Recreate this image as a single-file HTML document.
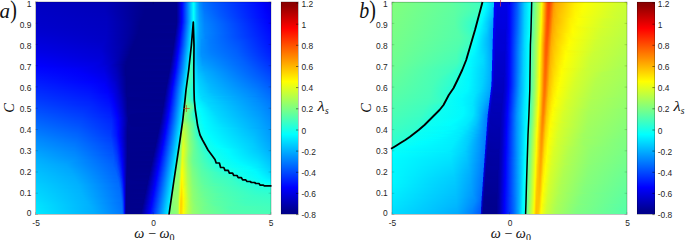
<!DOCTYPE html><html><head><meta charset="utf-8"><style>
*{margin:0;padding:0;box-sizing:border-box}
html,body{width:685px;height:240px;background:#fff;overflow:hidden;position:relative}
.hm{position:absolute;overflow:hidden}
.hr{position:absolute;left:0;width:100%}
.cb{position:absolute}
.ov{position:absolute;left:0;top:0}
.tk,.xl,.yl,.ll,.pl{position:absolute;white-space:nowrap;line-height:1;color:#262626}
.tk{font:8.4px "Liberation Sans",sans-serif;transform:translateY(-50%)}
.tk.r{transform:translate(-100%,-50%)}
.tk.c{transform:translate(-50%,-50%)}
.xl{font:14.2px "Liberation Serif",serif;transform:translate(-50%,-50%);color:#111}
.xl sub{font-size:10px;vertical-align:-2.2px;font-style:normal}
.yl{font:14.5px "Liberation Serif",serif;transform:translate(-50%,-50%) rotate(-90deg);color:#111}
.ll{font:14px "Liberation Serif",serif;transform:translateY(-50%);color:#111}
.ll sub{font-size:9.5px;vertical-align:-2.5px;margin-left:0.6px}
.ll .lam{display:inline-block;transform:scale(1.2,1.08)}
.pl{font:21px "Liberation Serif",serif;transform:translateY(-50%);color:#111}
.pp{display:inline-block;transform:scale(0.95,1.2) translate(0,-0.6px)}
.pb{display:inline-block;transform-origin:50% 80%;transform:scale(0.95,1.13) translate(0,0.7px)}
</style></head><body><div class="hm" style="left:36px;top:2px;width:235px;height:212px"><div class="hr" style="top:0px;height:1px;background:linear-gradient(90deg,#0000c2 0.5px,#0000b4 71.5px,#00008b 109.5px,#00008b 140.5px,#0000b1 142.5px,#0000f4 145.5px,#000cff 146.5px,#00edff 156.5px,#07fef8 157.5px,#00efff 158.5px,#00c0ff 160.5px,#0092ff 163.5px,#0074ff 167.5px,#005bff 176.5px,#0006ff 223.5px,#0000ee 231.5px,#0000e7 234.5px)"></div><div class="hr" style="top:1px;height:1px;background:linear-gradient(90deg,#0000c2 0.5px,#0000b5 71.5px,#00008b 109.5px,#00008b 140.5px,#0000b1 142.5px,#0000f4 145.5px,#000cff 146.5px,#00edff 156.5px,#07fef8 157.5px,#00f0ff 158.5px,#00c0ff 160.5px,#0092ff 163.5px,#0074ff 167.5px,#005aff 177.5px,#0007ff 223.5px,#0000f5 229.5px,#0000e8 234.5px)"></div><div class="hr" style="top:2px;height:1px;background:linear-gradient(90deg,#0000c3 0.5px,#0000b6 70.5px,#00008b 109.5px,#00008b 140.5px,#0000b1 142.5px,#0000f4 145.5px,#000cff 146.5px,#00edff 156.5px,#07fef8 157.5px,#00f0ff 158.5px,#00c0ff 160.5px,#0092ff 163.5px,#0074ff 167.5px,#005bff 177.5px,#001eff 213.5px,#0000fc 227.5px,#0000e9 234.5px)"></div><div class="hr" style="top:3px;height:1px;background:linear-gradient(90deg,#0000c3 0.5px,#0000b7 70.5px,#00008b 108.5px,#00008b 140.5px,#0000b1 142.5px,#0000f4 145.5px,#000cff 146.5px,#00edff 156.5px,#07fef8 157.5px,#00f0ff 158.5px,#00c0ff 160.5px,#0092ff 163.5px,#0074ff 167.5px,#005cff 177.5px,#0009ff 223.5px,#0000f7 229.5px,#0000ea 234.5px)"></div><div class="hr" style="top:4px;height:1px;background:linear-gradient(90deg,#0000c3 0.5px,#0000b8 69.5px,#000090 102.5px,#00008b 123.5px,#00008b 140.5px,#0000b1 142.5px,#0000f4 145.5px,#000cff 146.5px,#00edff 156.5px,#07fef8 157.5px,#00f0ff 158.5px,#00c0ff 160.5px,#0093ff 163.5px,#0075ff 167.5px,#005dff 177.5px,#000aff 223.5px,#0000f8 229.5px,#0000eb 234.5px)"></div><div class="hr" style="top:5px;height:1px;background:linear-gradient(90deg,#0000c4 0.5px,#0000b9 69.5px,#000090 102.5px,#00008b 124.5px,#00008b 140.5px,#0000b1 142.5px,#0000f4 145.5px,#000cff 146.5px,#00edff 156.5px,#07fef8 157.5px,#00f0ff 158.5px,#00c1ff 160.5px,#0094ff 163.5px,#0076ff 167.5px,#005eff 177.5px,#000bff 223.5px,#0000f9 229.5px,#0000ec 234.5px)"></div><div class="hr" style="top:6px;height:1px;background:linear-gradient(90deg,#0000c4 0.5px,#0000ba 68.5px,#000093 100.5px,#00008b 110.5px,#00008b 140.5px,#0000b1 142.5px,#0000f4 145.5px,#000cff 146.5px,#00edff 156.5px,#07fef8 157.5px,#00f0ff 158.5px,#00c1ff 160.5px,#0095ff 163.5px,#0077ff 167.5px,#005eff 177.5px,#000cff 223.5px,#0000fb 229.5px,#0000ee 234.5px)"></div><div class="hr" style="top:7px;height:1px;background:linear-gradient(90deg,#0000c5 0.5px,#0000bb 68.5px,#000095 99.5px,#00008b 109.5px,#00008b 140.5px,#0000b1 142.5px,#0000f4 145.5px,#000cff 146.5px,#00edff 156.5px,#07fef8 157.5px,#00f0ff 158.5px,#00c2ff 160.5px,#0096ff 163.5px,#0079ff 167.5px,#0061ff 176.5px,#000dff 223.5px,#0000f9 230.5px,#0000ef 234.5px)"></div><div class="hr" style="top:8px;height:1px;background:linear-gradient(90deg,#0000c5 0.5px,#0000bc 68.5px,#000095 99.5px,#00008b 108.5px,#00008b 140.5px,#0000b1 142.5px,#0000f4 145.5px,#000cff 146.5px,#00edff 156.5px,#07fef8 157.5px,#00f0ff 158.5px,#00c2ff 160.5px,#0098ff 163.5px,#0075ff 168.5px,#0054ff 184.5px,#000bff 224.5px,#0000fa 230.5px,#0000f0 234.5px)"></div><div class="hr" style="top:9px;height:1px;background:linear-gradient(90deg,#0000c5 0.5px,#0000bc 68.5px,#000096 98.5px,#00008b 108.5px,#00008b 140.5px,#0000b1 142.5px,#0000f4 145.5px,#000cff 146.5px,#00edff 156.5px,#07fef8 157.5px,#00f1ff 158.5px,#00c3ff 160.5px,#0099ff 163.5px,#0077ff 168.5px,#0057ff 183.5px,#000cff 224.5px,#0000f9 231.5px,#0000f1 234.5px)"></div><div class="hr" style="top:10px;height:1px;background:linear-gradient(90deg,#0000c6 0.5px,#0000bc 69.5px,#000095 99.5px,#00008b 108.5px,#00008b 140.5px,#0000b1 142.5px,#0000f4 145.5px,#000cff 146.5px,#00edff 156.5px,#07fef8 157.5px,#00f1ff 158.5px,#00c3ff 160.5px,#009aff 163.5px,#0078ff 168.5px,#0058ff 183.5px,#000aff 225.5px,#0000fa 231.5px,#0000f3 234.5px)"></div><div class="hr" style="top:11px;height:1px;background:linear-gradient(90deg,#0000c6 0.5px,#0000bd 69.5px,#000094 99.5px,#00008b 108.5px,#00008b 140.5px,#0000b1 142.5px,#0000f4 145.5px,#000cff 146.5px,#00edff 156.5px,#07fef8 157.5px,#00f1ff 158.5px,#00c4ff 160.5px,#009bff 163.5px,#0079ff 168.5px,#005bff 182.5px,#000bff 225.5px,#0000f9 232.5px,#0000f4 234.5px)"></div><div class="hr" style="top:12px;height:1px;background:linear-gradient(90deg,#0000c6 0.5px,#0000bd 69.5px,#000096 98.5px,#00008b 107.5px,#00008b 140.5px,#0000b1 142.5px,#0000f4 145.5px,#000cff 146.5px,#00edff 156.5px,#07fef8 157.5px,#00f1ff 158.5px,#00c4ff 160.5px,#009cff 163.5px,#007bff 168.5px,#005cff 182.5px,#000aff 226.5px,#0000f7 233.5px,#0000f5 234.5px)"></div><div class="hr" style="top:13px;height:1px;background:linear-gradient(90deg,#0000c7 0.5px,#0000bd 70.5px,#000094 99.5px,#00008b 108.5px,#00008b 140.5px,#0000b1 142.5px,#0000f4 145.5px,#000cff 146.5px,#00edff 156.5px,#07fef8 157.5px,#00f1ff 158.5px,#00c5ff 160.5px,#009cff 163.5px,#007cff 168.5px,#005bff 183.5px,#0008ff 227.5px,#0000f6 234.5px)"></div><div class="hr" style="top:14px;height:1px;background:linear-gradient(90deg,#0000c7 0.5px,#0000be 70.5px,#000094 99.5px,#00008b 107.5px,#00008b 140.5px,#0000b1 142.5px,#0000f4 145.5px,#000cff 146.5px,#00edff 156.5px,#07fef8 157.5px,#00f1ff 158.5px,#00c5ff 160.5px,#009dff 163.5px,#007dff 168.5px,#005cff 183.5px,#0007ff 228.5px,#0000f7 234.5px)"></div><div class="hr" style="top:15px;height:1px;background:linear-gradient(90deg,#0000c8 0.5px,#0000be 70.5px,#000096 98.5px,#00008b 106.5px,#00008b 140.5px,#0000b1 142.5px,#0000f4 145.5px,#000cff 146.5px,#00edff 156.5px,#07fef8 157.5px,#00f1ff 158.5px,#00c5ff 160.5px,#009eff 163.5px,#007eff 168.5px,#005cff 184.5px,#0005ff 229.5px,#0000f9 234.5px)"></div><div class="hr" style="top:16px;height:1px;background:linear-gradient(90deg,#0000c8 0.5px,#0000bf 70.5px,#000097 97.5px,#00008b 106.5px,#00008b 140.5px,#0000b1 142.5px,#0000f4 145.5px,#000cff 146.5px,#00edff 156.5px,#07fef8 157.5px,#00f1ff 158.5px,#00c6ff 160.5px,#009fff 163.5px,#007fff 168.5px,#005bff 185.5px,#0000fc 233.5px,#0000fa 234.5px)"></div><div class="hr" style="top:17px;height:1px;background:linear-gradient(90deg,#0000c8 0.5px,#0000bf 70.5px,#000099 96.5px,#00008b 105.5px,#00008b 140.5px,#0000b1 142.5px,#0000f4 145.5px,#000cff 146.5px,#00edff 156.5px,#07fef8 157.5px,#00f1ff 158.5px,#00c6ff 160.5px,#009fff 163.5px,#0080ff 168.5px,#0059ff 187.5px,#0000fb 234.5px)"></div><div class="hr" style="top:18px;height:1px;background:linear-gradient(90deg,#0000c9 0.5px,#0000bf 70.5px,#00009b 95.5px,#00008b 105.5px,#00008b 140.5px,#0000b1 142.5px,#0000f4 145.5px,#000cff 146.5px,#00edff 156.5px,#07fef8 157.5px,#00f1ff 158.5px,#00c6ff 160.5px,#00a0ff 163.5px,#0081ff 168.5px,#0052ff 191.5px,#0000fc 234.5px)"></div><div class="hr" style="top:19px;height:1px;background:linear-gradient(90deg,#0000c9 0.5px,#0000c0 70.5px,#00009d 94.5px,#00008b 104.5px,#00008b 140.5px,#0000b1 142.5px,#0000f4 145.5px,#000cff 146.5px,#00edff 156.5px,#07fef8 157.5px,#00f1ff 158.5px,#00c6ff 160.5px,#00a0ff 163.5px,#0082ff 168.5px,#0046ff 198.5px,#0000fd 234.5px)"></div><div class="hr" style="top:20px;height:1px;background:linear-gradient(90deg,#0000ca 0.5px,#0000c0 70.5px,#00009f 93.5px,#00008b 104.5px,#00008c 140.5px,#0000b2 142.5px,#0000f6 145.5px,#000dff 146.5px,#00eeff 156.5px,#0bfef4 157.5px,#00f6ff 158.5px,#00c9ff 160.5px,#00a2ff 163.5px,#0083ff 168.5px,#0047ff 198.5px,#0000fe 234.5px)"></div><div class="hr" style="top:21px;height:1px;background:linear-gradient(90deg,#0000ca 0.5px,#0000c0 70.5px,#00009f 93.5px,#00008b 104.5px,#00008d 140.5px,#0000f8 145.5px,#0026ff 147.5px,#00f0ff 156.5px,#0dfff2 157.5px,#00f5ff 158.5px,#00c9ff 160.5px,#00a2ff 163.5px,#0084ff 168.5px,#0033ff 209.5px,#0001ff 234.5px)"></div><div class="hr" style="top:22px;height:1px;background:linear-gradient(90deg,#0000cb 0.5px,#0000c0 70.5px,#00009f 93.5px,#00008b 104.5px,#00008e 140.5px,#0001fa 145.5px,#006cff 150.5px,#00f2ff 156.5px,#13ffec 157.5px,#00f5ff 158.5px,#00c9ff 160.5px,#00a3ff 163.5px,#0085ff 168.5px,#0002ff 234.5px)"></div><div class="hr" style="top:23px;height:1px;background:linear-gradient(90deg,#0000cb 0.5px,#0000c1 70.5px,#00009f 93.5px,#00008b 103.5px,#00008b 139.5px,#000090 140.5px,#0002fc 145.5px,#00f4ff 156.5px,#13ffec 157.5px,#00f4ff 158.5px,#00c9ff 160.5px,#00a3ff 163.5px,#0085ff 168.5px,#0003ff 234.5px)"></div><div class="hr" style="top:24px;height:1px;background:linear-gradient(90deg,#0000cc 0.5px,#0000c1 70.5px,#00009f 93.5px,#00008b 103.5px,#00008b 139.5px,#000092 140.5px,#0004fd 145.5px,#00f6ff 156.5px,#13ffec 157.5px,#00f3ff 158.5px,#00c8ff 160.5px,#00a3ff 163.5px,#0086ff 168.5px,#0004ff 234.5px)"></div><div class="hr" style="top:25px;height:1px;background:linear-gradient(90deg,#0000cc 0.5px,#0000c1 70.5px,#00009e 93.5px,#00008b 103.5px,#00008b 139.5px,#000095 140.5px,#0000ed 144.5px,#0005fe 145.5px,#03f7fc 156.5px,#13ffec 157.5px,#00f2ff 158.5px,#00c8ff 160.5px,#00a3ff 163.5px,#0086ff 168.5px,#0005ff 234.5px)"></div><div class="hr" style="top:26px;height:1px;background:linear-gradient(90deg,#0000cd 0.5px,#0000c2 70.5px,#00009e 93.5px,#00008b 103.5px,#00008b 139.5px,#000098 140.5px,#0000f0 144.5px,#0007ff 145.5px,#00e3ff 155.5px,#0af9f5 156.5px,#13ffec 157.5px,#00f2ff 158.5px,#00c8ff 160.5px,#00a3ff 163.5px,#0087ff 168.5px,#0006ff 234.5px)"></div><div class="hr" style="top:27px;height:1px;background:linear-gradient(90deg,#0000ce 0.5px,#0000c2 70.5px,#00009e 93.5px,#00008b 103.5px,#00008c 139.5px,#0000b1 141.5px,#0000f3 144.5px,#000aff 145.5px,#00e5ff 155.5px,#0afaf5 156.5px,#13ffec 157.5px,#00f1ff 158.5px,#00c7ff 160.5px,#00a3ff 163.5px,#0087ff 168.5px,#0007ff 234.5px)"></div><div class="hr" style="top:28px;height:1px;background:linear-gradient(90deg,#0000ce 0.5px,#0000c2 70.5px,#00009e 93.5px,#00008b 102.5px,#00008d 139.5px,#0000f5 144.5px,#000cff 145.5px,#00e7ff 155.5px,#0afbf5 156.5px,#13ffec 157.5px,#00f0ff 158.5px,#00c7ff 160.5px,#00a3ff 163.5px,#0087ff 168.5px,#0008ff 234.5px)"></div><div class="hr" style="top:29px;height:1px;background:linear-gradient(90deg,#0000cf 0.5px,#0000c3 69.5px,#00009f 92.5px,#00008b 102.5px,#00008e 139.5px,#0000f8 144.5px,#0025ff 146.5px,#00e9ff 155.5px,#0efcf1 156.5px,#14ffeb 157.5px,#00efff 158.5px,#00c6ff 160.5px,#00a3ff 163.5px,#0087ff 168.5px,#0009ff 234.5px)"></div><div class="hr" style="top:30px;height:1px;background:linear-gradient(90deg,#0000d0 0.5px,#0000c3 70.5px,#00009f 92.5px,#00008b 102.5px,#000090 139.5px,#0001fa 144.5px,#003dff 147.5px,#00ebff 155.5px,#15fdea 156.5px,#14ffeb 157.5px,#00eeff 158.5px,#00c6ff 160.5px,#00a2ff 163.5px,#0088ff 168.5px,#000aff 234.5px)"></div><div class="hr" style="top:31px;height:1px;background:linear-gradient(90deg,#0000d1 0.5px,#0000c3 70.5px,#00009f 92.5px,#00008b 102.5px,#00008b 138.5px,#000091 139.5px,#0002fb 144.5px,#00edff 155.5px,#16fee9 156.5px,#14ffeb 157.5px,#00edff 158.5px,#00c5ff 160.5px,#00a2ff 163.5px,#0088ff 168.5px,#000bff 234.5px)"></div><div class="hr" style="top:32px;height:1px;background:linear-gradient(90deg,#0000d2 0.5px,#0000c3 70.5px,#00009e 92.5px,#00008b 101.5px,#00008b 138.5px,#000094 139.5px,#0003fd 144.5px,#00eeff 155.5px,#16fee9 156.5px,#14ffeb 157.5px,#00ecff 158.5px,#00c4ff 160.5px,#00a2ff 163.5px,#0085ff 169.5px,#000cff 234.5px)"></div><div class="hr" style="top:33px;height:1px;background:linear-gradient(90deg,#0000d3 0.5px,#0000c4 69.5px,#0000a0 91.5px,#00008b 101.5px,#00008b 138.5px,#000097 139.5px,#0005fe 144.5px,#00f0ff 155.5px,#1bffe4 156.5px,#15feea 157.5px,#00ebff 158.5px,#00c4ff 160.5px,#00a1ff 163.5px,#0085ff 169.5px,#000dff 234.5px)"></div><div class="hr" style="top:34px;height:1px;background:linear-gradient(90deg,#0000d4 0.5px,#0000c5 69.5px,#0000a2 90.5px,#00008b 100.5px,#00008c 138.5px,#0000af 140.5px,#0000f0 143.5px,#0006ff 144.5px,#00f2ff 155.5px,#24ffdb 156.5px,#15feea 157.5px,#00eaff 158.5px,#00c3ff 160.5px,#00a1ff 163.5px,#0084ff 169.5px,#0014ff 231.5px,#000eff 234.5px)"></div><div class="hr" style="top:35px;height:1px;background:linear-gradient(90deg,#0000d6 0.5px,#0000c5 69.5px,#0000a2 90.5px,#00008b 100.5px,#00008c 138.5px,#0000dd 142.5px,#0000f2 143.5px,#0009ff 144.5px,#00f4ff 155.5px,#24ffdb 156.5px,#1cffe3 157.5px,#00e9ff 158.5px,#00c2ff 160.5px,#00a1ff 163.5px,#0084ff 169.5px,#0026ff 222.5px,#000eff 234.5px)"></div><div class="hr" style="top:36px;height:1px;background:linear-gradient(90deg,#0000d7 0.5px,#0000c5 69.5px,#0000a1 90.5px,#00008b 100.5px,#00008d 138.5px,#0000f5 143.5px,#000bff 144.5px,#00f6ff 155.5px,#25ffda 156.5px,#20ffdf 157.5px,#00e8ff 158.5px,#00c2ff 160.5px,#00a0ff 163.5px,#0084ff 169.5px,#0032ff 216.5px,#000fff 234.5px)"></div><div class="hr" style="top:37px;height:1px;background:linear-gradient(90deg,#0000d8 0.5px,#0000c6 69.5px,#0000a1 90.5px,#00008b 99.5px,#00008f 138.5px,#0000f7 143.5px,#0023ff 145.5px,#00e2ff 154.5px,#05f7fa 155.5px,#26ffd9 156.5px,#21ffde 157.5px,#00e7ff 158.5px,#00b3ff 161.5px,#0093ff 165.5px,#007cff 173.5px,#0043ff 208.5px,#0010ff 234.5px)"></div><div class="hr" style="top:38px;height:1px;background:linear-gradient(90deg,#0000d9 0.5px,#0000c6 69.5px,#0000a0 90.5px,#00008b 99.5px,#00008b 137.5px,#000091 138.5px,#0001f9 143.5px,#003bff 146.5px,#00e4ff 154.5px,#0ef9f1 155.5px,#27ffd8 156.5px,#22ffdd 157.5px,#00e6ff 158.5px,#00b3ff 161.5px,#0092ff 165.5px,#007cff 173.5px,#0046ff 207.5px,#0011ff 234.5px)"></div><div class="hr" style="top:39px;height:1px;background:linear-gradient(90deg,#0000da 0.5px,#0000c7 69.5px,#0000a2 89.5px,#00008b 98.5px,#00008b 137.5px,#000093 138.5px,#0002fb 143.5px,#00e6ff 154.5px,#0efaf1 155.5px,#27ffd8 156.5px,#22ffdd 157.5px,#00e5ff 158.5px,#00b2ff 161.5px,#0092ff 165.5px,#007cff 173.5px,#004bff 205.5px,#0012ff 234.5px)"></div><div class="hr" style="top:40px;height:1px;background:linear-gradient(90deg,#0000db 0.5px,#0000c8 68.5px,#0000a4 88.5px,#00008b 98.5px,#00008b 137.5px,#000096 138.5px,#0002fd 143.5px,#00e8ff 154.5px,#0ffbf0 155.5px,#28ffd7 156.5px,#23ffdc 157.5px,#00e4ff 158.5px,#00b1ff 161.5px,#0092ff 165.5px,#007cff 173.5px,#004eff 204.5px,#0013ff 234.5px)"></div><div class="hr" style="top:41px;height:1px;background:linear-gradient(90deg,#0000dc 0.5px,#0000ca 67.5px,#0000a6 87.5px,#00008b 98.5px,#00008b 137.5px,#0000ae 139.5px,#0004fe 143.5px,#00eaff 154.5px,#14fceb 155.5px,#29ffd6 156.5px,#24ffdb 157.5px,#00e3ff 158.5px,#00b1ff 161.5px,#0091ff 165.5px,#007cff 173.5px,#0051ff 203.5px,#0014ff 234.5px)"></div><div class="hr" style="top:42px;height:1px;background:linear-gradient(90deg,#0000de 0.5px,#0000ca 67.5px,#0000a8 86.5px,#00008b 97.5px,#00008c 137.5px,#0000c5 140.5px,#0006fe 143.5px,#00ebff 154.5px,#1ffde0 155.5px,#2affd5 156.5px,#24ffdb 157.5px,#00e1ff 158.5px,#00b0ff 161.5px,#0091ff 165.5px,#007dff 173.5px,#0052ff 203.5px,#0015ff 234.5px)"></div><div class="hr" style="top:43px;height:1px;background:linear-gradient(90deg,#0000df 0.5px,#0000cc 66.5px,#0000aa 85.5px,#00008b 97.5px,#00008d 137.5px,#0000f2 142.5px,#0008ff 143.5px,#00edff 154.5px,#1ffee0 155.5px,#2affd5 156.5px,#25ffda 157.5px,#00e0ff 158.5px,#00afff 161.5px,#0091ff 165.5px,#007dff 173.5px,#0055ff 202.5px,#0016ff 234.5px)"></div><div class="hr" style="top:44px;height:1px;background:linear-gradient(90deg,#0000e0 0.5px,#0000cd 65.5px,#0000af 83.5px,#00008b 96.5px,#00008f 137.5px,#0000f5 142.5px,#000bff 143.5px,#00f0ff 154.5px,#20ffdf 155.5px,#2bffd4 156.5px,#26ffd9 157.5px,#00dfff 158.5px,#00afff 161.5px,#0090ff 165.5px,#007cff 174.5px,#0056ff 202.5px,#0017ff 234.5px)"></div><div class="hr" style="top:45px;height:1px;background:linear-gradient(90deg,#0000e1 0.5px,#0000ce 65.5px,#0000af 83.5px,#00008b 96.5px,#00008b 136.5px,#000091 137.5px,#0000f8 142.5px,#0023ff 144.5px,#00f2ff 154.5px,#31ffce 155.5px,#27ffd8 157.5px,#00ddff 158.5px,#00aeff 161.5px,#0090ff 165.5px,#007cff 174.5px,#0059ff 201.5px,#0018ff 234.5px)"></div><div class="hr" style="top:46px;height:1px;background:linear-gradient(90deg,#0000e2 0.5px,#0000cf 65.5px,#0000ac 84.5px,#00008b 95.5px,#00008b 136.5px,#000094 137.5px,#0001fa 142.5px,#0064ff 147.5px,#00f4ff 154.5px,#32ffcd 155.5px,#27ffd8 157.5px,#00dcff 158.5px,#00adff 161.5px,#0090ff 165.5px,#007dff 174.5px,#005aff 201.5px,#001aff 234.5px)"></div><div class="hr" style="top:47px;height:1px;background:linear-gradient(90deg,#0000e3 0.5px,#0000d1 64.5px,#0000ae 83.5px,#00008b 95.5px,#00008b 136.5px,#000097 137.5px,#0002fc 142.5px,#00f6ff 154.5px,#33ffcc 155.5px,#28ffd7 157.5px,#00dbff 158.5px,#00adff 161.5px,#0090ff 165.5px,#007dff 174.5px,#005dff 200.5px,#001bff 234.5px)"></div><div class="hr" style="top:48px;height:1px;background:linear-gradient(90deg,#0000e4 0.5px,#0000d2 64.5px,#0000ae 83.5px,#00008b 95.5px,#00008c 136.5px,#0000c4 139.5px,#0004fd 142.5px,#00e4ff 153.5px,#0cf9f3 154.5px,#34ffcb 155.5px,#29ffd6 157.5px,#00daff 158.5px,#00acff 161.5px,#0090ff 165.5px,#007eff 174.5px,#005eff 200.5px,#001cff 234.5px)"></div><div class="hr" style="top:49px;height:1px;background:linear-gradient(90deg,#0000e6 0.5px,#0000d3 64.5px,#0000b0 82.5px,#00008b 94.5px,#00008d 136.5px,#0000f0 141.5px,#0006fe 142.5px,#00e6ff 153.5px,#13faec 154.5px,#34ffcb 155.5px,#29ffd6 157.5px,#00d9ff 158.5px,#00acff 161.5px,#0090ff 165.5px,#007fff 174.5px,#005fff 200.5px,#001dff 234.5px)"></div><div class="hr" style="top:50px;height:1px;background:linear-gradient(90deg,#0000e7 0.5px,#0000d3 65.5px,#0000ad 83.5px,#00008b 94.5px,#00008f 136.5px,#0000f3 141.5px,#0008ff 142.5px,#00e9ff 153.5px,#13fcec 154.5px,#35ffca 155.5px,#2affd5 157.5px,#00d8ff 158.5px,#00acff 161.5px,#0090ff 165.5px,#0080ff 174.5px,#0060ff 200.5px,#001eff 234.5px)"></div><div class="hr" style="top:51px;height:1px;background:linear-gradient(90deg,#0000e9 0.5px,#0000d4 65.5px,#0000b0 82.5px,#00008b 94.5px,#00008b 135.5px,#000091 136.5px,#0000f6 141.5px,#000bff 142.5px,#00ebff 153.5px,#20fddf 154.5px,#36ffc9 155.5px,#2bffd4 157.5px,#00d7ff 158.5px,#00acff 161.5px,#0091ff 165.5px,#0080ff 175.5px,#0060ff 201.5px,#0020ff 234.5px)"></div><div class="hr" style="top:52px;height:1px;background:linear-gradient(90deg,#0000eb 0.5px,#0000d5 65.5px,#0000b2 81.5px,#00008b 93.5px,#00008b 135.5px,#000093 136.5px,#0000f8 141.5px,#0022ff 143.5px,#00edff 153.5px,#28fed7 154.5px,#37ffc8 155.5px,#2bffd4 157.5px,#00d7ff 158.5px,#00acff 161.5px,#0092ff 165.5px,#0081ff 175.5px,#0061ff 201.5px,#0021ff 234.5px)"></div><div class="hr" style="top:53px;height:1px;background:linear-gradient(90deg,#0000ec 0.5px,#0000d5 66.5px,#0000af 82.5px,#00008b 93.5px,#00008b 135.5px,#000097 136.5px,#0001fb 141.5px,#00b3ff 150.5px,#00efff 153.5px,#28fed7 154.5px,#37ffc8 155.5px,#2cffd3 157.5px,#00d7ff 158.5px,#00adff 161.5px,#0093ff 165.5px,#0083ff 175.5px,#0062ff 201.5px,#0022ff 234.5px)"></div><div class="hr" style="top:54px;height:1px;background:linear-gradient(90deg,#0000ee 0.5px,#0000d6 66.5px,#0000af 82.5px,#00008b 92.5px,#00008c 135.5px,#0000ae 137.5px,#0002fc 141.5px,#00f2ff 153.5px,#37ffc8 154.5px,#33ffcc 156.5px,#2dffd2 157.5px,#00d7ff 158.5px,#00aeff 161.5px,#0094ff 165.5px,#0083ff 176.5px,#0060ff 203.5px,#0024ff 234.5px)"></div><div class="hr" style="top:55px;height:1px;background:linear-gradient(90deg,#0000f0 0.5px,#0000d7 66.5px,#0000b2 81.5px,#00008b 92.5px,#00008d 135.5px,#0004fe 141.5px,#00f4ff 153.5px,#3fffc0 154.5px,#2dffd2 157.5px,#00d7ff 158.5px,#00afff 161.5px,#0092ff 166.5px,#0062ff 203.5px,#0026ff 234.5px)"></div><div class="hr" style="top:56px;height:1px;background:linear-gradient(90deg,#0000f2 0.5px,#0000d8 66.5px,#0000b2 81.5px,#00008c 91.5px,#00008e 135.5px,#0000f0 140.5px,#0006ff 141.5px,#00f6ff 153.5px,#40ffbf 154.5px,#2effd1 157.5px,#00d7ff 158.5px,#00b0ff 161.5px,#0094ff 166.5px,#0061ff 204.5px,#0027ff 234.5px)"></div><div class="hr" style="top:57px;height:1px;background:linear-gradient(90deg,#0000f3 0.5px,#0000da 65.5px,#0000b9 79.5px,#00008b 91.5px,#00008b 134.5px,#000090 135.5px,#0000f3 140.5px,#0008ff 141.5px,#00e4ff 152.5px,#08f8f7 153.5px,#41ffbe 154.5px,#2fffd0 157.5px,#00d8ff 158.5px,#00b1ff 161.5px,#0096ff 166.5px,#0063ff 204.5px,#0029ff 234.5px)"></div><div class="hr" style="top:58px;height:1px;background:linear-gradient(90deg,#0000f5 0.5px,#0000db 65.5px,#0000b9 79.5px,#00008b 91.5px,#00008b 134.5px,#000093 135.5px,#0000f6 140.5px,#000bff 141.5px,#00e7ff 152.5px,#17fae8 153.5px,#41ffbe 154.5px,#30ffcf 157.5px,#00d8ff 158.5px,#00b3ff 161.5px,#0098ff 166.5px,#0062ff 205.5px,#002aff 234.5px)"></div><div class="hr" style="top:59px;height:1px;background:linear-gradient(90deg,#0000f7 0.5px,#0000dd 64.5px,#0000c0 77.5px,#00008b 90.5px,#00008b 134.5px,#000096 135.5px,#0000f9 140.5px,#0022ff 142.5px,#00e9ff 152.5px,#17fbe8 153.5px,#42ffbd 154.5px,#30ffcf 157.5px,#00d9ff 158.5px,#00b5ff 161.5px,#009aff 166.5px,#0062ff 206.5px,#002cff 234.5px)"></div><div class="hr" style="top:60px;height:1px;background:linear-gradient(90deg,#0000f8 0.5px,#0000e0 63.5px,#0000c3 76.5px,#00008b 90.5px,#00008c 134.5px,#0000ad 136.5px,#0001fb 140.5px,#00ebff 152.5px,#20fddf 153.5px,#43ffbc 154.5px,#31ffce 157.5px,#00daff 158.5px,#00b6ff 161.5px,#009cff 166.5px,#0062ff 207.5px,#002eff 234.5px)"></div><div class="hr" style="top:61px;height:1px;background:linear-gradient(90deg,#0000fa 0.5px,#0000e2 62.5px,#0000c7 75.5px,#00008b 90.5px,#00008d 134.5px,#0002fd 140.5px,#00edff 152.5px,#31fdce 153.5px,#44ffbb 154.5px,#32ffcd 157.5px,#00dbff 158.5px,#00b8ff 161.5px,#009eff 166.5px,#0061ff 208.5px,#0030ff 234.5px)"></div><div class="hr" style="top:62px;height:1px;background:linear-gradient(90deg,#0000fc 0.5px,#0000e3 61.5px,#0000cd 73.5px,#000093 87.5px,#00008b 91.5px,#00008e 134.5px,#0004fe 140.5px,#00efff 152.5px,#31fece 153.5px,#45ffba 154.5px,#32ffcd 157.5px,#00dcff 158.5px,#00b9ff 161.5px,#00a0ff 166.5px,#005fff 210.5px,#0032ff 234.5px)"></div><div class="hr" style="top:63px;height:1px;background:linear-gradient(90deg,#0000fd 0.5px,#0000e6 58.5px,#0000d6 70.5px,#0000a7 83.5px,#00008b 89.5px,#00008b 133.5px,#000090 134.5px,#0000f1 139.5px,#0006ff 140.5px,#00f2ff 152.5px,#3bffc4 153.5px,#46ffb9 154.5px,#2efcd1 157.5px,#00ddff 158.5px,#00bbff 161.5px,#00a2ff 166.5px,#005fff 211.5px,#0033ff 234.5px)"></div><div class="hr" style="top:64px;height:1px;background:linear-gradient(90deg,#0000ff 0.5px,#0000e9 56.5px,#0000d8 70.5px,#0000a8 83.5px,#00008b 89.5px,#00008b 133.5px,#000092 134.5px,#0000f4 139.5px,#0009ff 140.5px,#00f4ff 152.5px,#4dffb2 153.5px,#3affc5 156.5px,#23f7dc 157.5px,#00deff 158.5px,#00b5ff 162.5px,#00a1ff 168.5px,#0061ff 211.5px,#0035ff 234.5px)"></div><div class="hr" style="top:65px;height:1px;background:linear-gradient(90deg,#0002ff 0.5px,#0000ef 49.5px,#0000de 68.5px,#0000b6 80.5px,#00008b 89.5px,#00008b 133.5px,#000095 134.5px,#0000f7 139.5px,#000bff 140.5px,#00f6ff 152.5px,#4effb1 153.5px,#3bffc4 156.5px,#23f8dc 157.5px,#00dfff 158.5px,#00b7ff 162.5px,#00a3ff 168.5px,#005fff 213.5px,#0037ff 234.5px)"></div><div class="hr" style="top:66px;height:1px;background:linear-gradient(90deg,#0004ff 0.5px,#0000f5 41.5px,#0000e1 67.5px,#0000bc 79.5px,#00008b 89.5px,#00008c 133.5px,#0000ac 135.5px,#0000f9 139.5px,#0035ff 142.5px,#00e4ff 151.5px,#09f8f6 152.5px,#4effb1 153.5px,#3bffc4 156.5px,#24f8db 157.5px,#00e0ff 158.5px,#00b8ff 162.5px,#00a7ff 167.5px,#005dff 215.5px,#0039ff 234.5px)"></div><div class="hr" style="top:67px;height:1px;background:linear-gradient(90deg,#0005ff 0.5px,#0000f8 39.5px,#0000e2 67.5px,#0000bd 79.5px,#00008b 89.5px,#00008d 133.5px,#0001fb 139.5px,#00e7ff 151.5px,#1cfae3 152.5px,#4fffb0 153.5px,#3cffc3 156.5px,#24f8db 157.5px,#00e1ff 158.5px,#00baff 162.5px,#00a9ff 167.5px,#005dff 216.5px,#003bff 234.5px)"></div><div class="hr" style="top:68px;height:1px;background:linear-gradient(90deg,#0007ff 0.5px,#0000f9 40.5px,#0000e4 67.5px,#0000be 79.5px,#00008c 89.5px,#00008e 133.5px,#0003fd 139.5px,#00e9ff 151.5px,#1cfbe3 152.5px,#50ffaf 153.5px,#3cffc3 156.5px,#24f9db 157.5px,#00e3ff 158.5px,#00bcff 162.5px,#00abff 167.5px,#005bff 218.5px,#003dff 234.5px)"></div><div class="hr" style="top:69px;height:1px;background:linear-gradient(90deg,#0009ff 0.5px,#0000f9 42.5px,#0000e5 67.5px,#0000bf 79.5px,#00008c 89.5px,#00008b 132.5px,#000090 133.5px,#0000f0 138.5px,#0005fe 139.5px,#00ecff 151.5px,#2ffdd0 152.5px,#50ffaf 153.5px,#3cffc3 156.5px,#24f9db 157.5px,#00e4ff 158.5px,#00beff 162.5px,#00acff 168.5px,#0059ff 220.5px,#003fff 234.5px)"></div><div class="hr" style="top:70px;height:1px;background:linear-gradient(90deg,#000aff 0.5px,#0000fa 44.5px,#0000e5 68.5px,#0000b7 81.5px,#00008c 89.5px,#00008b 132.5px,#000093 133.5px,#0000f3 138.5px,#0007ff 139.5px,#00eeff 151.5px,#39fec6 152.5px,#50ffaf 153.5px,#3cffc3 156.5px,#24fadb 157.5px,#00e5ff 158.5px,#00c0ff 162.5px,#00aeff 168.5px,#0059ff 221.5px,#0041ff 234.5px)"></div><div class="hr" style="top:71px;height:1px;background:linear-gradient(90deg,#000cff 0.5px,#0000fa 46.5px,#0000e7 68.5px,#0000b8 81.5px,#00008c 89.5px,#00008b 132.5px,#000097 133.5px,#0000f6 138.5px,#000bff 139.5px,#00f1ff 151.5px,#39ffc6 152.5px,#50ffaf 153.5px,#3cffc3 156.5px,#2ffdd0 157.5px,#00e7ff 158.5px,#00c3ff 162.5px,#00aeff 169.5px,#0059ff 222.5px,#0043ff 234.5px)"></div><div class="hr" style="top:72px;height:1px;background:linear-gradient(90deg,#000eff 0.5px,#0000fb 48.5px,#0000e9 68.5px,#0000be 80.5px,#00008c 89.5px,#00008c 132.5px,#0000d4 136.5px,#0000f9 138.5px,#0034ff 141.5px,#00f4ff 151.5px,#56ffa9 152.5px,#34ffcb 157.5px,#00e8ff 158.5px,#00c5ff 162.5px,#00afff 169.5px,#0059ff 223.5px,#0045ff 234.5px)"></div><div class="hr" style="top:73px;height:1px;background:linear-gradient(90deg,#000fff 0.5px,#0000fa 51.5px,#0000e8 69.5px,#0000ba 81.5px,#00008c 89.5px,#00008d 132.5px,#0001fc 138.5px,#00f6ff 151.5px,#56ffa9 152.5px,#33ffcc 157.5px,#00e9ff 158.5px,#00c7ff 162.5px,#00b1ff 169.5px,#005bff 223.5px,#0047ff 234.5px)"></div><div class="hr" style="top:74px;height:1px;background:linear-gradient(90deg,#0011ff 0.5px,#0000fa 53.5px,#0000ea 69.5px,#0000c0 80.5px,#00008b 90.5px,#00008f 132.5px,#0003fd 138.5px,#00e6ff 150.5px,#14f9eb 151.5px,#55ffaa 152.5px,#32ffcd 157.5px,#00ebff 158.5px,#00c9ff 162.5px,#00b1ff 170.5px,#005bff 224.5px,#0049ff 234.5px)"></div><div class="hr" style="top:75px;height:1px;background:linear-gradient(90deg,#0013ff 0.5px,#0000fb 55.5px,#0000eb 69.5px,#0000c1 80.5px,#00008b 90.5px,#00008b 131.5px,#000092 132.5px,#0000f1 137.5px,#0005fe 138.5px,#00e8ff 150.5px,#1dfbe2 151.5px,#54ffab 152.5px,#30ffcf 157.5px,#00ecff 158.5px,#00caff 162.5px,#00b2ff 170.5px,#005dff 224.5px,#004bff 234.5px)"></div><div class="hr" style="top:76px;height:1px;background:linear-gradient(90deg,#0014ff 0.5px,#0000fb 57.5px,#0000eb 70.5px,#0000bd 81.5px,#00008b 90.5px,#00008b 131.5px,#000095 132.5px,#0000f4 137.5px,#0008ff 138.5px,#00ebff 150.5px,#1dfce2 151.5px,#52ffad 152.5px,#2fffd0 157.5px,#00edff 158.5px,#00ccff 162.5px,#00b4ff 170.5px,#005fff 224.5px,#004cff 234.5px)"></div><div class="hr" style="top:77px;height:1px;background:linear-gradient(90deg,#0016ff 0.5px,#0000fb 59.5px,#0000ec 70.5px,#0000bf 81.5px,#00008b 90.5px,#00008c 131.5px,#0000bf 134.5px,#0000f7 137.5px,#001eff 139.5px,#00eeff 150.5px,#3afdc5 151.5px,#51ffae 152.5px,#2dffd2 157.5px,#00eeff 158.5px,#00ceff 162.5px,#00b5ff 170.5px,#0061ff 224.5px,#004eff 234.5px)"></div><div class="hr" style="top:78px;height:1px;background:linear-gradient(90deg,#0018ff 0.5px,#0000fb 61.5px,#0000eb 71.5px,#0000ba 82.5px,#00008b 90.5px,#00008d 131.5px,#0001fa 137.5px,#0047ff 141.5px,#00f0ff 150.5px,#39fec6 151.5px,#50ffaf 152.5px,#2bffd4 157.5px,#00efff 158.5px,#00cfff 162.5px,#00b5ff 171.5px,#0065ff 223.5px,#0050ff 234.5px)"></div><div class="hr" style="top:79px;height:1px;background:linear-gradient(90deg,#001aff 0.5px,#0002ff 55.5px,#0000f2 69.5px,#0000cc 79.5px,#00008b 90.5px,#00008f 131.5px,#0002fc 137.5px,#00f3ff 150.5px,#4bffb4 151.5px,#4effb1 152.5px,#29ffd6 157.5px,#00f0ff 158.5px,#00d1ff 162.5px,#00b6ff 171.5px,#0067ff 223.5px,#0052ff 234.5px)"></div><div class="hr" style="top:80px;height:1px;background:linear-gradient(90deg,#001bff 0.5px,#0003ff 55.5px,#0000f4 69.5px,#0000ce 79.5px,#00008b 90.5px,#00008b 130.5px,#000091 131.5px,#0003fe 137.5px,#00f5ff 150.5px,#54ffab 151.5px,#27ffd8 157.5px,#00f2ff 158.5px,#00d2ff 162.5px,#00b8ff 171.5px,#0069ff 223.5px,#0054ff 234.5px)"></div><div class="hr" style="top:81px;height:1px;background:linear-gradient(90deg,#001dff 0.5px,#0005ff 55.5px,#0000f8 68.5px,#0000d4 78.5px,#00008b 90.5px,#00008b 130.5px,#000094 131.5px,#0000f2 136.5px,#0006ff 137.5px,#00e5ff 149.5px,#0af8f5 150.5px,#52ffad 151.5px,#25ffda 157.5px,#00f3ff 158.5px,#00cfff 163.5px,#00b4ff 174.5px,#006dff 222.5px,#0056ff 234.5px)"></div><div class="hr" style="top:82px;height:1px;background:linear-gradient(90deg,#001fff 0.5px,#0007ff 54.5px,#0000fa 68.5px,#0000d6 78.5px,#00008b 90.5px,#00008c 130.5px,#0000aa 132.5px,#0000f5 136.5px,#0009ff 137.5px,#00e8ff 149.5px,#1dfae2 150.5px,#51ffae 151.5px,#23ffdc 157.5px,#00f4ff 158.5px,#00d0ff 163.5px,#00b6ff 174.5px,#006fff 222.5px,#0058ff 234.5px)"></div><div class="hr" style="top:83px;height:1px;background:linear-gradient(90deg,#0020ff 0.5px,#0009ff 54.5px,#0000fb 68.5px,#0000d8 78.5px,#00008c 90.5px,#00008d 130.5px,#0000f8 136.5px,#001eff 138.5px,#00eaff 149.5px,#1cfce3 150.5px,#50ffaf 151.5px,#21ffde 157.5px,#00f5ff 158.5px,#00d2ff 163.5px,#00b7ff 174.5px,#0072ff 221.5px,#005aff 234.5px)"></div><div class="hr" style="top:84px;height:1px;background:linear-gradient(90deg,#0022ff 0.5px,#000aff 54.5px,#0000fb 69.5px,#0000d4 79.5px,#00008c 90.5px,#00008e 130.5px,#0001fb 136.5px,#00a3ff 145.5px,#00edff 149.5px,#2ffdd0 150.5px,#4effb1 151.5px,#20ffdf 157.5px,#00f6ff 158.5px,#00d3ff 163.5px,#00b8ff 174.5px,#0074ff 221.5px,#005cff 234.5px)"></div><div class="hr" style="top:85px;height:1px;background:linear-gradient(90deg,#0024ff 0.5px,#000cff 54.5px,#0000fa 70.5px,#0000d0 80.5px,#00008c 90.5px,#00008b 129.5px,#000090 130.5px,#0002fd 136.5px,#00f0ff 149.5px,#38fec7 150.5px,#4dffb2 151.5px,#1effe1 157.5px,#00f7ff 158.5px,#00d5ff 163.5px,#00baff 174.5px,#0076ff 221.5px,#005eff 234.5px)"></div><div class="hr" style="top:86px;height:1px;background:linear-gradient(90deg,#0025ff 0.5px,#000dff 54.5px,#0000fc 70.5px,#0000d7 79.5px,#00008c 90.5px,#00008b 129.5px,#000093 130.5px,#0004fe 136.5px,#00f2ff 149.5px,#41ffbe 150.5px,#4dffb2 151.5px,#1cffe3 157.5px,#00f8ff 158.5px,#00d6ff 163.5px,#00bbff 174.5px,#007aff 220.5px,#0060ff 234.5px)"></div><div class="hr" style="top:87px;height:1px;background:linear-gradient(90deg,#0027ff 0.5px,#000fff 54.5px,#0000fb 71.5px,#0000d3 80.5px,#00008c 90.5px,#00008b 129.5px,#0000a9 131.5px,#0000f3 135.5px,#0006ff 136.5px,#00f5ff 149.5px,#54ffab 150.5px,#1bffe4 157.5px,#00f9ff 158.5px,#00d7ff 163.5px,#00bcff 174.5px,#007cff 220.5px,#0062ff 234.5px)"></div><div class="hr" style="top:88px;height:1px;background:linear-gradient(90deg,#0029ff 0.5px,#0011ff 53.5px,#0000fd 71.5px,#0000d5 80.5px,#00008d 90.5px,#00008c 129.5px,#0000f5 135.5px,#0009ff 136.5px,#00f7ff 149.5px,#53ffac 150.5px,#19ffe6 157.5px,#00faff 158.5px,#00d9ff 163.5px,#00beff 174.5px,#007eff 220.5px,#0064ff 234.5px)"></div><div class="hr" style="top:89px;height:1px;background:linear-gradient(90deg,#002bff 0.5px,#0013ff 53.5px,#0000fc 72.5px,#0000d0 81.5px,#00008d 90.5px,#00008d 129.5px,#0000f8 135.5px,#001eff 137.5px,#00e6ff 148.5px,#0af9f5 149.5px,#53ffac 150.5px,#18ffe7 157.5px,#00fbff 158.5px,#00daff 163.5px,#00bfff 174.5px,#0081ff 219.5px,#0066ff 234.5px)"></div><div class="hr" style="top:90px;height:1px;background:linear-gradient(90deg,#002cff 0.5px,#0014ff 53.5px,#0000fd 72.5px,#0000d2 81.5px,#00008d 90.5px,#00008f 129.5px,#0001fa 135.5px,#0044ff 139.5px,#00e8ff 148.5px,#1efae1 149.5px,#54ffab 150.5px,#17ffe8 157.5px,#00fcff 158.5px,#00dbff 163.5px,#00c0ff 174.5px,#0083ff 219.5px,#0067ff 234.5px)"></div><div class="hr" style="top:91px;height:1px;background:linear-gradient(90deg,#002eff 0.5px,#0016ff 53.5px,#0003ff 71.5px,#0000eb 77.5px,#0000a7 87.5px,#00008e 90.5px,#00008b 128.5px,#000091 129.5px,#0001fc 135.5px,#00eaff 148.5px,#1efbe1 149.5px,#54ffab 150.5px,#17ffe8 157.5px,#01fdfe 158.5px,#00d9ff 164.5px,#00bcff 178.5px,#0085ff 219.5px,#0069ff 234.5px)"></div><div class="hr" style="top:92px;height:1px;background:linear-gradient(90deg,#0030ff 0.5px,#0017ff 53.5px,#0005ff 71.5px,#0000f6 75.5px,#0000c0 84.5px,#00008e 90.5px,#00008b 128.5px,#000093 129.5px,#0002fd 135.5px,#00ecff 148.5px,#1efce1 149.5px,#55ffaa 150.5px,#17ffe8 157.5px,#01fefe 158.5px,#00daff 164.5px,#00beff 178.5px,#0088ff 218.5px,#006bff 234.5px)"></div><div class="hr" style="top:93px;height:1px;background:linear-gradient(90deg,#0031ff 0.5px,#0019ff 53.5px,#0007ff 71.5px,#0000f8 75.5px,#0000c1 84.5px,#00008f 90.5px,#00008b 128.5px,#0000a8 130.5px,#0004fe 135.5px,#00eeff 148.5px,#3efdc1 149.5px,#56ffa9 150.5px,#17ffe8 157.5px,#03fefc 158.5px,#00dcff 164.5px,#00bfff 178.5px,#008aff 218.5px,#006dff 234.5px)"></div><div class="hr" style="top:94px;height:1px;background:linear-gradient(90deg,#0033ff 0.5px,#001bff 52.5px,#0008ff 71.5px,#0000f9 75.5px,#0000c3 84.5px,#00008f 90.5px,#00008c 128.5px,#0000bc 131.5px,#0000f2 134.5px,#0006ff 135.5px,#00f0ff 148.5px,#3ffec0 149.5px,#58ffa7 150.5px,#18ffe7 157.5px,#07fff8 158.5px,#00f2ff 160.5px,#00d4ff 167.5px,#00aeff 194.5px,#0074ff 231.5px,#006fff 234.5px)"></div><div class="hr" style="top:95px;height:1px;background:linear-gradient(90deg,#0035ff 0.5px,#001dff 52.5px,#0007ff 72.5px,#0000f7 76.5px,#0000bc 85.5px,#00008b 91.5px,#00008d 128.5px,#0000f5 134.5px,#0008ff 135.5px,#00f2ff 148.5px,#41ffbe 149.5px,#5affa5 150.5px,#19ffe6 157.5px,#08fff7 158.5px,#00fbff 159.5px,#00dbff 165.5px,#00bdff 182.5px,#008dff 218.5px,#0070ff 234.5px)"></div><div class="hr" style="top:96px;height:1px;background:linear-gradient(90deg,#0036ff 0.5px,#001eff 52.5px,#0009ff 72.5px,#0000f9 76.5px,#0000bd 85.5px,#00008b 91.5px,#00008e 128.5px,#0000f7 134.5px,#001cff 136.5px,#00f3ff 148.5px,#59ffa6 149.5px,#5dffa2 150.5px,#1bffe4 157.5px,#00fcff 159.5px,#00ddff 165.5px,#00bdff 183.5px,#008fff 218.5px,#0072ff 234.5px)"></div><div class="hr" style="top:97px;height:1px;background:linear-gradient(90deg,#0038ff 0.5px,#0020ff 52.5px,#000bff 72.5px,#0000fa 76.5px,#0000bf 85.5px,#00008b 91.5px,#00008b 127.5px,#000090 128.5px,#0000fa 134.5px,#0031ff 137.5px,#00f5ff 148.5px,#68ff97 149.5px,#28ffd7 156.5px,#01fefe 159.5px,#00dcff 166.5px,#00baff 187.5px,#008dff 220.5px,#0074ff 234.5px)"></div><div class="hr" style="top:98px;height:1px;background:linear-gradient(90deg,#003aff 0.5px,#0020ff 53.5px,#000dff 72.5px,#0000fc 76.5px,#0000c8 84.5px,#00008b 91.5px,#00008b 127.5px,#000092 128.5px,#0001fb 134.5px,#00f7ff 148.5px,#6bff94 149.5px,#39ffc6 155.5px,#22ffdd 157.5px,#02fffd 159.5px,#00deff 166.5px,#00bdff 186.5px,#008fff 220.5px,#0075ff 234.5px)"></div><div class="hr" style="top:99px;height:1px;background:linear-gradient(90deg,#003cff 0.5px,#0022ff 53.5px,#000eff 72.5px,#0000f9 77.5px,#0000c2 85.5px,#00008c 91.5px,#00008b 127.5px,#000095 128.5px,#0002fd 134.5px,#00e7ff 147.5px,#0df9f2 148.5px,#6fff90 149.5px,#3fffc0 155.5px,#29ffd6 157.5px,#12ffed 158.5px,#04fffb 159.5px,#00dbff 168.5px,#00b7ff 193.5px,#0082ff 228.5px,#0077ff 234.5px)"></div><div class="hr" style="top:100px;height:1px;background:linear-gradient(90deg,#003eff 0.5px,#0023ff 54.5px,#0010ff 72.5px,#0000fb 77.5px,#0000c3 85.5px,#00008c 91.5px,#00008c 127.5px,#0000bb 130.5px,#0004fe 134.5px,#00e9ff 147.5px,#27fad8 148.5px,#74ff8b 149.5px,#47ffb8 155.5px,#31ffce 157.5px,#06fff9 159.5px,#00f3ff 162.5px,#00d4ff 172.5px,#008eff 222.5px,#0078ff 234.5px)"></div><div class="hr" style="top:101px;height:1px;background:linear-gradient(90deg,#0040ff 0.5px,#0023ff 55.5px,#000fff 73.5px,#0000fd 77.5px,#0000c4 85.5px,#00008c 91.5px,#00008c 127.5px,#0000f3 133.5px,#0006ff 134.5px,#00ebff 147.5px,#29fcd6 148.5px,#78ff87 149.5px,#50ffaf 155.5px,#3affc5 157.5px,#09fff6 159.5px,#00f5ff 162.5px,#00d6ff 172.5px,#008eff 223.5px,#007aff 234.5px)"></div><div class="hr" style="top:102px;height:1px;background:linear-gradient(90deg,#0042ff 0.5px,#0024ff 56.5px,#0011ff 73.5px,#0000f9 78.5px,#0000bd 86.5px,#00008c 91.5px,#00008e 127.5px,#0000f5 133.5px,#0008ff 134.5px,#00edff 147.5px,#38fdc7 148.5px,#7cff83 149.5px,#58ffa7 155.5px,#42ffbd 157.5px,#0bfff4 159.5px,#00f8ff 162.5px,#00d8ff 172.5px,#008dff 224.5px,#007bff 234.5px)"></div><div class="hr" style="top:103px;height:1px;background:linear-gradient(90deg,#0044ff 0.5px,#0026ff 55.5px,#0012ff 73.5px,#0000fb 78.5px,#0000be 86.5px,#00008c 91.5px,#00008f 127.5px,#0000f8 133.5px,#001cff 135.5px,#00efff 147.5px,#55feaa 148.5px,#7fff80 149.5px,#5fffa0 155.5px,#49ffb6 157.5px,#37ffc8 158.5px,#0efff1 159.5px,#00fbff 162.5px,#00daff 172.5px,#008dff 225.5px,#007cff 234.5px)"></div><div class="hr" style="top:104px;height:1px;background:linear-gradient(90deg,#0046ff 0.5px,#0029ff 54.5px,#0014ff 73.5px,#0000fd 78.5px,#0000bf 86.5px,#00008d 91.5px,#00008b 126.5px,#000091 127.5px,#0000fa 133.5px,#0053ff 138.5px,#00f1ff 147.5px,#57fea8 148.5px,#81ff7e 149.5px,#65ff9a 155.5px,#3effc1 158.5px,#10ffef 159.5px,#00fdff 162.5px,#00dcff 172.5px,#008dff 226.5px,#007eff 234.5px)"></div><div class="hr" style="top:105px;height:1px;background:linear-gradient(90deg,#0048ff 0.5px,#002cff 52.5px,#0016ff 73.5px,#0001fe 78.5px,#0000ca 85.5px,#00008d 91.5px,#00008b 126.5px,#000094 127.5px,#0001fc 133.5px,#00f3ff 147.5px,#67ff98 148.5px,#83ff7c 149.5px,#5fffa0 156.5px,#3effc1 158.5px,#13ffec 159.5px,#00faff 163.5px,#00d7ff 175.5px,#0092ff 224.5px,#007fff 234.5px)"></div><div class="hr" style="top:106px;height:1px;background:linear-gradient(90deg,#004aff 0.5px,#002eff 51.5px,#0018ff 73.5px,#0000fb 79.5px,#0000b8 87.5px,#00008d 91.5px,#00008c 126.5px,#0000ba 129.5px,#0002fd 133.5px,#00f5ff 147.5px,#86ff79 148.5px,#65ff9a 155.5px,#4dffb2 157.5px,#39ffc6 158.5px,#17ffe8 159.5px,#00fdff 163.5px,#00d9ff 175.5px,#0091ff 225.5px,#0080ff 234.5px)"></div><div class="hr" style="top:107px;height:1px;background:linear-gradient(90deg,#004cff 0.5px,#0030ff 50.5px,#0019ff 73.5px,#0000fd 79.5px,#0000c4 86.5px,#00008e 91.5px,#00008c 126.5px,#0004fe 133.5px,#00f7ff 147.5px,#87ff78 148.5px,#6fff90 153.5px,#53ffac 156.5px,#1affe5 159.5px,#00feff 163.5px,#00daff 175.5px,#0092ff 225.5px,#0081ff 234.5px)"></div><div class="hr" style="top:108px;height:1px;background:linear-gradient(90deg,#004eff 0.5px,#0033ff 49.5px,#0018ff 74.5px,#0001fe 79.5px,#0000c5 86.5px,#00008e 91.5px,#00008d 126.5px,#0000f4 132.5px,#0006ff 133.5px,#00e8ff 146.5px,#0ff9f0 147.5px,#87ff78 148.5px,#73ff8c 152.5px,#58ffa7 155.5px,#18ffe7 159.5px,#00fcff 164.5px,#00d8ff 177.5px,#0095ff 224.5px,#0083ff 234.5px)"></div><div class="hr" style="top:109px;height:1px;background:linear-gradient(90deg,#0050ff 0.5px,#0035ff 48.5px,#001aff 74.5px,#0000fa 80.5px,#0000bc 87.5px,#00008f 91.5px,#00008f 126.5px,#0000f6 132.5px,#0009ff 133.5px,#00eaff 146.5px,#2dfad2 147.5px,#88ff77 148.5px,#71ff8e 152.5px,#44ffbb 156.5px,#17ffe8 159.5px,#00fdff 164.5px,#00daff 177.5px,#0097ff 224.5px,#0084ff 234.5px)"></div><div class="hr" style="top:110px;height:1px;background:linear-gradient(90deg,#0051ff 0.5px,#0038ff 46.5px,#001cff 74.5px,#0000fc 80.5px,#0000be 87.5px,#00008f 91.5px,#00008b 125.5px,#000092 126.5px,#0000f9 132.5px,#001dff 134.5px,#00ecff 146.5px,#2dfcd2 147.5px,#89ff76 148.5px,#6fff90 152.5px,#40ffbf 156.5px,#16ffe9 159.5px,#00fbff 165.5px,#00d8ff 179.5px,#0098ff 224.5px,#0085ff 234.5px)"></div><div class="hr" style="top:111px;height:1px;background:linear-gradient(90deg,#0054ff 0.5px,#003aff 46.5px,#001dff 74.5px,#0000fe 80.5px,#0000bf 87.5px,#000090 91.5px,#00008b 101.5px,#00008b 125.5px,#000094 126.5px,#0001fb 132.5px,#00eeff 146.5px,#3cfdc3 147.5px,#89ff76 148.5px,#6dff92 152.5px,#2fffd0 157.5px,#15ffea 159.5px,#00fcff 165.5px,#00d9ff 179.5px,#0099ff 224.5px,#0086ff 234.5px)"></div><div class="hr" style="top:112px;height:1px;background:linear-gradient(90deg,#0056ff 0.5px,#003cff 46.5px,#001fff 74.5px,#0001ff 80.5px,#0000cb 86.5px,#000091 91.5px,#00008b 95.5px,#00008c 125.5px,#0000ba 128.5px,#0002fd 132.5px,#00efff 146.5px,#5afea5 147.5px,#8aff75 148.5px,#6cff93 152.5px,#22ffdd 158.5px,#14ffeb 159.5px,#10ffef 161.5px,#00fdff 165.5px,#00daff 179.5px,#009aff 224.5px,#0087ff 234.5px)"></div><div class="hr" style="top:113px;height:1px;background:linear-gradient(90deg,#0058ff 0.5px,#003dff 46.5px,#0021ff 74.5px,#0000fb 81.5px,#0000b7 88.5px,#000091 91.5px,#00008b 94.5px,#00008d 125.5px,#0003fe 132.5px,#00f1ff 146.5px,#5bfea4 147.5px,#8aff75 148.5px,#62ff9d 153.5px,#17ffe8 159.5px,#00fbff 166.5px,#00d8ff 181.5px,#009dff 223.5px,#0089ff 234.5px)"></div><div class="hr" style="top:114px;height:1px;background:linear-gradient(90deg,#005aff 0.5px,#003fff 46.5px,#001fff 75.5px,#0000fc 81.5px,#0000b8 88.5px,#000092 91.5px,#00008b 93.5px,#00008e 125.5px,#0000f3 131.5px,#0005ff 132.5px,#00f3ff 146.5px,#6bff94 147.5px,#8bff74 148.5px,#58ffa7 154.5px,#1affe5 159.5px,#00fcff 166.5px,#00d8ff 182.5px,#009eff 223.5px,#008aff 234.5px)"></div><div class="hr" style="top:115px;height:1px;background:linear-gradient(90deg,#005cff 0.5px,#0041ff 46.5px,#0021ff 75.5px,#0001fe 81.5px,#0000c5 87.5px,#00008b 92.5px,#00008b 124.5px,#000090 125.5px,#0000f5 131.5px,#0007ff 132.5px,#00f5ff 146.5px,#8aff75 147.5px,#8cff73 148.5px,#5affa5 154.5px,#16ffe9 160.5px,#00fdff 166.5px,#00d9ff 182.5px,#00a0ff 223.5px,#008bff 234.5px)"></div><div class="hr" style="top:116px;height:1px;background:linear-gradient(90deg,#005eff 0.5px,#0043ff 46.5px,#0023ff 75.5px,#0002ff 81.5px,#0000c6 87.5px,#00008b 92.5px,#00008b 124.5px,#000092 125.5px,#0000f8 131.5px,#001bff 133.5px,#00f7ff 146.5px,#8cff73 147.5px,#8eff71 148.5px,#52ffad 155.5px,#17ffe8 160.5px,#00feff 166.5px,#00dbff 182.5px,#00a1ff 223.5px,#008cff 234.5px)"></div><div class="hr" style="top:117px;height:1px;background:linear-gradient(90deg,#0060ff 0.5px,#0045ff 45.5px,#0025ff 75.5px,#0000fa 82.5px,#0000af 89.5px,#00008b 92.5px,#00008b 124.5px,#0000a6 126.5px,#0000fa 131.5px,#0050ff 136.5px,#00e8ff 145.5px,#0ff9f0 146.5px,#8eff71 147.5px,#90ff6f 148.5px,#56ffa9 155.5px,#1affe5 160.5px,#00feff 166.5px,#00dcff 182.5px,#00a4ff 222.5px,#008dff 234.5px)"></div><div class="hr" style="top:118px;height:1px;background:linear-gradient(90deg,#0062ff 0.5px,#0047ff 45.5px,#0026ff 75.5px,#0000fc 82.5px,#0000b0 89.5px,#00008b 92.5px,#00008c 124.5px,#0001fc 131.5px,#00eaff 145.5px,#2ffbd0 146.5px,#91ff6e 147.5px,#93ff6c 148.5px,#51ffae 156.5px,#14ffeb 161.5px,#00fcff 167.5px,#00daff 184.5px,#00a5ff 222.5px,#008eff 234.5px)"></div><div class="hr" style="top:119px;height:1px;background:linear-gradient(90deg,#0064ff 0.5px,#0049ff 45.5px,#0027ff 75.5px,#0000fc 82.5px,#0000af 89.5px,#00008b 92.5px,#00008d 124.5px,#0003fe 131.5px,#00edff 145.5px,#30fccf 146.5px,#95ff6a 147.5px,#98ff67 148.5px,#4cffb3 157.5px,#15ffea 161.5px,#00fdff 167.5px,#00dbff 184.5px,#00a6ff 222.5px,#008fff 234.5px)"></div><div class="hr" style="top:120px;height:1px;background:linear-gradient(90deg,#0066ff 0.5px,#004bff 44.5px,#0028ff 75.5px,#0000fc 82.5px,#0000bc 88.5px,#000093 91.5px,#00008b 93.5px,#00008f 124.5px,#0000f3 130.5px,#0005ff 131.5px,#00efff 145.5px,#61fd9e 146.5px,#9aff65 147.5px,#9dff62 148.5px,#52ffad 157.5px,#28ffd7 160.5px,#16ffe9 161.5px,#00feff 167.5px,#00ddff 184.5px,#00a7ff 222.5px,#0090ff 234.5px)"></div><div class="hr" style="top:121px;height:1px;background:linear-gradient(90deg,#0068ff 0.5px,#004dff 44.5px,#002aff 75.5px,#0000fd 82.5px,#0000bc 88.5px,#000092 91.5px,#00008b 93.5px,#00008b 123.5px,#000092 124.5px,#0000f6 130.5px,#0008ff 131.5px,#00f1ff 145.5px,#63fe9c 146.5px,#9fff60 147.5px,#a2ff5d 148.5px,#57ffa8 157.5px,#2dffd2 160.5px,#19ffe6 161.5px,#00feff 167.5px,#00deff 184.5px,#00aaff 221.5px,#0091ff 234.5px)"></div><div class="hr" style="top:122px;height:1px;background:linear-gradient(90deg,#006aff 0.5px,#0050ff 43.5px,#002bff 75.5px,#0000fd 82.5px,#0000bb 88.5px,#000092 91.5px,#00008b 93.5px,#00008b 123.5px,#0000a6 125.5px,#0000f9 130.5px,#002cff 133.5px,#00f4ff 145.5px,#76ff89 146.5px,#a4ff5b 147.5px,#a6ff59 148.5px,#50ffaf 158.5px,#2fffd0 160.5px,#1affe5 161.5px,#00fcff 168.5px,#00dcff 187.5px,#00a9ff 222.5px,#0092ff 234.5px)"></div><div class="hr" style="top:123px;height:1px;background:linear-gradient(90deg,#006cff 0.5px,#0051ff 43.5px,#002cff 75.5px,#0001fd 82.5px,#0000bb 88.5px,#000091 91.5px,#00008b 95.5px,#00008c 123.5px,#0001fb 130.5px,#00f6ff 145.5px,#9aff65 146.5px,#a9ff56 147.5px,#aaff55 148.5px,#51ffae 158.5px,#1bffe4 161.5px,#00fdff 168.5px,#00ddff 187.5px,#00aaff 222.5px,#0093ff 234.5px)"></div><div class="hr" style="top:124px;height:1px;background:linear-gradient(90deg,#006eff 0.5px,#0054ff 42.5px,#002dff 75.5px,#0008ff 81.5px,#0000f5 83.5px,#00009f 90.5px,#000090 91.5px,#00008b 98.5px,#00008d 123.5px,#0002fd 130.5px,#00f9ff 145.5px,#9dff62 146.5px,#aeff51 147.5px,#aeff51 148.5px,#5cffa3 157.5px,#2effd1 160.5px,#1cffe3 161.5px,#00feff 168.5px,#00deff 187.5px,#00adff 221.5px,#0095ff 234.5px)"></div><div class="hr" style="top:125px;height:1px;background:linear-gradient(90deg,#0070ff 0.5px,#0056ff 42.5px,#002eff 75.5px,#0009ff 81.5px,#0000f5 83.5px,#00009e 90.5px,#00008f 91.5px,#00008b 122.5px,#000090 123.5px,#0004fe 130.5px,#00eaff 144.5px,#32facd 145.5px,#a1ff5e 146.5px,#b2ff4d 147.5px,#b2ff4d 148.5px,#5cffa3 157.5px,#1fffe0 161.5px,#12ffed 163.5px,#00fcff 169.5px,#00d7ff 194.5px,#00a1ff 228.5px,#0096ff 234.5px)"></div><div class="hr" style="top:126px;height:1px;background:linear-gradient(90deg,#0072ff 0.5px,#0058ff 42.5px,#002fff 75.5px,#0009ff 81.5px,#0000f5 83.5px,#00009d 90.5px,#00008f 91.5px,#00008b 122.5px,#000092 123.5px,#0000f5 129.5px,#0006ff 130.5px,#00edff 144.5px,#32fccd 145.5px,#a4ff5b 146.5px,#b7ff48 147.5px,#acff53 149.5px,#4fffb0 158.5px,#17ffe8 162.5px,#00fcff 169.5px,#00d5ff 197.5px,#0097ff 234.5px)"></div><div class="hr" style="top:127px;height:1px;background:linear-gradient(90deg,#0074ff 0.5px,#005aff 42.5px,#0030ff 75.5px,#000aff 81.5px,#0000f5 83.5px,#00009c 90.5px,#00008e 91.5px,#00008b 122.5px,#0000a6 124.5px,#0000f8 129.5px,#001aff 131.5px,#00efff 144.5px,#54fdab 145.5px,#a8ff57 146.5px,#baff45 147.5px,#aeff51 149.5px,#4fffb0 158.5px,#1affe5 162.5px,#00fdff 169.5px,#00b1ff 221.5px,#0098ff 234.5px)"></div><div class="hr" style="top:128px;height:1px;background:linear-gradient(90deg,#0076ff 0.5px,#005bff 42.5px,#0035ff 74.5px,#0013ff 80.5px,#0002fe 82.5px,#0000b9 88.5px,#00008e 91.5px,#00008c 122.5px,#0000fb 129.5px,#008fff 138.5px,#00f1ff 144.5px,#66fe99 145.5px,#abff54 146.5px,#beff41 147.5px,#b0ff4f 149.5px,#36ffc9 160.5px,#14ffeb 163.5px,#00fcff 170.5px,#00b4ff 220.5px,#0099ff 234.5px)"></div><div class="hr" style="top:129px;height:1px;background:linear-gradient(90deg,#0078ff 0.5px,#005dff 42.5px,#0036ff 74.5px,#0013ff 80.5px,#0002fe 82.5px,#0000c6 87.5px,#00008d 91.5px,#00008e 122.5px,#0001fd 129.5px,#00f4ff 144.5px,#77ff88 145.5px,#afff50 146.5px,#c1ff3e 147.5px,#b2ff4d 149.5px,#15ffea 163.5px,#00fdff 170.5px,#00b5ff 220.5px,#009aff 234.5px)"></div><div class="hr" style="top:130px;height:1px;background:linear-gradient(90deg,#007aff 0.5px,#0060ff 41.5px,#0037ff 74.5px,#0014ff 80.5px,#0002fe 82.5px,#0000c5 87.5px,#00008d 91.5px,#00008b 121.5px,#000090 122.5px,#0003fe 129.5px,#00f6ff 144.5px,#99ff66 145.5px,#c5ff3a 147.5px,#a8ff57 150.5px,#17ffe8 163.5px,#00fdff 171.5px,#00b8ff 219.5px,#009bff 234.5px)"></div><div class="hr" style="top:131px;height:1px;background:linear-gradient(90deg,#007cff 0.5px,#0062ff 41.5px,#0038ff 74.5px,#0014ff 80.5px,#0002fe 82.5px,#0000c5 87.5px,#00008d 91.5px,#00008b 121.5px,#000093 122.5px,#0000f4 128.5px,#0005ff 129.5px,#00f8ff 144.5px,#9bff64 145.5px,#b6ff49 146.5px,#c8ff37 147.5px,#13ffec 164.5px,#00fcff 172.5px,#00bbff 218.5px,#009bff 234.5px)"></div><div class="hr" style="top:132px;height:1px;background:linear-gradient(90deg,#007eff 0.5px,#0064ff 41.5px,#003aff 74.5px,#0015ff 80.5px,#0002fe 82.5px,#0000c5 87.5px,#00008c 91.5px,#00008c 121.5px,#0000b6 124.5px,#0000f7 128.5px,#0008ff 129.5px,#00eaff 143.5px,#30facf 144.5px,#9cff63 145.5px,#b9ff46 146.5px,#caff35 147.5px,#14ffeb 164.5px,#00fcff 173.5px,#00bcff 218.5px,#009cff 234.5px)"></div><div class="hr" style="top:133px;height:1px;background:linear-gradient(90deg,#0080ff 0.5px,#0065ff 41.5px,#003bff 74.5px,#0016ff 80.5px,#0003ff 82.5px,#0000c5 87.5px,#00008c 91.5px,#00008c 121.5px,#0000fa 128.5px,#003bff 132.5px,#00edff 143.5px,#30fccf 144.5px,#9dff62 145.5px,#bcff43 146.5px,#ccff33 147.5px,#53ffac 158.5px,#17ffe8 164.5px,#00fdff 173.5px,#00bdff 218.5px,#009dff 234.5px)"></div><div class="hr" style="top:134px;height:1px;background:linear-gradient(90deg,#0083ff 0.5px,#0067ff 41.5px,#003dff 74.5px,#0018ff 80.5px,#0004ff 82.5px,#0000e1 85.5px,#00008c 91.5px,#00008e 121.5px,#0001fc 128.5px,#00efff 143.5px,#4ffdb0 144.5px,#9eff61 145.5px,#beff41 146.5px,#ceff31 147.5px,#68ff97 156.5px,#14ffeb 165.5px,#00fdff 174.5px,#00c1ff 217.5px,#009eff 234.5px)"></div><div class="hr" style="top:135px;height:1px;background:linear-gradient(90deg,#0085ff 0.5px,#0069ff 41.5px,#003fff 74.5px,#0022ff 79.5px,#0000fa 83.5px,#0000a8 89.5px,#00008c 91.5px,#00008b 120.5px,#000090 121.5px,#0002fd 128.5px,#00f1ff 143.5px,#5ffea0 144.5px,#9fff60 145.5px,#c0ff3f 146.5px,#cfff30 147.5px,#69ff96 156.5px,#17ffe8 165.5px,#00fcff 175.5px,#00c2ff 217.5px,#009fff 234.5px)"></div><div class="hr" style="top:136px;height:1px;background:linear-gradient(90deg,#0087ff 0.5px,#006cff 40.5px,#0041ff 74.5px,#0024ff 79.5px,#0000fb 83.5px,#0000a9 89.5px,#00008c 91.5px,#00008b 120.5px,#000093 121.5px,#0004fe 128.5px,#00f4ff 143.5px,#6eff91 144.5px,#9fff60 145.5px,#c2ff3d 146.5px,#d0ff2f 147.5px,#73ff8c 155.5px,#14ffeb 166.5px,#00fcff 176.5px,#00c5ff 216.5px,#00a0ff 234.5px)"></div><div class="hr" style="top:137px;height:1px;background:linear-gradient(90deg,#0089ff 0.5px,#006eff 40.5px,#003fff 75.5px,#001dff 80.5px,#0001fd 83.5px,#0000a9 89.5px,#00008c 91.5px,#00008c 120.5px,#0000b6 123.5px,#0000f6 127.5px,#0007ff 128.5px,#00f6ff 143.5px,#8cff73 144.5px,#a0ff5f 145.5px,#c4ff3b 146.5px,#d2ff2d 147.5px,#74ff8b 155.5px,#17ffe8 166.5px,#00fdff 176.5px,#00c6ff 216.5px,#00a1ff 234.5px)"></div><div class="hr" style="top:138px;height:1px;background:linear-gradient(90deg,#008bff 0.5px,#006fff 40.5px,#0040ff 75.5px,#001fff 80.5px,#0001fe 83.5px,#0000ba 88.5px,#00008c 91.5px,#00008d 120.5px,#0000f9 127.5px,#001aff 129.5px,#00f8ff 143.5px,#8cff73 144.5px,#a2ff5d 145.5px,#c6ff39 146.5px,#d3ff2c 147.5px,#7eff81 154.5px,#15ffea 167.5px,#00fdff 177.5px,#00c8ff 216.5px,#00a2ff 234.5px)"></div><div class="hr" style="top:139px;height:1px;background:linear-gradient(90deg,#008dff 0.5px,#0071ff 40.5px,#0042ff 75.5px,#0021ff 80.5px,#0002fe 83.5px,#0000ba 88.5px,#00008c 91.5px,#00008e 120.5px,#0001fb 127.5px,#00ebff 142.5px,#2dfad2 143.5px,#8cff73 144.5px,#a3ff5c 145.5px,#c8ff37 146.5px,#d5ff2a 147.5px,#7fff80 154.5px,#13ffec 168.5px,#00fdff 178.5px,#00c9ff 216.5px,#00a3ff 234.5px)"></div><div class="hr" style="top:140px;height:1px;background:linear-gradient(90deg,#008fff 0.5px,#0074ff 39.5px,#0044ff 75.5px,#0023ff 80.5px,#0003ff 83.5px,#0000cb 87.5px,#00008c 91.5px,#00008b 119.5px,#000091 120.5px,#0002fd 127.5px,#00edff 142.5px,#2dfcd2 143.5px,#8cff73 144.5px,#a5ff5a 145.5px,#cbff34 146.5px,#d6ff29 147.5px,#7fff80 154.5px,#15ffea 168.5px,#00fdff 179.5px,#00caff 216.5px,#00a5ff 234.5px)"></div><div class="hr" style="top:141px;height:1px;background:linear-gradient(90deg,#0091ff 0.5px,#0076ff 39.5px,#0046ff 75.5px,#0025ff 80.5px,#0005ff 83.5px,#0000ea 85.5px,#00008c 91.5px,#00008b 119.5px,#0000a3 121.5px,#0004fe 127.5px,#00f0ff 142.5px,#4afdb5 143.5px,#8cff73 144.5px,#a6ff59 145.5px,#cdff32 146.5px,#d8ff27 147.5px,#8aff75 153.5px,#51ffae 160.5px,#14ffeb 169.5px,#00fdff 180.5px,#00ccff 216.5px,#00a6ff 234.5px)"></div><div class="hr" style="top:142px;height:1px;background:linear-gradient(90deg,#0092ff 0.5px,#0079ff 38.5px,#0047ff 75.5px,#0027ff 80.5px,#0007ff 83.5px,#0000eb 85.5px,#00008c 91.5px,#00008c 119.5px,#0000f5 126.5px,#0006ff 127.5px,#00f2ff 142.5px,#59fea6 143.5px,#8cff73 144.5px,#a8ff57 145.5px,#d0ff2f 146.5px,#daff25 147.5px,#8bff74 153.5px,#52ffad 160.5px,#12ffed 170.5px,#00feff 180.5px,#00cdff 216.5px,#00a7ff 234.5px)"></div><div class="hr" style="top:143px;height:1px;background:linear-gradient(90deg,#0094ff 0.5px,#007aff 38.5px,#0049ff 75.5px,#0029ff 80.5px,#0000fa 84.5px,#0000ac 89.5px,#00008c 91.5px,#00008d 119.5px,#0000f8 126.5px,#0019ff 128.5px,#00f4ff 142.5px,#67ff98 143.5px,#aaff55 145.5px,#d3ff2c 146.5px,#dbff24 147.5px,#8bff74 153.5px,#54ffab 160.5px,#11ffee 171.5px,#00feff 182.5px,#00ccff 217.5px,#00a8ff 234.5px)"></div><div class="hr" style="top:144px;height:1px;background:linear-gradient(90deg,#0096ff 0.5px,#007cff 38.5px,#004bff 75.5px,#002bff 80.5px,#0001fc 84.5px,#0000ac 89.5px,#00008c 91.5px,#00008f 119.5px,#0001fb 126.5px,#00f7ff 142.5px,#84ff7b 143.5px,#8dff72 144.5px,#acff53 145.5px,#d5ff2a 146.5px,#ddff22 147.5px,#8cff73 153.5px,#5bffa4 159.5px,#13ffec 171.5px,#00ffff 182.5px,#00ceff 217.5px,#00a9ff 234.5px)"></div><div class="hr" style="top:145px;height:1px;background:linear-gradient(90deg,#0098ff 0.5px,#007eff 38.5px,#0049ff 76.5px,#0023ff 81.5px,#0001fd 84.5px,#0000ad 89.5px,#00008c 91.5px,#00008b 118.5px,#000091 119.5px,#0002fd 126.5px,#00eaff 141.5px,#0ff9f0 142.5px,#84ff7b 143.5px,#8dff72 144.5px,#aeff51 145.5px,#d8ff27 146.5px,#deff21 147.5px,#8cff73 153.5px,#5cffa3 159.5px,#11ffee 172.5px,#01fffe 183.5px,#00cdff 218.5px,#00aaff 234.5px)"></div><div class="hr" style="top:146px;height:1px;background:linear-gradient(90deg,#009aff 0.5px,#0080ff 38.5px,#004aff 76.5px,#0025ff 81.5px,#0002fe 84.5px,#0000c0 88.5px,#00008c 91.5px,#00008b 118.5px,#0000a4 120.5px,#0003fe 126.5px,#00ecff 141.5px,#2cfbd3 142.5px,#83ff7c 143.5px,#8eff71 144.5px,#b0ff4f 145.5px,#dbff24 146.5px,#e0ff1f 147.5px,#8cff73 153.5px,#5cffa3 159.5px,#10ffef 173.5px,#00feff 187.5px,#00c8ff 221.5px,#00acff 234.5px)"></div><div class="hr" style="top:147px;height:1px;background:linear-gradient(90deg,#009cff 0.5px,#0081ff 38.5px,#004cff 76.5px,#0027ff 81.5px,#0003fe 84.5px,#0000c0 88.5px,#00008c 91.5px,#00008c 118.5px,#0000f5 125.5px,#0006ff 126.5px,#00eeff 141.5px,#2bfdd4 142.5px,#83ff7c 143.5px,#8eff71 144.5px,#ddff22 146.5px,#e1ff1e 147.5px,#8cff73 153.5px,#5dffa2 159.5px,#0efff1 174.5px,#00fcff 190.5px,#00c7ff 222.5px,#00adff 234.5px)"></div><div class="hr" style="top:148px;height:1px;background:linear-gradient(90deg,#009eff 0.5px,#0083ff 38.5px,#004eff 76.5px,#0033ff 80.5px,#0004ff 84.5px,#0000d3 87.5px,#00008c 91.5px,#00008e 118.5px,#0000f8 125.5px,#0018ff 127.5px,#00f1ff 141.5px,#57fea8 142.5px,#83ff7c 143.5px,#8fff70 144.5px,#dfff20 146.5px,#e2ff1d 147.5px,#98ff67 152.5px,#69ff96 157.5px,#0ffff0 174.5px,#00fbff 191.5px,#00c9ff 222.5px,#00afff 234.5px)"></div><div class="hr" style="top:149px;height:1px;background:linear-gradient(90deg,#00a0ff 0.5px,#0085ff 38.5px,#004fff 76.5px,#0035ff 80.5px,#0006ff 84.5px,#0000e6 86.5px,#00008c 91.5px,#00008b 117.5px,#000090 118.5px,#0000fb 125.5px,#00f3ff 141.5px,#56fea9 142.5px,#82ff7d 143.5px,#90ff6f 144.5px,#e1ff1e 146.5px,#e1ff1e 147.5px,#97ff68 152.5px,#69ff96 157.5px,#11ffee 174.5px,#00fcff 191.5px,#00caff 222.5px,#00b0ff 234.5px)"></div><div class="hr" style="top:150px;height:1px;background:linear-gradient(90deg,#00a2ff 0.5px,#0087ff 38.5px,#0051ff 76.5px,#0037ff 80.5px,#0008ff 84.5px,#0000f7 85.5px,#00008c 91.5px,#00008b 117.5px,#000093 118.5px,#0001fd 125.5px,#00f5ff 141.5px,#73ff8c 142.5px,#91ff6e 144.5px,#e2ff1d 146.5px,#e0ff1f 147.5px,#96ff69 152.5px,#68ff97 157.5px,#11ffee 175.5px,#00fbff 192.5px,#00ccff 222.5px,#00b2ff 234.5px)"></div><div class="hr" style="top:151px;height:1px;background:linear-gradient(90deg,#00a4ff 0.5px,#0088ff 38.5px,#0053ff 76.5px,#0039ff 80.5px,#0009ff 84.5px,#0000f9 85.5px,#00008b 91.5px,#00008c 117.5px,#0000c4 121.5px,#0003fe 125.5px,#00f8ff 141.5px,#81ff7e 142.5px,#82ff7d 143.5px,#92ff6d 144.5px,#e3ff1c 146.5px,#e0ff1f 147.5px,#95ff6a 152.5px,#68ff97 157.5px,#12ffed 176.5px,#00faff 193.5px,#00ceff 222.5px,#00b4ff 234.5px)"></div><div class="hr" style="top:152px;height:1px;background:linear-gradient(90deg,#00a6ff 0.5px,#008aff 38.5px,#0050ff 77.5px,#0032ff 81.5px,#0000fa 85.5px,#00008b 91.5px,#00008d 117.5px,#0000f5 124.5px,#0005ff 125.5px,#00ebff 140.5px,#1dfae2 141.5px,#80ff7f 142.5px,#82ff7d 143.5px,#93ff6c 144.5px,#e4ff1b 146.5px,#dfff20 147.5px,#94ff6b 152.5px,#68ff97 157.5px,#12ffed 177.5px,#00fbff 193.5px,#00d0ff 222.5px,#00b5ff 234.5px)"></div><div class="hr" style="top:153px;height:1px;background:linear-gradient(90deg,#00a7ff 0.5px,#008aff 39.5px,#0052ff 77.5px,#0034ff 81.5px,#0001fb 85.5px,#0000b0 89.5px,#00008b 91.5px,#00008e 117.5px,#0000f8 124.5px,#0017ff 126.5px,#00edff 140.5px,#2bfcd4 141.5px,#80ff7f 142.5px,#82ff7d 143.5px,#95ff6a 144.5px,#e5ff1a 146.5px,#dfff20 147.5px,#93ff6c 152.5px,#67ff98 157.5px,#12ffed 178.5px,#00fbff 194.5px,#00d2ff 222.5px,#00b7ff 234.5px)"></div><div class="hr" style="top:154px;height:1px;background:linear-gradient(90deg,#00a9ff 0.5px,#008cff 39.5px,#0054ff 77.5px,#0036ff 81.5px,#0001fc 85.5px,#0000b1 89.5px,#00008b 91.5px,#00008b 116.5px,#000090 117.5px,#0000fb 124.5px,#0085ff 133.5px,#00efff 140.5px,#39fdc6 141.5px,#80ff7f 142.5px,#82ff7d 143.5px,#96ff69 144.5px,#c3ff3c 145.5px,#e6ff19 146.5px,#deff21 147.5px,#92ff6d 152.5px,#67ff98 157.5px,#13ffec 178.5px,#00fbff 195.5px,#00d4ff 222.5px,#00b9ff 234.5px)"></div><div class="hr" style="top:155px;height:1px;background:linear-gradient(90deg,#00abff 0.5px,#008eff 39.5px,#0056ff 77.5px,#0038ff 81.5px,#0002fd 85.5px,#0000b1 89.5px,#00008b 91.5px,#00008b 116.5px,#0000a3 118.5px,#0001fd 124.5px,#00f2ff 140.5px,#56fea9 141.5px,#7fff80 142.5px,#83ff7c 143.5px,#98ff67 144.5px,#c6ff39 145.5px,#e6ff19 146.5px,#cdff32 148.5px,#91ff6e 152.5px,#6dff92 156.5px,#3fffc0 167.5px,#11ffee 180.5px,#00fbff 196.5px,#00d6ff 222.5px,#00bbff 234.5px)"></div><div class="hr" style="top:156px;height:1px;background:linear-gradient(90deg,#00adff 0.5px,#0090ff 38.5px,#0057ff 77.5px,#003aff 81.5px,#0004fe 85.5px,#0000c8 88.5px,#00009b 90.5px,#00008b 91.5px,#00008c 116.5px,#0003fe 124.5px,#00f4ff 140.5px,#56ffa9 141.5px,#7fff80 142.5px,#83ff7c 143.5px,#9aff65 144.5px,#c9ff36 145.5px,#e7ff18 146.5px,#cdff32 148.5px,#91ff6e 152.5px,#6dff92 156.5px,#40ffbf 167.5px,#11ffee 181.5px,#00faff 197.5px,#00daff 221.5px,#00bdff 234.5px)"></div><div class="hr" style="top:157px;height:1px;background:linear-gradient(90deg,#00afff 0.5px,#0092ff 38.5px,#0059ff 77.5px,#003cff 81.5px,#0005fe 85.5px,#0000de 87.5px,#00009b 90.5px,#00008b 91.5px,#00008d 116.5px,#0000f5 123.5px,#0005ff 124.5px,#00f6ff 140.5px,#81ff7e 141.5px,#84ff7b 143.5px,#9cff63 144.5px,#ccff33 145.5px,#e8ff17 146.5px,#bcff43 149.5px,#85ff7a 153.5px,#62ff9d 158.5px,#13ffec 181.5px,#00fbff 198.5px,#00dcff 221.5px,#00bfff 234.5px)"></div><div class="hr" style="top:158px;height:1px;background:linear-gradient(90deg,#00b1ff 0.5px,#0095ff 37.5px,#005bff 77.5px,#003eff 81.5px,#0006ff 85.5px,#0000df 87.5px,#00009b 90.5px,#00008b 91.5px,#00008f 116.5px,#0000f8 123.5px,#0017ff 125.5px,#00f9ff 140.5px,#81ff7e 141.5px,#85ff7a 143.5px,#9fff60 144.5px,#cfff30 145.5px,#e9ff16 146.5px,#91ff6e 152.5px,#6dff92 156.5px,#43ffbc 167.5px,#12ffed 183.5px,#00fbff 199.5px,#00deff 221.5px,#00c1ff 234.5px)"></div><div class="hr" style="top:159px;height:1px;background:linear-gradient(90deg,#00b2ff 0.5px,#0099ff 35.5px,#005cff 77.5px,#0041ff 81.5px,#0008ff 85.5px,#0000f4 86.5px,#00009b 90.5px,#00008b 91.5px,#00008b 115.5px,#000091 116.5px,#0000fa 123.5px,#0056ff 129.5px,#00ecff 139.5px,#2bfbd4 140.5px,#81ff7e 141.5px,#86ff79 143.5px,#a1ff5e 144.5px,#d2ff2d 145.5px,#eaff15 146.5px,#91ff6e 152.5px,#6eff91 156.5px,#47ffb8 166.5px,#12ffed 184.5px,#00fbff 200.5px,#00e1ff 221.5px,#00c3ff 234.5px)"></div><div class="hr" style="top:160px;height:1px;background:linear-gradient(90deg,#00b3ff 0.5px,#009dff 32.5px,#005dff 77.5px,#004cff 80.5px,#001bff 84.5px,#000aff 85.5px,#0000f6 86.5px,#00009b 90.5px,#00008b 91.5px,#00008b 115.5px,#0000b3 118.5px,#0001fc 123.5px,#00eeff 139.5px,#2bfcd4 140.5px,#81ff7e 141.5px,#87ff78 143.5px,#a4ff5b 144.5px,#d6ff29 145.5px,#ecff13 146.5px,#92ff6d 152.5px,#6fff90 156.5px,#48ffb7 166.5px,#11ffee 186.5px,#00fbff 202.5px,#00e3ff 221.5px,#00c5ff 234.5px)"></div><div class="hr" style="top:161px;height:1px;background:linear-gradient(90deg,#00b4ff 0.5px,#00a1ff 30.5px,#0061ff 76.5px,#004eff 80.5px,#001dff 84.5px,#0000f8 86.5px,#00009b 90.5px,#00008b 91.5px,#00008c 115.5px,#0003fe 123.5px,#00f0ff 139.5px,#49fdb6 140.5px,#81ff7e 141.5px,#81ff7e 142.5px,#88ff77 143.5px,#a7ff58 144.5px,#d9ff26 145.5px,#edff12 146.5px,#93ff6c 152.5px,#6aff95 157.5px,#3cffc3 171.5px,#1cffe3 183.5px,#0ffff0 188.5px,#00faff 204.5px,#00e5ff 221.5px,#00c6ff 234.5px)"></div><div class="hr" style="top:162px;height:1px;background:linear-gradient(90deg,#00b6ff 0.5px,#00a3ff 30.5px,#0062ff 76.5px,#0051ff 80.5px,#001fff 84.5px,#0000f9 86.5px,#00009b 90.5px,#00008b 91.5px,#00008e 115.5px,#0005ff 123.5px,#00f3ff 139.5px,#57fea8 140.5px,#82ff7d 141.5px,#81ff7e 142.5px,#8aff75 143.5px,#aaff55 144.5px,#ddff22 145.5px,#eeff11 146.5px,#95ff6a 152.5px,#6cff93 157.5px,#40ffbf 170.5px,#1cffe3 184.5px,#0ffff0 189.5px,#00fbff 205.5px,#00e8ff 221.5px,#00c8ff 234.5px)"></div><div class="hr" style="top:163px;height:1px;background:linear-gradient(90deg,#00b7ff 0.5px,#00a4ff 30.5px,#0063ff 76.5px,#0053ff 80.5px,#0030ff 83.5px,#0001fa 86.5px,#00009b 90.5px,#00008b 91.5px,#00008b 114.5px,#000090 115.5px,#0000f7 122.5px,#0016ff 124.5px,#00f5ff 139.5px,#66ff99 140.5px,#82ff7d 141.5px,#82ff7d 142.5px,#8cff73 143.5px,#aeff51 144.5px,#e0ff1f 145.5px,#efff10 146.5px,#96ff69 152.5px,#6dff92 157.5px,#44ffbb 169.5px,#1cffe3 185.5px,#0ffff0 190.5px,#00fcff 207.5px,#00e7ff 222.5px,#00caff 234.5px)"></div><div class="hr" style="top:164px;height:1px;background:linear-gradient(90deg,#00b8ff 0.5px,#00a6ff 30.5px,#0064ff 76.5px,#0055ff 80.5px,#0033ff 83.5px,#0002fb 86.5px,#0000b6 89.5px,#00009a 90.5px,#00008b 91.5px,#00008b 114.5px,#0000a1 116.5px,#0000fa 122.5px,#0045ff 127.5px,#00f7ff 139.5px,#84ff7b 140.5px,#83ff7c 142.5px,#8dff72 143.5px,#b1ff4e 144.5px,#e4ff1b 145.5px,#f0ff0f 146.5px,#97ff68 152.5px,#6fff90 157.5px,#48ffb7 168.5px,#1bffe4 186.5px,#09fff6 196.5px,#00faff 212.5px,#00e4ff 224.5px,#00ccff 234.5px)"></div><div class="hr" style="top:165px;height:1px;background:linear-gradient(90deg,#00b9ff 0.5px,#00a6ff 31.5px,#0064ff 77.5px,#0057ff 80.5px,#0036ff 83.5px,#0002fc 86.5px,#0000b6 89.5px,#00009a 90.5px,#00008b 91.5px,#00008c 114.5px,#0000d1 119.5px,#0001fc 122.5px,#00ebff 138.5px,#0ff9f0 139.5px,#84ff7b 140.5px,#84ff7b 142.5px,#8fff70 143.5px,#b5ff4a 144.5px,#e7ff18 145.5px,#f2ff0d 146.5px,#a5ff5a 151.5px,#76ff89 156.5px,#52ffad 165.5px,#1bffe4 187.5px,#0bfff4 196.5px,#00faff 214.5px,#00deff 227.5px,#00ceff 234.5px)"></div><div class="hr" style="top:166px;height:1px;background:linear-gradient(90deg,#00bbff 0.5px,#00a7ff 32.5px,#0063ff 78.5px,#0051ff 81.5px,#0028ff 84.5px,#0003fd 86.5px,#0000d1 88.5px,#000099 90.5px,#00008b 91.5px,#00008d 114.5px,#0002fe 122.5px,#00edff 138.5px,#2dfbd2 139.5px,#85ff7a 140.5px,#85ff7a 142.5px,#91ff6e 143.5px,#b9ff46 144.5px,#ebff14 145.5px,#f3ff0c 146.5px,#a6ff59 151.5px,#78ff87 156.5px,#53ffac 165.5px,#18ffe7 189.5px,#00feff 211.5px,#00eeff 222.5px,#00d0ff 234.5px)"></div><div class="hr" style="top:167px;height:1px;background:linear-gradient(90deg,#00bcff 0.5px,#00a7ff 33.5px,#0064ff 78.5px,#0053ff 81.5px,#002bff 84.5px,#0005fe 86.5px,#0000d2 88.5px,#000098 90.5px,#00008b 91.5px,#00008e 114.5px,#0004ff 122.5px,#00efff 138.5px,#2dfdd2 139.5px,#85ff7a 140.5px,#86ff79 142.5px,#94ff6b 143.5px,#bdff42 144.5px,#eeff11 145.5px,#f4ff0b 146.5px,#a7ff58 151.5px,#79ff86 156.5px,#55ffaa 165.5px,#1bffe4 190.5px,#08fff7 203.5px,#00faff 218.5px,#00d2ff 234.5px)"></div><div class="hr" style="top:168px;height:1px;background:linear-gradient(90deg,#00bdff 0.5px,#00a8ff 34.5px,#0063ff 79.5px,#004bff 82.5px,#001bff 85.5px,#0006fe 86.5px,#0000ed 87.5px,#000097 90.5px,#00008b 91.5px,#00008b 113.5px,#000090 114.5px,#0000f7 121.5px,#0015ff 123.5px,#00f1ff 138.5px,#5afea5 139.5px,#86ff79 140.5px,#87ff78 142.5px,#96ff69 143.5px,#f1ff0e 145.5px,#f5ff0a 146.5px,#a8ff57 151.5px,#7bff84 156.5px,#56ffa9 165.5px,#18ffe7 192.5px,#00feff 216.5px,#00d5ff 234.5px)"></div><div class="hr" style="top:169px;height:1px;background:linear-gradient(90deg,#00beff 0.5px,#00a8ff 35.5px,#0064ff 79.5px,#004eff 82.5px,#001dff 85.5px,#0008ff 86.5px,#0000ee 87.5px,#000096 90.5px,#00008b 91.5px,#00008b 113.5px,#0000a2 115.5px,#0000fa 121.5px,#0035ff 125.5px,#00f4ff 138.5px,#5afea5 139.5px,#86ff79 140.5px,#87ff78 142.5px,#97ff68 143.5px,#f3ff0c 145.5px,#f6ff09 146.5px,#aaff55 151.5px,#7cff83 156.5px,#57ffa8 165.5px,#1cffe3 193.5px,#0efff1 200.5px,#00fbff 219.5px,#00d7ff 234.5px)"></div><div class="hr" style="top:170px;height:1px;background:linear-gradient(90deg,#00c0ff 0.5px,#00a9ff 35.5px,#0066ff 79.5px,#0051ff 82.5px,#0020ff 85.5px,#000aff 86.5px,#0000f0 87.5px,#000096 90.5px,#00008b 91.5px,#00008c 113.5px,#0001fc 121.5px,#00f6ff 138.5px,#79ff86 139.5px,#87ff78 140.5px,#88ff77 142.5px,#99ff66 143.5px,#f6ff09 145.5px,#f7ff08 146.5px,#abff54 151.5px,#7dff82 156.5px,#58ffa7 165.5px,#2fffd0 187.5px,#18ffe7 195.5px,#00fbff 220.5px,#00d9ff 234.5px)"></div><div class="hr" style="top:171px;height:1px;background:linear-gradient(90deg,#00c1ff 0.5px,#00aaff 36.5px,#0064ff 80.5px,#0046ff 83.5px,#000cff 86.5px,#0000f1 87.5px,#000095 90.5px,#00008b 91.5px,#00008d 113.5px,#0002fe 121.5px,#00f8ff 138.5px,#88ff77 139.5px,#89ff76 142.5px,#9bff64 143.5px,#f8ff07 145.5px,#f8ff07 146.5px,#acff53 151.5px,#7eff81 156.5px,#59ffa6 165.5px,#39ffc6 182.5px,#24ffdb 194.5px,#13ffec 199.5px,#00faff 221.5px,#00dbff 234.5px)"></div><div class="hr" style="top:172px;height:1px;background:linear-gradient(90deg,#00c2ff 0.5px,#00aaff 37.5px,#0065ff 80.5px,#0049ff 83.5px,#000eff 86.5px,#0000f3 87.5px,#000094 90.5px,#00008b 91.5px,#00008f 113.5px,#0004ff 121.5px,#00ecff 137.5px,#1efae1 138.5px,#89ff76 139.5px,#8aff75 142.5px,#9dff62 143.5px,#fafe05 145.5px,#f9ff06 146.5px,#acff53 151.5px,#7fff80 156.5px,#5affa5 165.5px,#3cffc3 181.5px,#29ffd6 194.5px,#13ffec 201.5px,#00fcff 221.5px,#00deff 234.5px)"></div><div class="hr" style="top:173px;height:1px;background:linear-gradient(90deg,#00c3ff 0.5px,#00abff 37.5px,#0067ff 80.5px,#004cff 83.5px,#0010ff 86.5px,#0000f5 87.5px,#000094 90.5px,#00008b 91.5px,#00008b 112.5px,#000091 113.5px,#0000f7 120.5px,#0006ff 121.5px,#00eeff 137.5px,#2efcd1 138.5px,#89ff76 139.5px,#8bff74 142.5px,#9fff60 143.5px,#fbfe04 145.5px,#faff05 146.5px,#adff52 151.5px,#80ff7f 156.5px,#5bffa4 165.5px,#3fffc0 180.5px,#2effd1 194.5px,#12ffed 204.5px,#00fcff 222.5px,#00e1ff 234.5px)"></div><div class="hr" style="top:174px;height:1px;background:linear-gradient(90deg,#00c4ff 0.5px,#00adff 37.5px,#0068ff 80.5px,#005bff 82.5px,#002bff 85.5px,#0013ff 86.5px,#0000f6 87.5px,#000093 90.5px,#00008b 92.5px,#00008b 112.5px,#0000b1 115.5px,#0000fa 120.5px,#0026ff 123.5px,#00f0ff 137.5px,#3dfdc2 138.5px,#89ff76 139.5px,#8cff73 142.5px,#a1ff5e 143.5px,#fcfd03 145.5px,#fbff04 146.5px,#aeff51 151.5px,#81ff7e 156.5px,#5cffa3 165.5px,#42ffbd 179.5px,#32ffcd 194.5px,#12ffed 206.5px,#00fcff 223.5px,#00e4ff 234.5px)"></div><div class="hr" style="top:175px;height:1px;background:linear-gradient(90deg,#00c5ff 0.5px,#00adff 38.5px,#0066ff 81.5px,#0052ff 83.5px,#0015ff 86.5px,#0001f7 87.5px,#000092 90.5px,#00008b 92.5px,#00008c 112.5px,#0001fc 120.5px,#00f2ff 137.5px,#5cfea3 138.5px,#8aff75 139.5px,#8dff72 142.5px,#a3ff5c 143.5px,#d5ff2a 144.5px,#fdfb02 145.5px,#fcfe03 146.5px,#afff50 151.5px,#82ff7d 156.5px,#5effa1 165.5px,#44ffbb 178.5px,#35ffca 194.5px,#12ffed 208.5px,#00fcff 224.5px,#00e7ff 234.5px)"></div><div class="hr" style="top:176px;height:1px;background:linear-gradient(90deg,#00c6ff 0.5px,#00aeff 38.5px,#0067ff 81.5px,#0055ff 83.5px,#0030ff 85.5px,#0002f9 87.5px,#000091 90.5px,#00008b 93.5px,#00008e 112.5px,#0002fd 120.5px,#00f5ff 137.5px,#5cffa3 138.5px,#8aff75 139.5px,#8eff71 142.5px,#a5ff5a 143.5px,#d9ff26 144.5px,#fefa01 145.5px,#fcfe03 146.5px,#b0ff4f 151.5px,#83ff7c 156.5px,#5fffa0 165.5px,#46ffb9 178.5px,#38ffc7 194.5px,#11ffee 211.5px,#00faff 226.5px,#00ebff 234.5px)"></div><div class="hr" style="top:177px;height:1px;background:linear-gradient(90deg,#00c7ff 0.5px,#00aeff 39.5px,#0069ff 81.5px,#0058ff 83.5px,#0034ff 85.5px,#0003fa 87.5px,#0000b5 89.5px,#000090 90.5px,#00008b 95.5px,#000090 112.5px,#0004fe 120.5px,#00f7ff 137.5px,#8bff74 138.5px,#8fff70 142.5px,#a7ff58 143.5px,#dcff23 144.5px,#fff900 145.5px,#fdfe02 146.5px,#b0ff4f 151.5px,#84ff7b 156.5px,#60ff9f 165.5px,#47ffb8 178.5px,#3affc5 194.5px,#12ffed 213.5px,#00fbff 227.5px,#00f0ff 234.5px)"></div><div class="hr" style="top:178px;height:1px;background:linear-gradient(90deg,#00c8ff 0.5px,#00afff 39.5px,#006aff 81.5px,#005bff 83.5px,#0037ff 85.5px,#0003fb 87.5px,#0000b5 89.5px,#000090 90.5px,#00008b 100.5px,#00008b 111.5px,#0000a1 113.5px,#0000f6 119.5px,#0006ff 120.5px,#00f9ff 137.5px,#8bff74 138.5px,#8bff74 141.5px,#90ff6f 142.5px,#aaff55 143.5px,#dfff20 144.5px,#fff800 145.5px,#fdfd02 146.5px,#b1ff4e 151.5px,#85ff7a 156.5px,#61ff9e 165.5px,#49ffb6 178.5px,#3affc5 195.5px,#12ffed 216.5px,#00faff 229.5px,#00f5ff 234.5px)"></div><div class="hr" style="top:179px;height:1px;background:linear-gradient(90deg,#00c9ff 0.5px,#00afff 40.5px,#0067ff 82.5px,#004eff 84.5px,#0020ff 86.5px,#0005fc 87.5px,#0000dd 88.5px,#00008f 90.5px,#00008c 111.5px,#0000eb 118.5px,#0000f9 119.5px,#0025ff 122.5px,#00edff 136.5px,#2ffbd0 137.5px,#8bff74 138.5px,#8cff73 141.5px,#92ff6d 142.5px,#acff53 143.5px,#e2ff1d 144.5px,#fff600 145.5px,#fefc01 146.5px,#b2ff4d 151.5px,#86ff79 156.5px,#62ff9d 165.5px,#4affb5 178.5px,#3cffc3 195.5px,#12ffed 219.5px,#00fbff 232.5px,#00fbff 234.5px)"></div><div class="hr" style="top:180px;height:1px;background:linear-gradient(90deg,#00caff 0.5px,#00b0ff 40.5px,#0069ff 82.5px,#0052ff 84.5px,#0023ff 86.5px,#0007fd 87.5px,#0000de 88.5px,#00008f 90.5px,#00008d 111.5px,#0001fb 119.5px,#00efff 136.5px,#2ffcd0 137.5px,#8cff73 138.5px,#8cff73 141.5px,#93ff6c 142.5px,#aeff51 143.5px,#e5ff1a 144.5px,#fff400 145.5px,#fefc01 146.5px,#b3ff4c 151.5px,#86ff79 156.5px,#63ff9c 165.5px,#4bffb4 178.5px,#3bffc4 196.5px,#1fffe0 215.5px,#02fffd 233.5px,#02fffd 234.5px)"></div><div class="hr" style="top:181px;height:1px;background:linear-gradient(90deg,#00ccff 0.5px,#00b0ff 41.5px,#006bff 82.5px,#0055ff 84.5px,#0027ff 86.5px,#0008fd 87.5px,#0000e0 88.5px,#00008e 90.5px,#00008e 111.5px,#0002fd 119.5px,#00f1ff 136.5px,#4efdb1 137.5px,#8cff73 138.5px,#8dff72 141.5px,#94ff6b 142.5px,#b1ff4e 143.5px,#e8ff17 144.5px,#fff200 145.5px,#fefb01 146.5px,#a8ff57 152.5px,#81ff7e 157.5px,#5cffa3 168.5px,#4affb5 182.5px,#39ffc6 198.5px,#20ffdf 217.5px,#13ffec 225.5px,#08fff7 234.5px)"></div><div class="hr" style="top:182px;height:1px;background:linear-gradient(90deg,#00cdff 0.5px,#00b0ff 42.5px,#006cff 82.5px,#0058ff 84.5px,#002aff 86.5px,#000afe 87.5px,#0000e1 88.5px,#00008e 90.5px,#00008b 110.5px,#000090 111.5px,#0003fe 119.5px,#00f3ff 136.5px,#5dfea2 137.5px,#8cff73 138.5px,#8eff71 141.5px,#95ff6a 142.5px,#b3ff4c 143.5px,#ebff14 144.5px,#fff100 145.5px,#fffa00 146.5px,#a9ff56 152.5px,#82ff7d 157.5px,#5dffa2 168.5px,#4bffb4 183.5px,#37ffc8 200.5px,#22ffdd 219.5px,#16ffe9 226.5px,#0efff1 234.5px)"></div><div class="hr" style="top:183px;height:1px;background:linear-gradient(90deg,#00ceff 0.5px,#00b1ff 42.5px,#006dff 82.5px,#005bff 84.5px,#002dff 86.5px,#000cff 87.5px,#0000e2 88.5px,#0000b3 89.5px,#00008d 90.5px,#00008b 110.5px,#0000a1 112.5px,#0000f6 118.5px,#0005ff 119.5px,#00f5ff 136.5px,#6dff92 137.5px,#8dff72 138.5px,#8eff71 141.5px,#96ff69 142.5px,#b6ff49 143.5px,#eefe11 144.5px,#ffef00 145.5px,#fffa00 146.5px,#c3ff3c 150.5px,#97ff68 154.5px,#72ff8d 161.5px,#52ffad 175.5px,#3cffc3 198.5px,#25ffda 218.5px,#14ffeb 234.5px)"></div><div class="hr" style="top:184px;height:1px;background:linear-gradient(90deg,#00cfff 0.5px,#00b2ff 42.5px,#006eff 82.5px,#005dff 84.5px,#002fff 86.5px,#000dff 87.5px,#0000e3 88.5px,#0000b3 89.5px,#00008d 90.5px,#00008c 110.5px,#0000f9 118.5px,#0016ff 120.5px,#00f7ff 136.5px,#8cff73 137.5px,#8fff70 141.5px,#98ff67 142.5px,#b8ff47 143.5px,#f0fd0f 144.5px,#ffed00 145.5px,#fff900 146.5px,#e3ff1c 148.5px,#abff54 152.5px,#84ff7b 157.5px,#60ff9f 168.5px,#4cffb3 184.5px,#27ffd8 219.5px,#1fffe0 234.5px)"></div><div class="hr" style="top:185px;height:1px;background:linear-gradient(90deg,#00d0ff 0.5px,#00b1ff 43.5px,#006bff 83.5px,#004cff 85.5px,#000fff 87.5px,#0000e4 88.5px,#0000b3 89.5px,#00008d 90.5px,#00008d 110.5px,#0000fb 118.5px,#00f9ff 136.5px,#8dff72 137.5px,#90ff6f 141.5px,#99ff66 142.5px,#bbff44 143.5px,#f2fc0d 144.5px,#ffec00 145.5px,#fff800 146.5px,#e4ff1b 148.5px,#acff53 152.5px,#85ff7a 157.5px,#61ff9e 168.5px,#4dffb2 185.5px,#28ffd7 220.5px,#22ffdd 234.5px)"></div><div class="hr" style="top:186px;height:1px;background:linear-gradient(90deg,#00d1ff 0.5px,#00b2ff 43.5px,#006cff 83.5px,#0062ff 84.5px,#004fff 85.5px,#0034ff 86.5px,#0011ff 87.5px,#0000e5 88.5px,#0000b3 89.5px,#00008c 90.5px,#00008f 110.5px,#0001fd 118.5px,#00edff 135.5px,#2ffbd0 136.5px,#8dff72 137.5px,#91ff6e 141.5px,#9bff64 142.5px,#beff41 143.5px,#f5fb0a 144.5px,#ffea00 145.5px,#fff700 146.5px,#f6ff09 147.5px,#b8ff47 151.5px,#8bff74 156.5px,#69ff96 165.5px,#51ffae 180.5px,#28ffd7 223.5px,#24ffdb 234.5px)"></div><div class="hr" style="top:187px;height:1px;background:linear-gradient(90deg,#00d2ff 0.5px,#00b3ff 43.5px,#006dff 83.5px,#0064ff 84.5px,#0052ff 85.5px,#0036ff 86.5px,#0013ff 87.5px,#0000e6 88.5px,#0000b2 89.5px,#00008c 90.5px,#00008b 109.5px,#000091 110.5px,#0003fe 118.5px,#00efff 135.5px,#2ffcd0 136.5px,#8dff72 137.5px,#91ff6e 141.5px,#9cff63 142.5px,#c1ff3e 143.5px,#f7fa08 144.5px,#ffe800 145.5px,#f7ff08 147.5px,#b9ff46 151.5px,#8cff73 156.5px,#6aff95 165.5px,#51ffae 181.5px,#2bffd4 222.5px,#27ffd8 234.5px)"></div><div class="hr" style="top:188px;height:1px;background:linear-gradient(90deg,#00d3ff 0.5px,#00b3ff 44.5px,#006fff 83.5px,#0066ff 84.5px,#0054ff 85.5px,#0039ff 86.5px,#0015ff 87.5px,#0000e7 88.5px,#0000b2 89.5px,#00008b 90.5px,#00008b 109.5px,#0000af 112.5px,#0004ff 118.5px,#00f1ff 135.5px,#4efeb1 136.5px,#8dff72 137.5px,#92ff6d 141.5px,#9eff61 142.5px,#c4ff3b 143.5px,#f9f806 144.5px,#ffe700 145.5px,#f9ff06 147.5px,#baff45 151.5px,#8dff72 156.5px,#6bff94 165.5px,#51ffae 181.5px,#2dffd2 222.5px,#29ffd6 234.5px)"></div><div class="hr" style="top:189px;height:1px;background:linear-gradient(90deg,#00d4ff 0.5px,#00b3ff 44.5px,#0070ff 83.5px,#0068ff 84.5px,#0057ff 85.5px,#003cff 86.5px,#0017ff 87.5px,#0000e8 88.5px,#0000b2 89.5px,#00008b 90.5px,#00008c 109.5px,#0000f8 117.5px,#0015ff 119.5px,#00f3ff 135.5px,#5dfea2 136.5px,#8dff72 137.5px,#93ff6c 141.5px,#a0ff5f 142.5px,#c7ff38 143.5px,#faf605 144.5px,#ffe500 145.5px,#faff05 147.5px,#bbff44 151.5px,#8eff71 156.5px,#6cff93 165.5px,#51ffae 182.5px,#30ffcf 221.5px,#2cffd3 234.5px)"></div><div class="hr" style="top:190px;height:1px;background:linear-gradient(90deg,#00d5ff 0.5px,#00b3ff 45.5px,#0070ff 83.5px,#006aff 84.5px,#0059ff 85.5px,#003eff 86.5px,#0019ff 87.5px,#0000ea 88.5px,#0000b1 89.5px,#00008b 90.5px,#00008d 109.5px,#0000fa 117.5px,#005dff 124.5px,#00f5ff 135.5px,#6cff93 136.5px,#8dff72 137.5px,#94ff6b 141.5px,#a1ff5e 142.5px,#caff35 143.5px,#fbf404 144.5px,#ffe300 145.5px,#fafe05 147.5px,#bcff43 151.5px,#95ff6a 155.5px,#75ff8a 162.5px,#56ffa9 178.5px,#32ffcd 220.5px,#2effd1 234.5px)"></div><div class="hr" style="top:191px;height:1px;background:linear-gradient(90deg,#00d6ff 0.5px,#00b4ff 45.5px,#0071ff 83.5px,#006cff 84.5px,#005cff 85.5px,#0041ff 86.5px,#001cff 87.5px,#0000eb 88.5px,#0000b1 89.5px,#00008b 90.5px,#00008f 109.5px,#0001fc 117.5px,#00f7ff 135.5px,#8bff74 136.5px,#95ff6a 141.5px,#a3ff5c 142.5px,#cdff32 143.5px,#fdf202 144.5px,#ffe100 145.5px,#fbfe04 147.5px,#b1ff4e 152.5px,#89ff76 157.5px,#67ff98 168.5px,#4effb1 188.5px,#34ffcb 219.5px,#30ffcf 234.5px)"></div><div class="hr" style="top:192px;height:1px;background:linear-gradient(90deg,#00d7ff 0.5px,#00b4ff 45.5px,#0072ff 83.5px,#006dff 84.5px,#005eff 85.5px,#0044ff 86.5px,#001eff 87.5px,#0000ec 88.5px,#0000b1 89.5px,#00008b 90.5px,#00008b 108.5px,#00009f 110.5px,#0002fe 117.5px,#00f9ff 135.5px,#8bff74 136.5px,#96ff69 141.5px,#a5ff5a 142.5px,#d1ff2e 143.5px,#fef001 144.5px,#ffe000 145.5px,#fcfd03 147.5px,#b2ff4d 152.5px,#8aff75 157.5px,#68ff97 168.5px,#4effb1 188.5px,#36ffc9 219.5px,#32ffcd 234.5px)"></div><div class="hr" style="top:193px;height:1px;background:linear-gradient(90deg,#00d8ff 0.5px,#00b4ff 46.5px,#006fff 84.5px,#0061ff 85.5px,#0047ff 86.5px,#0020ff 87.5px,#0000ed 88.5px,#0000b0 89.5px,#00008b 90.5px,#00008c 108.5px,#0000be 112.5px,#0004ff 117.5px,#00eeff 134.5px,#2efbd1 135.5px,#8aff75 136.5px,#97ff68 141.5px,#a7ff58 142.5px,#d4ff2b 143.5px,#ffee00 144.5px,#ffde00 145.5px,#fdfd02 147.5px,#b3ff4c 152.5px,#8aff75 157.5px,#66ff99 169.5px,#48ffb7 195.5px,#36ffc9 224.5px,#34ffcb 234.5px)"></div><div class="hr" style="top:194px;height:1px;background:linear-gradient(90deg,#00d9ff 0.5px,#00b4ff 46.5px,#0070ff 84.5px,#0063ff 85.5px,#004aff 86.5px,#0023ff 87.5px,#0001ee 88.5px,#0000af 89.5px,#00008b 90.5px,#00008c 108.5px,#0000f7 116.5px,#0014ff 118.5px,#00f0ff 134.5px,#2dfcd2 135.5px,#8aff75 136.5px,#98ff67 141.5px,#a9ff56 142.5px,#d7ff28 143.5px,#ffea00 144.5px,#ffdd00 145.5px,#fefc01 147.5px,#b3ff4c 152.5px,#90ff6f 156.5px,#70ff8f 165.5px,#53ffac 183.5px,#3affc5 217.5px,#35ffca 234.5px)"></div><div class="hr" style="top:195px;height:1px;background:linear-gradient(90deg,#00daff 0.5px,#00b4ff 47.5px,#0071ff 84.5px,#0066ff 85.5px,#004dff 86.5px,#0025ff 87.5px,#0002ef 88.5px,#0000af 89.5px,#00008b 90.5px,#00008d 108.5px,#0000fa 116.5px,#0032ff 120.5px,#00f2ff 134.5px,#4bfeb4 135.5px,#89ff76 136.5px,#99ff66 141.5px,#abff54 142.5px,#dbff24 143.5px,#ffe700 144.5px,#ffdb00 145.5px,#fefb01 147.5px,#b4ff4b 152.5px,#90ff6f 156.5px,#71ff8e 165.5px,#55ffaa 182.5px,#3cffc3 215.5px,#37ffc8 234.5px)"></div><div class="hr" style="top:196px;height:1px;background:linear-gradient(90deg,#00dbff 0.5px,#00b3ff 48.5px,#0072ff 84.5px,#0068ff 85.5px,#0050ff 86.5px,#0028ff 87.5px,#0002ef 88.5px,#0000ae 89.5px,#00008b 90.5px,#00008f 108.5px,#0001fc 116.5px,#00f4ff 134.5px,#59fea6 135.5px,#88ff77 136.5px,#9aff65 141.5px,#adff52 142.5px,#deff21 143.5px,#ffe400 144.5px,#ffda00 145.5px,#fefa01 147.5px,#a9ff56 153.5px,#8bff74 157.5px,#65ff9a 171.5px,#3fffc0 207.5px,#38ffc7 234.5px)"></div><div class="hr" style="top:197px;height:1px;background:linear-gradient(90deg,#00dcff 0.5px,#00b4ff 48.5px,#0073ff 84.5px,#006bff 85.5px,#0053ff 86.5px,#002bff 87.5px,#0003f0 88.5px,#0000ad 89.5px,#00008b 90.5px,#00008b 107.5px,#0000a0 109.5px,#0002fd 116.5px,#00f6ff 134.5px,#67ff98 135.5px,#88ff77 136.5px,#9aff65 141.5px,#aeff51 142.5px,#e1ff1e 143.5px,#ffe100 144.5px,#ffd900 145.5px,#fffa00 147.5px,#c3ff3c 151.5px,#97ff68 155.5px,#7aff85 162.5px,#58ffa7 180.5px,#3effc1 213.5px,#3affc5 234.5px)"></div><div class="hr" style="top:198px;height:1px;background:linear-gradient(90deg,#00ddff 0.5px,#00b3ff 49.5px,#0074ff 84.5px,#006dff 85.5px,#0056ff 86.5px,#002eff 87.5px,#0004f1 88.5px,#0000ad 89.5px,#00008b 90.5px,#00008c 107.5px,#0003fe 116.5px,#00f8ff 134.5px,#83ff7c 135.5px,#9bff64 141.5px,#b0ff4f 142.5px,#e4ff1b 143.5px,#ffdf00 144.5px,#ffd800 145.5px,#fff900 147.5px,#d2ff2d 150.5px,#a0ff5f 154.5px,#84ff7b 159.5px,#5cffa3 177.5px,#40ffbf 211.5px,#3bffc4 234.5px)"></div><div class="hr" style="top:199px;height:1px;background:linear-gradient(90deg,#00deff 0.5px,#00b3ff 50.5px,#0074ff 84.5px,#006fff 85.5px,#0059ff 86.5px,#0031ff 87.5px,#0004f2 88.5px,#0000ac 89.5px,#00008b 90.5px,#00008c 107.5px,#0000f7 115.5px,#0005ff 116.5px,#00faff 134.5px,#82ff7d 135.5px,#9cff63 141.5px,#b1ff4e 142.5px,#e6ff19 143.5px,#ffdd00 144.5px,#ffd700 145.5px,#fff900 147.5px,#e2ff1d 149.5px,#abff54 153.5px,#8dff72 157.5px,#67ff98 171.5px,#44ffbb 203.5px,#3cffc3 234.5px)"></div><div class="hr" style="top:200px;height:1px;background:linear-gradient(90deg,#00e0ff 0.5px,#00b2ff 51.5px,#0070ff 85.5px,#005bff 86.5px,#0033ff 87.5px,#0005f3 88.5px,#0000ab 89.5px,#00008b 90.5px,#00008e 107.5px,#0000f9 115.5px,#0023ff 118.5px,#00eeff 133.5px,#2afbd5 134.5px,#81ff7e 135.5px,#9cff63 141.5px,#b3ff4c 142.5px,#e8ff17 143.5px,#ffdc00 144.5px,#ffd600 145.5px,#fff900 147.5px,#e2ff1d 149.5px,#abff54 153.5px,#89ff76 158.5px,#60ff9f 175.5px,#42ffbd 209.5px,#3dffc2 234.5px)"></div><div class="hr" style="top:201px;height:1px;background:linear-gradient(90deg,#00e1ff 0.5px,#00b2ff 51.5px,#0071ff 85.5px,#005dff 86.5px,#0035ff 87.5px,#0005f3 88.5px,#0000aa 89.5px,#00008b 90.5px,#00008b 106.5px,#000090 107.5px,#0000fb 115.5px,#00f0ff 133.5px,#2afdd5 134.5px,#7fff80 135.5px,#9dff62 141.5px,#b4ff4b 142.5px,#eafe15 143.5px,#ffda00 144.5px,#ffd600 145.5px,#fff900 147.5px,#d2ff2d 150.5px,#a3ff5c 154.5px,#86ff79 159.5px,#5effa1 177.5px,#43ffbc 209.5px,#3fffc0 234.5px)"></div><div class="hr" style="top:202px;height:1px;background:linear-gradient(90deg,#00e2ff 0.5px,#00b2ff 52.5px,#0072ff 85.5px,#005eff 86.5px,#0036ff 87.5px,#0006f4 88.5px,#0000aa 89.5px,#00008b 90.5px,#00008b 106.5px,#0000a0 108.5px,#0001fd 115.5px,#00f2ff 133.5px,#53feac 134.5px,#7eff81 135.5px,#9dff62 141.5px,#b4ff4b 142.5px,#eafe15 143.5px,#ffd900 144.5px,#ffd600 145.5px,#fff900 147.5px,#d2ff2d 150.5px,#a3ff5c 154.5px,#83ff7c 160.5px,#5cffa3 179.5px,#44ffbb 210.5px,#40ffbf 234.5px)"></div><div class="hr" style="top:203px;height:1px;background:linear-gradient(90deg,#00e3ff 0.5px,#00b1ff 53.5px,#0073ff 85.5px,#0060ff 86.5px,#0038ff 87.5px,#0006f4 88.5px,#0000a9 89.5px,#00008b 90.5px,#00008c 106.5px,#0003fe 115.5px,#00f4ff 133.5px,#52fead 134.5px,#7eff81 135.5px,#9dff62 141.5px,#b5ff4a 142.5px,#ebfd14 143.5px,#ffd900 144.5px,#ffd700 145.5px,#fffa00 147.5px,#d1ff2e 150.5px,#a4ff5b 154.5px,#84ff7b 160.5px,#5dffa2 179.5px,#45ffba 209.5px,#41ffbe 234.5px)"></div><div class="hr" style="top:204px;height:1px;background:linear-gradient(90deg,#00e4ff 0.5px,#00b0ff 54.5px,#0074ff 85.5px,#0062ff 86.5px,#003aff 87.5px,#0007f4 88.5px,#0000a9 89.5px,#00008b 90.5px,#00008d 106.5px,#0000f6 114.5px,#0005ff 115.5px,#00f6ff 133.5px,#6dff92 134.5px,#7eff81 135.5px,#9cff63 141.5px,#b5ff4a 142.5px,#ecfd13 143.5px,#ffd800 144.5px,#ffd700 145.5px,#fefa01 147.5px,#b7ff48 152.5px,#90ff6f 157.5px,#70ff8f 168.5px,#4fffb0 193.5px,#42ffbd 234.5px)"></div><div class="hr" style="top:205px;height:1px;background:linear-gradient(90deg,#00e4ff 0.5px,#00afff 55.5px,#0074ff 85.5px,#0063ff 86.5px,#003bff 87.5px,#0007f5 88.5px,#0000a9 89.5px,#00008b 90.5px,#00008e 106.5px,#0000f9 114.5px,#0014ff 116.5px,#00f8ff 133.5px,#7bff84 134.5px,#9bff64 141.5px,#b4ff4b 142.5px,#ecfd13 143.5px,#ffd800 144.5px,#ffd800 145.5px,#fefb01 147.5px,#b7ff48 152.5px,#91ff6e 157.5px,#71ff8e 168.5px,#4effb1 194.5px,#43ffbc 234.5px)"></div><div class="hr" style="top:206px;height:1px;background:linear-gradient(90deg,#00e5ff 0.5px,#00afff 55.5px,#0075ff 85.5px,#0065ff 86.5px,#003dff 87.5px,#0007f5 88.5px,#0000a8 89.5px,#00008b 90.5px,#00008b 105.5px,#000090 106.5px,#0000fb 114.5px,#00edff 132.5px,#0efaf1 133.5px,#7cff83 134.5px,#9aff65 141.5px,#b4ff4b 142.5px,#ecfd13 143.5px,#ffd800 144.5px,#ffd900 145.5px,#fefb01 147.5px,#b7ff48 152.5px,#91ff6e 157.5px,#71ff8e 168.5px,#4effb1 195.5px,#43ffbc 234.5px)"></div><div class="hr" style="top:207px;height:1px;background:linear-gradient(90deg,#00e6ff 0.5px,#00aeff 56.5px,#0076ff 85.5px,#0066ff 86.5px,#003fff 87.5px,#0008f6 88.5px,#0000a8 89.5px,#00008b 90.5px,#00008b 105.5px,#0000ae 108.5px,#0001fd 114.5px,#00efff 132.5px,#29fcd6 133.5px,#7dff82 134.5px,#99ff66 141.5px,#b4ff4b 142.5px,#edfc12 143.5px,#ffd800 144.5px,#ffda00 145.5px,#fdfc02 147.5px,#b6ff49 152.5px,#91ff6e 157.5px,#72ff8d 168.5px,#4fffb0 195.5px,#44ffbb 234.5px)"></div><div class="hr" style="top:208px;height:1px;background:linear-gradient(90deg,#00e7ff 0.5px,#00afff 56.5px,#0076ff 85.5px,#0068ff 86.5px,#0040ff 87.5px,#0008f6 88.5px,#0000a8 89.5px,#00008b 90.5px,#00008c 105.5px,#0002fe 114.5px,#00f1ff 132.5px,#29fdd6 133.5px,#7dff82 134.5px,#90ff6f 140.5px,#98ff67 141.5px,#b3ff4c 142.5px,#edfc12 143.5px,#ffd900 144.5px,#ffdb00 145.5px,#fdfd02 147.5px,#c1ff3e 151.5px,#96ff69 156.5px,#78ff87 165.5px,#53ffac 191.5px,#45ffba 234.5px)"></div><div class="hr" style="top:209px;height:1px;background:linear-gradient(90deg,#00e8ff 0.5px,#00adff 57.5px,#0077ff 85.5px,#0069ff 86.5px,#0042ff 87.5px,#0009f6 88.5px,#0000a7 89.5px,#00008b 90.5px,#00008d 105.5px,#0004ff 114.5px,#00f3ff 132.5px,#52fead 133.5px,#7dff82 134.5px,#8fff70 140.5px,#97ff68 141.5px,#b3ff4c 142.5px,#edfc12 143.5px,#ffd900 144.5px,#ffdc00 145.5px,#fcfd03 147.5px,#c0ff3f 151.5px,#96ff69 156.5px,#79ff86 165.5px,#52ffad 192.5px,#46ffb9 234.5px)"></div><div class="hr" style="top:210px;height:1px;background:linear-gradient(90deg,#00e9ff 0.5px,#00aeff 57.5px,#0077ff 85.5px,#006bff 86.5px,#0044ff 87.5px,#000af6 88.5px,#0000a7 89.5px,#00008b 90.5px,#00008f 105.5px,#0000f8 113.5px,#0014ff 115.5px,#00f5ff 132.5px,#53feac 133.5px,#7eff81 134.5px,#8eff71 140.5px,#96ff69 141.5px,#b3ff4c 142.5px,#eefc11 143.5px,#ffd900 144.5px,#ffdd00 145.5px,#fcfe03 147.5px,#c0ff3f 151.5px,#96ff69 156.5px,#79ff86 165.5px,#53ffac 192.5px,#47ffb8 234.5px)"></div><div class="hr" style="top:211px;height:1px;background:linear-gradient(90deg,#00eaff 0.5px,#00acff 58.5px,#0077ff 85.5px,#006cff 86.5px,#0046ff 87.5px,#000bf6 88.5px,#0000a7 89.5px,#00008b 90.5px,#00008b 104.5px,#00009e 106.5px,#0000fa 113.5px,#0065ff 121.5px,#00f6ff 132.5px,#6eff91 133.5px,#7eff81 134.5px,#8dff72 140.5px,#95ff6a 141.5px,#b3ff4c 142.5px,#eefc11 143.5px,#ffd900 144.5px,#ffde00 145.5px,#fbfe04 147.5px,#bfff40 151.5px,#96ff69 156.5px,#77ff88 166.5px,#52ffad 194.5px,#48ffb7 234.5px)"></div></div><div class="hm" style="left:392px;top:2px;width:235px;height:212px"><div class="hr" style="top:0px;height:1px;background:linear-gradient(90deg,#82ff7d 0.5px,#62ff9d 56.5px,#3fffc0 85.5px,#2cffd3 89.5px,#0afff5 91.5px,#00f7ff 94.5px,#00cbff 101.5px,#0000fb 102.5px,#0000e6 105.5px,#0000e9 115.5px,#0001fd 117.5px,#0050ff 124.5px,#00ccff 132.5px,#00fcff 137.5px,#06fff9 138.5px,#1fffe0 139.5px,#4fffb0 140.5px,#c0ff3f 147.5px,#f4ff0b 149.5px,#ffe800 150.5px,#ff6c00 154.5px,#ff5300 155.5px,#ff4500 156.5px,#ff4500 157.5px,#ff6400 159.5px,#ff9f00 162.5px,#ffbd00 168.5px,#fff500 186.5px,#faff05 193.5px,#cdff32 234.5px)"></div><div class="hr" style="top:1px;height:1px;background:linear-gradient(90deg,#81ff7e 0.5px,#61ff9e 57.5px,#40ffbf 86.5px,#31ffce 89.5px,#12ffed 90.5px,#00fcff 93.5px,#00caff 101.5px,#0000fa 102.5px,#0000e6 105.5px,#0000e9 115.5px,#0001fd 117.5px,#0051ff 124.5px,#00ccff 132.5px,#00fcff 137.5px,#06fff9 138.5px,#1fffe0 139.5px,#4fffb0 140.5px,#c1ff3e 147.5px,#f5ff0a 149.5px,#ffe700 150.5px,#ff6b00 154.5px,#ff5300 155.5px,#ff4500 156.5px,#ff4600 157.5px,#ff6500 159.5px,#ff9100 161.5px,#ffa800 163.5px,#ffec00 182.5px,#fbff04 192.5px,#d0ff2f 229.5px,#ccff33 234.5px)"></div><div class="hr" style="top:2px;height:1px;background:linear-gradient(90deg,#81ff7e 0.5px,#60ff9f 58.5px,#40ffbf 87.5px,#3bffc4 88.5px,#2effd1 89.5px,#0efff1 90.5px,#00fcff 93.5px,#00c8ff 101.5px,#0000fa 102.5px,#0000e5 105.5px,#0000e9 115.5px,#0001fd 117.5px,#0051ff 124.5px,#00ccff 132.5px,#00fdff 137.5px,#06fff9 138.5px,#20ffdf 139.5px,#4fffb0 140.5px,#c1ff3e 147.5px,#f6fe09 149.5px,#ffe600 150.5px,#ff6a00 154.5px,#ff5200 155.5px,#ff4500 156.5px,#ff4700 157.5px,#ff6700 159.5px,#ff9200 161.5px,#ffa800 163.5px,#ffed00 182.5px,#faff05 192.5px,#cfff30 229.5px,#cbff34 234.5px)"></div><div class="hr" style="top:3px;height:1px;background:linear-gradient(90deg,#81ff7e 0.5px,#61ff9e 58.5px,#42ffbd 87.5px,#3dffc2 88.5px,#0dfff2 90.5px,#00fbff 93.5px,#00c6ff 101.5px,#0000f9 102.5px,#0000e5 105.5px,#0000e4 114.5px,#0001fd 117.5px,#0052ff 124.5px,#00ccff 132.5px,#00fdff 137.5px,#06fff9 138.5px,#20ffdf 139.5px,#50ffaf 140.5px,#afff50 146.5px,#daff25 148.5px,#f7fe08 149.5px,#ffe500 150.5px,#ff6a00 154.5px,#ff5200 155.5px,#ff4600 156.5px,#ff4800 157.5px,#ff6900 159.5px,#ff9400 161.5px,#ffa900 163.5px,#ffee00 182.5px,#fcff03 191.5px,#d2ff2d 225.5px,#cbff34 234.5px)"></div><div class="hr" style="top:4px;height:1px;background:linear-gradient(90deg,#81ff7e 0.5px,#60ff9f 59.5px,#42ffbd 87.5px,#3effc1 88.5px,#1fffe0 89.5px,#0cfff3 90.5px,#00faff 93.5px,#00c5ff 101.5px,#0000f9 102.5px,#0000e4 105.5px,#0000e4 114.5px,#0001fd 117.5px,#0052ff 124.5px,#00cdff 132.5px,#00fdff 137.5px,#07fff8 138.5px,#20ffdf 139.5px,#50ffaf 140.5px,#afff50 146.5px,#dbff24 148.5px,#f7fd08 149.5px,#ffc600 151.5px,#ff6900 154.5px,#ff5100 155.5px,#ff4600 156.5px,#ff4900 157.5px,#ff6b00 159.5px,#ff9500 161.5px,#ffaa00 163.5px,#ffef00 182.5px,#fbff04 191.5px,#d1ff2e 225.5px,#caff35 234.5px)"></div><div class="hr" style="top:5px;height:1px;background:linear-gradient(90deg,#80ff7f 0.5px,#5fffa0 60.5px,#42ffbd 87.5px,#3effc1 88.5px,#11ffee 89.5px,#00f9ff 93.5px,#00caff 100.5px,#0098ff 101.5px,#0000f9 102.5px,#0000e4 105.5px,#0000e4 114.5px,#0001fd 117.5px,#0053ff 124.5px,#00cdff 132.5px,#00fdff 137.5px,#07fff8 138.5px,#20ffdf 139.5px,#51ffae 140.5px,#b0ff4f 146.5px,#dcff23 148.5px,#f8fd07 149.5px,#ffc500 151.5px,#ff6800 154.5px,#ff5100 155.5px,#ff4600 156.5px,#ff4a00 157.5px,#ff6d00 159.5px,#ff9700 161.5px,#ffab00 163.5px,#ffef00 182.5px,#faff05 191.5px,#d1ff2e 225.5px,#caff35 234.5px)"></div><div class="hr" style="top:6px;height:1px;background:linear-gradient(90deg,#80ff7f 0.5px,#5fffa0 60.5px,#44ffbb 86.5px,#41ffbe 87.5px,#35ffca 88.5px,#10ffef 89.5px,#00fdff 92.5px,#00c8ff 100.5px,#0082ff 101.5px,#0000f8 102.5px,#0000e3 105.5px,#0000e3 114.5px,#0001fd 117.5px,#0053ff 124.5px,#00cdff 132.5px,#00fdff 137.5px,#07fff8 138.5px,#21ffde 139.5px,#51ffae 140.5px,#b1ff4e 146.5px,#ddff22 148.5px,#f9fd06 149.5px,#ffc400 151.5px,#ff6700 154.5px,#ff5100 155.5px,#ff4700 156.5px,#ff4b00 157.5px,#ff6e00 159.5px,#ff9800 161.5px,#ffac00 163.5px,#ffee00 181.5px,#fbff04 190.5px,#d4ff2b 221.5px,#c9ff36 234.5px)"></div><div class="hr" style="top:7px;height:1px;background:linear-gradient(90deg,#80ff7f 0.5px,#5effa1 61.5px,#43ffbc 86.5px,#40ffbf 87.5px,#0ffff0 89.5px,#00fdff 92.5px,#00c6ff 100.5px,#0080ff 101.5px,#0000f8 102.5px,#0000e3 105.5px,#0000e3 114.5px,#0001fd 117.5px,#0061ff 125.5px,#00cdff 132.5px,#01fdfe 137.5px,#07fff8 138.5px,#21ffde 139.5px,#51ffae 140.5px,#b1ff4e 146.5px,#deff21 148.5px,#fafc05 149.5px,#ffa400 152.5px,#ff6600 154.5px,#ff5000 155.5px,#ff4700 156.5px,#ff4c00 157.5px,#ff7000 159.5px,#ff9a00 161.5px,#ffb200 164.5px,#fff100 182.5px,#fbff04 190.5px,#d2ff2d 222.5px,#c9ff36 234.5px)"></div><div class="hr" style="top:8px;height:1px;background:linear-gradient(90deg,#80ff7f 0.5px,#5effa1 61.5px,#42ffbd 86.5px,#3fffc0 87.5px,#1cffe3 88.5px,#0efff1 89.5px,#00fbff 92.5px,#00c4ff 100.5px,#007fff 101.5px,#0000f7 102.5px,#0000e2 105.5px,#0000e3 114.5px,#0001fd 117.5px,#0062ff 125.5px,#00ceff 132.5px,#01fdfe 137.5px,#07fff8 138.5px,#32ffcd 139.5px,#52ffad 140.5px,#b2ff4d 146.5px,#dfff20 148.5px,#fafc05 149.5px,#ff6600 154.5px,#ff5000 155.5px,#ff4800 156.5px,#ff4d00 157.5px,#ff7200 159.5px,#ff9b00 161.5px,#ffb300 164.5px,#fff200 182.5px,#faff05 190.5px,#d2ff2d 222.5px,#c8ff37 234.5px)"></div><div class="hr" style="top:9px;height:1px;background:linear-gradient(90deg,#7fff80 0.5px,#5effa1 61.5px,#40ffbf 86.5px,#3dffc2 87.5px,#12ffed 88.5px,#00faff 92.5px,#00c2ff 100.5px,#007eff 101.5px,#0000f7 102.5px,#0000e2 105.5px,#0000e2 114.5px,#0001fd 117.5px,#0062ff 125.5px,#00ceff 132.5px,#01fdfe 137.5px,#08fff7 138.5px,#33ffcc 139.5px,#52ffad 140.5px,#b3ff4c 146.5px,#fbfc04 149.5px,#ff6500 154.5px,#ff5000 155.5px,#ff4800 156.5px,#ff4e00 157.5px,#ff9d00 161.5px,#ffb400 164.5px,#fff300 182.5px,#fbff04 189.5px,#d5ff2a 218.5px,#c8ff37 234.5px)"></div><div class="hr" style="top:10px;height:1px;background:linear-gradient(90deg,#7fff80 0.5px,#5dffa2 62.5px,#3effc1 86.5px,#2effd1 87.5px,#10ffef 88.5px,#00feff 91.5px,#00c0ff 100.5px,#007cfe 101.5px,#0000f6 102.5px,#0000e1 105.5px,#0000e2 114.5px,#0001fd 117.5px,#0063ff 125.5px,#00ceff 132.5px,#01fefe 137.5px,#08fff7 138.5px,#33ffcc 139.5px,#52ffad 140.5px,#b3ff4c 146.5px,#fcfb03 149.5px,#ff6400 154.5px,#ff5000 155.5px,#ff4900 156.5px,#ff5000 157.5px,#ff9e00 161.5px,#ffb900 165.5px,#fff600 183.5px,#f9ff06 190.5px,#d0ff2f 222.5px,#c7ff38 234.5px)"></div><div class="hr" style="top:11px;height:1px;background:linear-gradient(90deg,#7fff80 0.5px,#5cffa3 62.5px,#3cffc3 86.5px,#0ffff0 88.5px,#00fcff 91.5px,#00beff 100.5px,#007bfe 101.5px,#0000f6 102.5px,#0000e1 105.5px,#0000e2 114.5px,#0001fd 117.5px,#0063ff 125.5px,#00ceff 132.5px,#01fefe 137.5px,#08fff7 138.5px,#33ffcc 139.5px,#53ffac 140.5px,#b4ff4b 146.5px,#fcfa03 149.5px,#ff6300 154.5px,#ff5000 155.5px,#ff4900 156.5px,#ff5100 157.5px,#ffa000 161.5px,#ffba00 165.5px,#fff700 183.5px,#f8ff07 190.5px,#d0ff2f 222.5px,#c6ff39 234.5px)"></div><div class="hr" style="top:12px;height:1px;background:linear-gradient(90deg,#7eff81 0.5px,#5cffa3 62.5px,#3affc5 86.5px,#16ffe9 87.5px,#00faff 91.5px,#00bcff 100.5px,#0079fe 101.5px,#0000f5 102.5px,#0000e0 105.5px,#0000e1 114.5px,#0001fd 117.5px,#0063ff 125.5px,#00cfff 132.5px,#01fefe 137.5px,#08fff7 138.5px,#34ffcb 139.5px,#53ffac 140.5px,#b5ff4a 146.5px,#fcfa03 149.5px,#ff6300 154.5px,#ff4f00 155.5px,#ff4a00 156.5px,#ff5200 157.5px,#ffa100 161.5px,#ffbf00 166.5px,#fff700 183.5px,#f7ff08 190.5px,#cfff30 222.5px,#c6ff39 234.5px)"></div><div class="hr" style="top:13px;height:1px;background:linear-gradient(90deg,#7eff81 0.5px,#5cffa3 62.5px,#3affc5 85.5px,#34ffcb 86.5px,#11ffee 87.5px,#00f9ff 91.5px,#00baff 100.5px,#0078fe 101.5px,#0000f5 102.5px,#0000e0 105.5px,#0000e1 114.5px,#0001fd 117.5px,#0064ff 125.5px,#00cfff 132.5px,#01fefe 137.5px,#08fff7 138.5px,#34ffcb 139.5px,#54ffab 140.5px,#b6ff49 146.5px,#e4ff1b 148.5px,#fdf902 149.5px,#ff6200 154.5px,#ff4f00 155.5px,#ff4a00 156.5px,#ff5300 157.5px,#ffa200 161.5px,#ffc000 166.5px,#fff800 183.5px,#f6ff09 190.5px,#ceff31 222.5px,#c5ff3a 234.5px)"></div><div class="hr" style="top:14px;height:1px;background:linear-gradient(90deg,#7eff81 0.5px,#5cffa3 62.5px,#37ffc8 85.5px,#2affd5 86.5px,#0ffff0 87.5px,#00fdff 90.5px,#00b7ff 100.5px,#0076fe 101.5px,#0000f4 102.5px,#0000df 105.5px,#0000e1 114.5px,#0001fd 117.5px,#0064ff 125.5px,#00cfff 132.5px,#01fefe 137.5px,#09fff6 138.5px,#34ffcb 139.5px,#54ffab 140.5px,#b6ff49 146.5px,#e5ff1a 148.5px,#fdf802 149.5px,#ff6100 154.5px,#ff4f00 155.5px,#ff4b00 156.5px,#ff5500 157.5px,#ffa300 161.5px,#ffc000 166.5px,#fff900 183.5px,#f2ff0d 192.5px,#c9ff36 228.5px,#c5ff3a 234.5px)"></div><div class="hr" style="top:15px;height:1px;background:linear-gradient(90deg,#7eff81 0.5px,#5bffa4 62.5px,#35ffca 85.5px,#1dffe2 86.5px,#0dfff2 87.5px,#00fbff 90.5px,#00b5ff 100.5px,#0061fe 101.5px,#0000f4 102.5px,#0000df 105.5px,#0000e0 114.5px,#0001fe 117.5px,#0065ff 125.5px,#00d0ff 132.5px,#01fefe 137.5px,#09fff6 138.5px,#34ffcb 139.5px,#54ffab 140.5px,#b7ff48 146.5px,#e6ff19 148.5px,#fdf702 149.5px,#ff6100 154.5px,#ff4f00 155.5px,#ff4c00 156.5px,#ff5600 157.5px,#ffa500 161.5px,#ffc500 167.5px,#fffa00 183.5px,#ecff13 195.5px,#c4ff3b 234.5px)"></div><div class="hr" style="top:16px;height:1px;background:linear-gradient(90deg,#7dff82 0.5px,#5bffa4 62.5px,#32ffcd 85.5px,#14ffeb 86.5px,#01fefe 89.5px,#00b3ff 100.5px,#003afe 101.5px,#0000f3 102.5px,#0000e1 104.5px,#0000e0 114.5px,#0001fe 117.5px,#0065ff 125.5px,#00d0ff 132.5px,#01fefe 137.5px,#09fff6 138.5px,#35ffca 139.5px,#55ffaa 140.5px,#b8ff47 146.5px,#e7ff18 148.5px,#fef701 149.5px,#ff6000 154.5px,#ff4f00 155.5px,#ff4d00 156.5px,#ff5700 157.5px,#ff9600 160.5px,#ffae00 162.5px,#ffeb00 177.5px,#fdff02 186.5px,#d6ff29 212.5px,#c4ff3b 234.5px)"></div><div class="hr" style="top:17px;height:1px;background:linear-gradient(90deg,#7dff82 0.5px,#5bffa4 62.5px,#32ffcd 84.5px,#2affd5 85.5px,#0ffff0 86.5px,#00f8ff 90.5px,#00b0ff 100.5px,#0039fd 101.5px,#0000f3 102.5px,#0000e1 104.5px,#0000e0 114.5px,#0001fe 117.5px,#0066ff 125.5px,#00d0ff 132.5px,#01fefe 137.5px,#09fff6 138.5px,#35ffca 139.5px,#55ffaa 140.5px,#b9ff46 146.5px,#e8ff17 148.5px,#fef601 149.5px,#ff6000 154.5px,#ff4f00 155.5px,#ff4e00 156.5px,#ff6c00 158.5px,#ff9800 160.5px,#ffaf00 162.5px,#ffeb00 177.5px,#fcff03 186.5px,#d5ff2a 212.5px,#c3ff3c 234.5px)"></div><div class="hr" style="top:18px;height:1px;background:linear-gradient(90deg,#7dff82 0.5px,#5affa5 62.5px,#30ffcf 84.5px,#0efff1 86.5px,#00fcff 89.5px,#00aeff 100.5px,#0038fd 101.5px,#0000f2 102.5px,#0000e0 104.5px,#0000e0 114.5px,#0002fe 117.5px,#0066ff 125.5px,#00d0ff 132.5px,#02fefd 137.5px,#09fff6 138.5px,#35ffca 139.5px,#55ffaa 140.5px,#b9ff46 146.5px,#e9ff16 148.5px,#fff500 149.5px,#ff5f00 154.5px,#ff4f00 155.5px,#ff4e00 156.5px,#ff6e00 158.5px,#ff9900 160.5px,#ffb000 162.5px,#ffef00 178.5px,#fbff04 186.5px,#d5ff2a 212.5px,#c3ff3c 234.5px)"></div><div class="hr" style="top:19px;height:1px;background:linear-gradient(90deg,#7cff83 0.5px,#5affa5 62.5px,#2dffd2 84.5px,#0cfff3 86.5px,#00faff 89.5px,#00abff 100.5px,#0037fd 101.5px,#0000f2 102.5px,#0000df 104.5px,#0000e0 114.5px,#0002fe 117.5px,#0067ff 125.5px,#00d1ff 132.5px,#02fefd 137.5px,#09fff6 138.5px,#36ffc9 139.5px,#56ffa9 140.5px,#baff45 146.5px,#eaff15 148.5px,#fff500 149.5px,#ff5f00 154.5px,#ff4f00 155.5px,#ff4f00 156.5px,#ff7000 158.5px,#ff9b00 160.5px,#ffb000 162.5px,#fff000 178.5px,#faff05 186.5px,#d4ff2b 212.5px,#c2ff3d 234.5px)"></div><div class="hr" style="top:20px;height:1px;background:linear-gradient(90deg,#7cff83 0.5px,#5affa5 62.5px,#32ffcd 81.5px,#2bffd4 84.5px,#0ffff0 85.5px,#00f9ff 89.5px,#00a9ff 100.5px,#0037fc 101.5px,#0000f1 102.5px,#0000df 104.5px,#0000df 114.5px,#0002fe 117.5px,#0067ff 125.5px,#00d1ff 132.5px,#02fefd 137.5px,#0afff5 138.5px,#36ffc9 139.5px,#56ffa9 140.5px,#bbff44 146.5px,#ebff14 148.5px,#fff400 149.5px,#ff7800 153.5px,#ff5e00 154.5px,#ff5000 155.5px,#ff5000 156.5px,#ff7200 158.5px,#ff9d00 160.5px,#ffb100 162.5px,#fff100 178.5px,#faff05 186.5px,#d3ff2c 212.5px,#c1ff3e 234.5px)"></div><div class="hr" style="top:21px;height:1px;background:linear-gradient(90deg,#7cff83 0.5px,#5affa5 62.5px,#36ffc9 79.5px,#2bffd4 83.5px,#21ffde 84.5px,#0efff1 85.5px,#00f7ff 89.5px,#00afff 99.5px,#00a7ff 100.5px,#0036fc 101.5px,#0000f1 102.5px,#0000de 104.5px,#0000df 114.5px,#0002fe 117.5px,#0068ff 125.5px,#00d1ff 132.5px,#02fefd 137.5px,#0afff5 138.5px,#42ffbd 139.5px,#bcff43 146.5px,#ecff13 148.5px,#fff300 149.5px,#ff7700 153.5px,#ff5e00 154.5px,#ff5000 155.5px,#ff5100 156.5px,#ff7300 158.5px,#ff9e00 160.5px,#ffb200 162.5px,#fff200 178.5px,#fbff04 185.5px,#d4ff2b 211.5px,#c1ff3e 234.5px)"></div><div class="hr" style="top:22px;height:1px;background:linear-gradient(90deg,#7bff84 0.5px,#5affa5 62.5px,#3affc5 77.5px,#29ffd6 83.5px,#0cfff3 85.5px,#00fbff 88.5px,#00beff 97.5px,#00a4ff 100.5px,#0035fc 101.5px,#0000f0 102.5px,#0000dd 104.5px,#0000df 114.5px,#0002fe 117.5px,#0068ff 125.5px,#00d1ff 132.5px,#02fffd 137.5px,#0afff5 138.5px,#48ffb7 139.5px,#bcff43 146.5px,#edff12 148.5px,#fff200 149.5px,#ff7600 153.5px,#ff5d00 154.5px,#ff5000 155.5px,#ff5200 156.5px,#ff7500 158.5px,#ffa000 160.5px,#ffb900 163.5px,#fff500 179.5px,#faff05 185.5px,#d3ff2c 211.5px,#c0ff3f 234.5px)"></div><div class="hr" style="top:23px;height:1px;background:linear-gradient(90deg,#7bff84 0.5px,#58ffa7 63.5px,#36ffc9 78.5px,#28ffd7 83.5px,#14ffeb 84.5px,#01fefe 87.5px,#00cdff 95.5px,#00a2ff 100.5px,#0034fb 101.5px,#0000ef 102.5px,#0000dd 104.5px,#0000df 114.5px,#0002fe 117.5px,#0069ff 125.5px,#00d2ff 132.5px,#02fffd 137.5px,#0afff5 138.5px,#48ffb7 139.5px,#bdff42 146.5px,#eeff11 148.5px,#fff000 149.5px,#ff7500 153.5px,#ff5d00 154.5px,#ff5000 155.5px,#ff5300 156.5px,#ff7700 158.5px,#ffa100 160.5px,#ffba00 163.5px,#fff600 179.5px,#f7ff08 186.5px,#d0ff2f 213.5px,#c0ff3f 234.5px)"></div><div class="hr" style="top:24px;height:1px;background:linear-gradient(90deg,#7bff84 0.5px,#58ffa7 63.5px,#39ffc6 77.5px,#26ffd9 83.5px,#0dfff2 84.5px,#00f8ff 88.5px,#00c3ff 96.5px,#00a0ff 100.5px,#0033fb 101.5px,#0000ef 102.5px,#0000dc 104.5px,#0000df 114.5px,#0002fe 117.5px,#0069ff 125.5px,#00d2ff 132.5px,#02fffd 137.5px,#0afff5 138.5px,#48ffb7 139.5px,#beff41 146.5px,#efff10 148.5px,#ffef00 149.5px,#ff7400 153.5px,#ff5c00 154.5px,#ff5100 155.5px,#ff5400 156.5px,#ff7900 158.5px,#ffa300 160.5px,#ffc000 164.5px,#fff900 180.5px,#efff10 190.5px,#c8ff37 221.5px,#bfff40 234.5px)"></div><div class="hr" style="top:25px;height:1px;background:linear-gradient(90deg,#7bff84 0.5px,#58ffa7 63.5px,#39ffc6 77.5px,#28ffd7 82.5px,#1effe1 83.5px,#0cfff3 84.5px,#00fcff 87.5px,#00cbff 95.5px,#009eff 100.5px,#0033fb 101.5px,#0000ee 102.5px,#0000dc 104.5px,#0000de 114.5px,#0002fe 117.5px,#006aff 125.5px,#00d2ff 132.5px,#02fffd 137.5px,#0bfff4 138.5px,#49ffb6 139.5px,#bfff40 146.5px,#f0ff0f 148.5px,#ffee00 149.5px,#ff7400 153.5px,#ff5c00 154.5px,#ff5100 155.5px,#ff5600 156.5px,#ff7b00 158.5px,#ffa400 160.5px,#ffc100 164.5px,#fffa00 180.5px,#e2ff1d 197.5px,#bfff40 234.5px)"></div><div class="hr" style="top:26px;height:1px;background:linear-gradient(90deg,#7aff85 0.5px,#58ffa7 63.5px,#3dffc2 76.5px,#27ffd8 82.5px,#0afff5 84.5px,#00faff 87.5px,#00d2ff 94.5px,#009cff 100.5px,#0000fa 101.5px,#0000db 104.5px,#0000de 114.5px,#0002fe 117.5px,#006aff 125.5px,#00d2ff 132.5px,#03fffc 137.5px,#0bfff4 138.5px,#49ffb6 139.5px,#acff53 145.5px,#d6ff29 147.5px,#f2ff0d 148.5px,#ffed00 149.5px,#ff7300 153.5px,#ff5b00 154.5px,#ff5100 155.5px,#ff5700 156.5px,#ff7d00 158.5px,#ffa500 160.5px,#ffc100 164.5px,#fffb00 180.5px,#d0ff2f 211.5px,#beff41 234.5px)"></div><div class="hr" style="top:27px;height:1px;background:linear-gradient(90deg,#7aff85 0.5px,#57ffa8 64.5px,#3affc5 77.5px,#27ffd8 82.5px,#10ffef 83.5px,#00fdff 86.5px,#00d1ff 94.5px,#009aff 100.5px,#0000fa 101.5px,#0000da 104.5px,#0000da 113.5px,#0000e7 115.5px,#0002fe 117.5px,#006bff 125.5px,#00d3ff 132.5px,#03fffc 137.5px,#0bfff4 138.5px,#49ffb6 139.5px,#acff53 145.5px,#d7ff28 147.5px,#f3ff0c 148.5px,#ffec00 149.5px,#ff7200 153.5px,#ff5b00 154.5px,#ff5200 155.5px,#ff5800 156.5px,#ffa700 160.5px,#ffc700 165.5px,#fffc00 180.5px,#d2ff2d 209.5px,#beff41 234.5px)"></div><div class="hr" style="top:28px;height:1px;background:linear-gradient(90deg,#7aff85 0.5px,#57ffa8 64.5px,#3bffc4 77.5px,#26ffd9 82.5px,#0cfff3 83.5px,#00fcff 86.5px,#00cfff 94.5px,#0099ff 100.5px,#0000f9 101.5px,#0000da 104.5px,#0000d9 113.5px,#0000f3 116.5px,#0002fe 117.5px,#006bff 125.5px,#00d3ff 132.5px,#03fffc 137.5px,#0bfff4 138.5px,#4affb5 139.5px,#adff52 145.5px,#d8ff27 147.5px,#f4ff0b 148.5px,#ffeb00 149.5px,#ff7100 153.5px,#ff5b00 154.5px,#ff5200 155.5px,#ff5900 156.5px,#ffa800 160.5px,#ffc800 165.5px,#fffd00 180.5px,#d2ff2d 208.5px,#bdff42 234.5px)"></div><div class="hr" style="top:29px;height:1px;background:linear-gradient(90deg,#79ff86 0.5px,#56ffa9 65.5px,#3affc5 78.5px,#2effd1 81.5px,#0bfff4 83.5px,#00faff 86.5px,#00ceff 94.5px,#0098ff 100.5px,#0000f9 101.5px,#0000d9 104.5px,#0000d9 113.5px,#0000f3 116.5px,#0003fe 117.5px,#006cff 125.5px,#00d3ff 132.5px,#03fffc 137.5px,#0cfff3 138.5px,#4bffb4 139.5px,#aeff51 145.5px,#d9ff26 147.5px,#f5ff0a 148.5px,#ffea00 149.5px,#ff7000 153.5px,#ff5a00 154.5px,#ff5300 155.5px,#ff5b00 156.5px,#ffaa00 160.5px,#ffc900 165.5px,#fffe00 180.5px,#d3ff2c 207.5px,#bcff43 234.5px)"></div><div class="hr" style="top:30px;height:1px;background:linear-gradient(90deg,#79ff86 0.5px,#56ffa9 65.5px,#39ffc6 79.5px,#31ffce 81.5px,#18ffe7 82.5px,#09fff6 83.5px,#00f9ff 86.5px,#00ccff 94.5px,#0098ff 100.5px,#0000f8 101.5px,#0000df 103.5px,#0000d8 105.5px,#0000d8 113.5px,#0000f4 116.5px,#0003fe 117.5px,#006cff 125.5px,#00d4ff 132.5px,#03fffc 137.5px,#0cfff3 138.5px,#4bffb4 139.5px,#afff50 145.5px,#f6fe09 148.5px,#ffe800 149.5px,#ff6f00 153.5px,#ff5a00 154.5px,#ff5400 155.5px,#ff5c00 156.5px,#ffab00 160.5px,#ffce00 166.5px,#fffe00 180.5px,#d3ff2c 206.5px,#bcff43 234.5px)"></div><div class="hr" style="top:31px;height:1px;background:linear-gradient(90deg,#79ff86 0.5px,#55ffaa 66.5px,#38ffc7 80.5px,#34ffcb 81.5px,#0dfff2 82.5px,#00f8ff 86.5px,#00c3ff 95.5px,#0097ff 100.5px,#0000f8 101.5px,#0000de 103.5px,#0000d7 106.5px,#0000d8 113.5px,#0000f4 116.5px,#0003fe 117.5px,#006dff 125.5px,#00d4ff 132.5px,#04fffb 137.5px,#0cfff3 138.5px,#4cffb3 139.5px,#b0ff4f 145.5px,#f7fe08 148.5px,#ffc900 150.5px,#ff6d00 153.5px,#ff5900 154.5px,#ff5400 155.5px,#ff5e00 156.5px,#ff9d00 159.5px,#ffb500 161.5px,#ffeb00 173.5px,#fcff03 181.5px,#d2ff2d 206.5px,#bbff44 234.5px)"></div><div class="hr" style="top:32px;height:1px;background:linear-gradient(90deg,#78ff87 0.5px,#55ffaa 66.5px,#3affc5 80.5px,#29ffd6 81.5px,#0bfff4 82.5px,#00f7ff 86.5px,#00c1ff 95.5px,#0097ff 100.5px,#0000f7 101.5px,#0000de 103.5px,#0000d7 106.5px,#0000d8 113.5px,#0003fe 117.5px,#006eff 125.5px,#00d5ff 132.5px,#04fffb 137.5px,#1effe1 138.5px,#4cffb3 139.5px,#b1ff4e 145.5px,#f8fd07 148.5px,#ffc800 150.5px,#ff6c00 153.5px,#ff5900 154.5px,#ff5500 155.5px,#ff5f00 156.5px,#ff9f00 159.5px,#ffb600 161.5px,#ffef00 174.5px,#fcff03 181.5px,#d2ff2d 206.5px,#bbff44 234.5px)"></div><div class="hr" style="top:33px;height:1px;background:linear-gradient(90deg,#78ff87 0.5px,#54ffab 67.5px,#3cffc3 80.5px,#1cffe3 81.5px,#0afff5 82.5px,#00fbff 85.5px,#00c0ff 95.5px,#0097ff 100.5px,#0000f7 101.5px,#0000dd 103.5px,#0000d6 106.5px,#0000d7 113.5px,#0003fe 117.5px,#007dff 126.5px,#00d5ff 132.5px,#00fbff 136.5px,#04fffb 137.5px,#1effe1 138.5px,#4dffb2 139.5px,#b2ff4d 145.5px,#f9fd06 148.5px,#ffa800 151.5px,#ff6b00 153.5px,#ff5900 154.5px,#ff5600 155.5px,#ff6100 156.5px,#ffa100 159.5px,#ffb700 161.5px,#fff000 174.5px,#fbff04 181.5px,#d1ff2e 206.5px,#baff45 234.5px)"></div><div class="hr" style="top:34px;height:1px;background:linear-gradient(90deg,#78ff87 0.5px,#54ffab 67.5px,#3cffc3 80.5px,#12ffed 81.5px,#00feff 84.5px,#00bfff 95.5px,#0097ff 100.5px,#0000f6 101.5px,#0000dc 103.5px,#0000d6 106.5px,#0000d7 113.5px,#0003fe 117.5px,#007eff 126.5px,#00d5ff 132.5px,#00fbff 136.5px,#05fffa 137.5px,#1effe1 138.5px,#4dffb2 139.5px,#b3ff4c 145.5px,#fafc05 148.5px,#ffa700 151.5px,#ff6a00 153.5px,#ff5900 154.5px,#ff5700 155.5px,#ff6300 156.5px,#ffa300 159.5px,#ffb800 161.5px,#fff100 174.5px,#faff05 181.5px,#d0ff2f 206.5px,#baff45 234.5px)"></div><div class="hr" style="top:35px;height:1px;background:linear-gradient(90deg,#77ff88 0.5px,#54ffab 67.5px,#40ffbf 79.5px,#33ffcc 80.5px,#0cfff3 81.5px,#00f9ff 85.5px,#00b7ff 96.5px,#0098ff 100.5px,#0000f6 101.5px,#0000dc 103.5px,#0000d5 106.5px,#0000d7 113.5px,#0003fe 117.5px,#007fff 126.5px,#00d6ff 132.5px,#00fbff 136.5px,#05fffa 137.5px,#1fffe0 138.5px,#4effb1 139.5px,#b4ff4b 145.5px,#fbfc04 148.5px,#ff6900 153.5px,#ff5900 154.5px,#ff5800 155.5px,#ff7900 157.5px,#ffa400 159.5px,#ffbf00 162.5px,#fff800 176.5px,#f7ff08 182.5px,#cdff32 208.5px,#b9ff46 234.5px)"></div><div class="hr" style="top:36px;height:1px;background:linear-gradient(90deg,#77ff88 0.5px,#52ffad 68.5px,#3fffc0 79.5px,#0bfff4 81.5px,#00f7ff 85.5px,#00b6ff 96.5px,#009fff 99.5px,#0087ff 100.5px,#0000f5 101.5px,#0000db 103.5px,#0000d5 107.5px,#0000d7 113.5px,#0004ff 117.5px,#007fff 126.5px,#00d6ff 132.5px,#00fcff 136.5px,#05fffa 137.5px,#1fffe0 138.5px,#4fffb0 139.5px,#b5ff4a 145.5px,#fcfb03 148.5px,#ff6800 153.5px,#ff5900 154.5px,#ff5900 155.5px,#ff7b00 157.5px,#ffa600 159.5px,#ffc000 162.5px,#fff900 176.5px,#f2ff0d 184.5px,#cbff34 210.5px,#b8ff47 234.5px)"></div><div class="hr" style="top:37px;height:1px;background:linear-gradient(90deg,#77ff88 0.5px,#52ffad 68.5px,#3effc1 79.5px,#18ffe7 80.5px,#0afff5 81.5px,#00fbff 84.5px,#00b6ff 96.5px,#009fff 99.5px,#0066ff 100.5px,#0000f4 101.5px,#0000da 103.5px,#0000d5 107.5px,#0000d6 113.5px,#0004ff 117.5px,#0080ff 126.5px,#00d6ff 132.5px,#00fcff 136.5px,#06fff9 137.5px,#20ffdf 138.5px,#4fffb0 139.5px,#b6ff49 145.5px,#fcfa03 148.5px,#ff6700 153.5px,#ff5900 154.5px,#ff5a00 155.5px,#ff7e00 157.5px,#ffa800 159.5px,#ffc700 163.5px,#fffc00 177.5px,#cfff30 205.5px,#b8ff47 234.5px)"></div><div class="hr" style="top:38px;height:1px;background:linear-gradient(90deg,#77ff88 0.5px,#53ffac 67.5px,#3dffc2 79.5px,#0dfff2 80.5px,#00faff 84.5px,#00b5ff 96.5px,#00a0ff 99.5px,#0066ff 100.5px,#0000f4 101.5px,#0000d9 103.5px,#0000d4 108.5px,#0000d6 113.5px,#0004ff 117.5px,#0081ff 126.5px,#00d7ff 132.5px,#00fcff 136.5px,#06fff9 137.5px,#20ffdf 138.5px,#50ffaf 139.5px,#b7ff48 145.5px,#e6ff19 147.5px,#fdf902 148.5px,#ff6700 153.5px,#ff5900 154.5px,#ff5b00 155.5px,#ff8000 157.5px,#ffa900 159.5px,#ffc700 163.5px,#fffd00 177.5px,#ceff31 205.5px,#b7ff48 234.5px)"></div><div class="hr" style="top:39px;height:1px;background:linear-gradient(90deg,#76ff89 0.5px,#52ffad 67.5px,#3fffc0 78.5px,#2dffd2 79.5px,#0cfff3 80.5px,#00f9ff 84.5px,#00b5ff 96.5px,#00a0ff 99.5px,#0067ff 100.5px,#0000f3 101.5px,#0000d9 103.5px,#0000d4 109.5px,#0000d6 113.5px,#0004ff 117.5px,#0081ff 126.5px,#00d7ff 132.5px,#00fcff 136.5px,#06fff9 137.5px,#21ffde 138.5px,#50ffaf 139.5px,#b8ff47 145.5px,#e7ff18 147.5px,#fdf802 148.5px,#ff6600 153.5px,#ff5900 154.5px,#ff5d00 155.5px,#ff8200 157.5px,#ffab00 159.5px,#ffcd00 164.5px,#fffe00 177.5px,#cfff30 204.5px,#b7ff48 234.5px)"></div><div class="hr" style="top:40px;height:1px;background:linear-gradient(90deg,#76ff89 0.5px,#51ffae 67.5px,#3dffc2 78.5px,#1dffe2 79.5px,#0bfff4 80.5px,#00f8ff 84.5px,#00b5ff 96.5px,#00a0ff 99.5px,#0067fe 100.5px,#0000f3 101.5px,#0000d8 103.5px,#0000d3 112.5px,#0000dd 114.5px,#0004ff 117.5px,#0082ff 126.5px,#00d8ff 132.5px,#00fdff 136.5px,#07fff8 137.5px,#51ffae 139.5px,#b9ff46 145.5px,#e8ff17 147.5px,#fef701 148.5px,#ff7e00 152.5px,#ff6500 153.5px,#ff5900 154.5px,#ff5e00 155.5px,#ff8400 157.5px,#ffad00 159.5px,#ffce00 164.5px,#ffff00 177.5px,#cfff30 203.5px,#b6ff49 234.5px)"></div><div class="hr" style="top:41px;height:1px;background:linear-gradient(90deg,#76ff89 0.5px,#52ffad 66.5px,#3cffc3 78.5px,#0efff1 79.5px,#00fcff 83.5px,#00b5ff 96.5px,#00a0ff 99.5px,#0067fe 100.5px,#0000f2 101.5px,#0000d7 103.5px,#0000d3 112.5px,#0000dd 114.5px,#0004ff 117.5px,#0082ff 126.5px,#00d8ff 132.5px,#00fdff 136.5px,#07fff8 137.5px,#32ffcd 138.5px,#52ffad 139.5px,#baff45 145.5px,#eaff15 147.5px,#fef601 148.5px,#ff7d00 152.5px,#ff6400 153.5px,#ff5a00 154.5px,#ff5f00 155.5px,#ffae00 159.5px,#ffcf00 164.5px,#feff01 177.5px,#cfff30 203.5px,#b6ff49 234.5px)"></div><div class="hr" style="top:42px;height:1px;background:linear-gradient(90deg,#75ff8a 0.5px,#51ffae 66.5px,#3dffc2 77.5px,#31ffce 78.5px,#0dfff2 79.5px,#00fbff 83.5px,#00b5ff 96.5px,#00a1ff 99.5px,#0067fe 100.5px,#0000f1 101.5px,#0000d6 103.5px,#0000d5 113.5px,#0004ff 117.5px,#0093ff 127.5px,#00d8ff 132.5px,#00fdff 136.5px,#07fff8 137.5px,#33ffcc 138.5px,#52ffad 139.5px,#bcff43 145.5px,#ebff14 147.5px,#fff500 148.5px,#ff7b00 152.5px,#ff6400 153.5px,#ff5a00 154.5px,#ff6100 155.5px,#ffaf00 159.5px,#ffd500 165.5px,#fffe00 176.5px,#ceff31 203.5px,#b5ff4a 234.5px)"></div><div class="hr" style="top:43px;height:1px;background:linear-gradient(90deg,#75ff8a 0.5px,#50ffaf 66.5px,#3bffc4 77.5px,#0bfff4 79.5px,#00faff 83.5px,#00b5ff 96.5px,#00a1ff 99.5px,#0068fe 100.5px,#0000f0 101.5px,#0000d6 103.5px,#0000d5 113.5px,#0004ff 117.5px,#0093ff 127.5px,#00d9ff 132.5px,#01fdfe 136.5px,#08fff7 137.5px,#33ffcc 138.5px,#53ffac 139.5px,#bcff43 145.5px,#ecff13 147.5px,#fff400 148.5px,#ff7b00 152.5px,#ff6300 153.5px,#ff5b00 154.5px,#ff6200 155.5px,#ffb100 159.5px,#ffd600 165.5px,#ffff00 176.5px,#ceff31 202.5px,#b5ff4a 234.5px)"></div><div class="hr" style="top:44px;height:1px;background:linear-gradient(90deg,#75ff8a 0.5px,#51ffae 65.5px,#39ffc6 77.5px,#17ffe8 78.5px,#0afff5 79.5px,#00f9ff 83.5px,#00bcff 95.5px,#00a2ff 99.5px,#0068fe 100.5px,#0000f0 101.5px,#0000d5 103.5px,#0000d5 113.5px,#0005ff 117.5px,#0093ff 127.5px,#00d9ff 132.5px,#01fdfe 136.5px,#08fff7 137.5px,#33ffcc 138.5px,#53ffac 139.5px,#bdff42 145.5px,#edff12 147.5px,#fff300 148.5px,#ff7a00 152.5px,#ff6300 153.5px,#ff5b00 154.5px,#ff6300 155.5px,#ffa200 158.5px,#ffba00 160.5px,#ffec00 170.5px,#fcff03 177.5px,#cdff32 203.5px,#b4ff4b 234.5px)"></div><div class="hr" style="top:45px;height:1px;background:linear-gradient(90deg,#74ff8b 0.5px,#50ffaf 65.5px,#39ffc6 76.5px,#33ffcc 77.5px,#0dfff2 78.5px,#00fcff 82.5px,#00bcff 95.5px,#00a3ff 99.5px,#0069fd 100.5px,#0000ef 101.5px,#0000d4 103.5px,#0000d5 113.5px,#0005ff 117.5px,#0094ff 127.5px,#00d9ff 132.5px,#01fdfe 136.5px,#08fff7 137.5px,#34ffcb 138.5px,#53ffac 139.5px,#bdff42 145.5px,#eeff11 147.5px,#fff300 148.5px,#ff7a00 152.5px,#ff6300 153.5px,#ff5c00 154.5px,#ff6400 155.5px,#ffa400 158.5px,#ffbb00 160.5px,#ffed00 170.5px,#fbff04 177.5px,#ccff33 203.5px,#b4ff4b 234.5px)"></div><div class="hr" style="top:46px;height:1px;background:linear-gradient(90deg,#74ff8b 0.5px,#4fffb0 65.5px,#37ffc8 76.5px,#28ffd7 77.5px,#0cfff3 78.5px,#00fbff 82.5px,#00c3ff 94.5px,#00a3ff 99.5px,#0069fd 100.5px,#0000ee 101.5px,#0000d4 103.5px,#0000d4 113.5px,#0005ff 117.5px,#00a3ff 128.5px,#00e3ff 133.5px,#01fdfe 136.5px,#08fff7 137.5px,#34ffcb 138.5px,#53ffac 139.5px,#beff41 145.5px,#eeff11 147.5px,#fff200 148.5px,#ff7900 152.5px,#ff6300 153.5px,#ff5c00 154.5px,#ff6500 155.5px,#ffa500 158.5px,#ffbc00 160.5px,#ffee00 170.5px,#fdff02 176.5px,#ccff33 202.5px,#b3ff4c 234.5px)"></div><div class="hr" style="top:47px;height:1px;background:linear-gradient(90deg,#74ff8b 0.5px,#50ffaf 64.5px,#35ffca 76.5px,#1affe5 77.5px,#0afff5 78.5px,#00faff 82.5px,#00c3ff 94.5px,#00a4ff 99.5px,#0047fd 100.5px,#0000ee 101.5px,#0000d3 103.5px,#0000d4 113.5px,#0005ff 117.5px,#00a4ff 128.5px,#00e3ff 133.5px,#01fdfe 136.5px,#08fff7 137.5px,#34ffcb 138.5px,#53ffac 139.5px,#beff41 145.5px,#efff10 147.5px,#fff100 148.5px,#ff7900 152.5px,#ff6300 153.5px,#ff5d00 154.5px,#ff6700 155.5px,#ffa600 158.5px,#ffbd00 160.5px,#ffee00 170.5px,#fcff03 176.5px,#ccff33 202.5px,#b2ff4d 234.5px)"></div><div class="hr" style="top:48px;height:1px;background:linear-gradient(90deg,#73ff8c 0.5px,#4fffb0 64.5px,#33ffcc 76.5px,#0dfff2 77.5px,#00f9ff 82.5px,#00c4ff 94.5px,#00a4ff 99.5px,#0035fd 100.5px,#0000ed 101.5px,#0000d2 103.5px,#0000d4 113.5px,#0005ff 117.5px,#00d9ff 132.5px,#01fdfe 136.5px,#08fff7 137.5px,#34ffcb 138.5px,#53ffac 139.5px,#aaff55 144.5px,#f0ff0f 147.5px,#fff100 148.5px,#ff7800 152.5px,#ff6300 153.5px,#ff5e00 154.5px,#ff6800 155.5px,#ffa800 158.5px,#ffc500 161.5px,#fffa00 173.5px,#ebff14 183.5px,#c4ff3b 208.5px,#b2ff4d 234.5px)"></div><div class="hr" style="top:49px;height:1px;background:linear-gradient(90deg,#73ff8c 0.5px,#4effb1 64.5px,#33ffcc 75.5px,#25ffda 76.5px,#0bfff4 77.5px,#00f8ff 82.5px,#00caff 93.5px,#00a5ff 99.5px,#0036fc 100.5px,#0000ec 101.5px,#0000d2 103.5px,#0000d0 112.5px,#0000dc 114.5px,#0005ff 117.5px,#00ceff 131.5px,#01fefe 136.5px,#08fff7 137.5px,#34ffcb 138.5px,#54ffab 139.5px,#abff54 144.5px,#f1ff0e 147.5px,#fff000 148.5px,#ff7800 152.5px,#ff6300 153.5px,#ff5e00 154.5px,#ff6900 155.5px,#ffa900 158.5px,#ffc600 161.5px,#fffb00 173.5px,#c9ff36 203.5px,#b1ff4e 234.5px)"></div><div class="hr" style="top:50px;height:1px;background:linear-gradient(90deg,#72ff8d 0.5px,#4dffb2 64.5px,#31ffce 75.5px,#0afff5 77.5px,#00f7ff 82.5px,#00caff 93.5px,#00a6ff 99.5px,#0036fc 100.5px,#0000eb 101.5px,#0000d1 103.5px,#0000cf 112.5px,#0000dc 114.5px,#0005ff 117.5px,#00ceff 131.5px,#01fefe 136.5px,#08fff7 137.5px,#34ffcb 138.5px,#54ffab 139.5px,#abff54 144.5px,#f1ff0e 147.5px,#fff000 148.5px,#ff7700 152.5px,#ff6300 153.5px,#ff5f00 154.5px,#ff6a00 155.5px,#ffab00 158.5px,#ffc700 161.5px,#fffc00 173.5px,#c8ff37 203.5px,#b1ff4e 234.5px)"></div><div class="hr" style="top:51px;height:1px;background:linear-gradient(90deg,#72ff8d 0.5px,#4cffb3 64.5px,#2fffd0 75.5px,#10ffef 76.5px,#00fcff 80.5px,#00d0ff 92.5px,#00a6ff 99.5px,#0036fc 100.5px,#0000eb 101.5px,#0000d0 103.5px,#0000cf 112.5px,#0000dc 114.5px,#0005ff 117.5px,#00ceff 131.5px,#01fefe 136.5px,#08fff7 137.5px,#35ffca 138.5px,#54ffab 139.5px,#acff53 144.5px,#f2ff0d 147.5px,#ffef00 148.5px,#ff7700 152.5px,#ff6300 153.5px,#ff6000 154.5px,#ff6c00 155.5px,#ffac00 158.5px,#ffcd00 162.5px,#feff01 174.5px,#cbff34 200.5px,#b0ff4f 234.5px)"></div><div class="hr" style="top:52px;height:1px;background:linear-gradient(90deg,#72ff8d 0.5px,#4bffb4 64.5px,#29ffd6 75.5px,#0bfff4 76.5px,#00fbff 80.5px,#00d1ff 92.5px,#00a7ff 99.5px,#0036fb 100.5px,#0000ea 101.5px,#0000d0 103.5px,#0000ce 112.5px,#0000e8 115.5px,#0005ff 117.5px,#00cfff 131.5px,#01fefe 136.5px,#08fff7 137.5px,#35ffca 138.5px,#54ffab 139.5px,#acff53 144.5px,#f3ff0c 147.5px,#ffee00 148.5px,#ff7600 152.5px,#ff6300 153.5px,#ff6100 154.5px,#ff6d00 155.5px,#ffad00 158.5px,#ffce00 162.5px,#fffd00 173.5px,#c9ff36 201.5px,#b0ff4f 234.5px)"></div><div class="hr" style="top:53px;height:1px;background:linear-gradient(90deg,#71ff8e 0.5px,#4bffb4 64.5px,#2effd1 74.5px,#09fff6 76.5px,#00f9ff 80.5px,#00d7ff 91.5px,#00a7ff 99.5px,#0036fb 100.5px,#0000e9 101.5px,#0000cf 103.5px,#0000ce 112.5px,#0000e8 115.5px,#0005ff 117.5px,#00cfff 131.5px,#01fefe 136.5px,#09fff6 137.5px,#35ffca 138.5px,#54ffab 139.5px,#adff52 144.5px,#f3ff0c 147.5px,#ffee00 148.5px,#ff7600 152.5px,#ff6300 153.5px,#ff6100 154.5px,#ff6e00 155.5px,#ffae00 158.5px,#ffcf00 162.5px,#fffe00 173.5px,#caff35 200.5px,#afff50 233.5px,#afff50 234.5px)"></div><div class="hr" style="top:54px;height:1px;background:linear-gradient(90deg,#71ff8e 0.5px,#4affb5 64.5px,#2bffd4 74.5px,#15ffea 75.5px,#08fff7 76.5px,#00f8ff 80.5px,#00d7ff 91.5px,#00a8ff 99.5px,#0036fa 100.5px,#0000e8 101.5px,#0000ce 103.5px,#0000ce 112.5px,#0000e8 115.5px,#0005ff 117.5px,#00cfff 131.5px,#01fefe 136.5px,#09fff6 137.5px,#35ffca 138.5px,#55ffaa 139.5px,#adff52 144.5px,#f4ff0b 147.5px,#ffed00 148.5px,#ff7600 152.5px,#ff6300 153.5px,#ff6200 154.5px,#ff8500 156.5px,#ffb000 158.5px,#ffd000 162.5px,#ffff00 173.5px,#caff35 199.5px,#afff50 233.5px,#afff50 234.5px)"></div><div class="hr" style="top:55px;height:1px;background:linear-gradient(90deg,#70ff8f 0.5px,#49ffb6 64.5px,#29ffd6 74.5px,#0bfff4 75.5px,#00f9ff 79.5px,#00d8ff 91.5px,#00a8ff 99.5px,#0037fa 100.5px,#0000e7 101.5px,#0000ce 103.5px,#0000cd 112.5px,#0000e8 115.5px,#0005ff 117.5px,#00cfff 131.5px,#01fefe 136.5px,#09fff6 137.5px,#35ffca 138.5px,#55ffaa 139.5px,#aeff51 144.5px,#f5ff0a 147.5px,#ffec00 148.5px,#ff7500 152.5px,#ff6300 153.5px,#ff6300 154.5px,#ff8700 156.5px,#ffb100 158.5px,#ffd600 163.5px,#feff01 173.5px,#cbff34 198.5px,#aeff51 232.5px,#aeff51 234.5px)"></div><div class="hr" style="top:56px;height:1px;background:linear-gradient(90deg,#70ff8f 0.5px,#49ffb6 64.5px,#2bffd4 73.5px,#1fffe0 74.5px,#0afff5 75.5px,#00fbff 78.5px,#00dcff 90.5px,#00a9ff 99.5px,#0037f9 100.5px,#0000e7 101.5px,#0000cd 103.5px,#0000cd 112.5px,#0000e8 115.5px,#0005ff 117.5px,#00cfff 131.5px,#01fefe 136.5px,#09fff6 137.5px,#35ffca 138.5px,#55ffaa 139.5px,#aeff51 144.5px,#f5ff0a 147.5px,#ffec00 148.5px,#ff7500 152.5px,#ff6400 153.5px,#ff6400 154.5px,#ff8800 156.5px,#ffb200 158.5px,#ffd700 163.5px,#fdff02 173.5px,#caff35 198.5px,#aeff51 232.5px,#adff52 234.5px)"></div><div class="hr" style="top:57px;height:1px;background:linear-gradient(90deg,#70ff8f 0.5px,#48ffb7 64.5px,#29ffd6 73.5px,#09fff6 75.5px,#00f9ff 78.5px,#00ddff 90.5px,#00a9ff 99.5px,#0037f9 100.5px,#0000e6 101.5px,#0000cd 103.5px,#0000cd 112.5px,#0000e8 115.5px,#0005ff 117.5px,#00cfff 131.5px,#01fefe 136.5px,#09fff6 137.5px,#36ffc9 138.5px,#55ffaa 139.5px,#afff50 144.5px,#f6ff09 147.5px,#ffeb00 148.5px,#ff7400 152.5px,#ff6400 153.5px,#ff6500 154.5px,#ff8a00 156.5px,#ffb300 158.5px,#ffd800 163.5px,#fdff02 173.5px,#c8ff37 199.5px,#adff52 233.5px,#adff52 234.5px)"></div><div class="hr" style="top:58px;height:1px;background:linear-gradient(90deg,#6fff90 0.5px,#45ffba 65.5px,#27ffd8 73.5px,#0ffff0 74.5px,#00fcff 77.5px,#00d8ff 91.5px,#00a9ff 99.5px,#0012f8 100.5px,#0000e5 101.5px,#0000cc 103.5px,#0000cc 112.5px,#0000e8 115.5px,#0005ff 117.5px,#00cfff 131.5px,#01fefe 136.5px,#09fff6 137.5px,#36ffc9 138.5px,#55ffaa 139.5px,#afff50 144.5px,#f6ff09 147.5px,#ffeb00 148.5px,#ff7400 152.5px,#ff6400 153.5px,#ff6600 154.5px,#ff8c00 156.5px,#ffb400 158.5px,#ffd900 163.5px,#ffff00 172.5px,#caff35 197.5px,#adff52 231.5px,#acff53 234.5px)"></div><div class="hr" style="top:59px;height:1px;background:linear-gradient(90deg,#6fff90 0.5px,#44ffbb 65.5px,#2affd5 72.5px,#0bfff4 74.5px,#00f8ff 78.5px,#00dcff 90.5px,#00aaff 99.5px,#0000f8 100.5px,#0000d4 102.5px,#0000cb 104.5px,#0000cc 112.5px,#0000e8 115.5px,#0005ff 117.5px,#00d0ff 131.5px,#01fefe 136.5px,#09fff6 137.5px,#36ffc9 138.5px,#56ffa9 139.5px,#b0ff4f 144.5px,#f7fe08 147.5px,#ffea00 148.5px,#ff7400 152.5px,#ff6400 153.5px,#ff6700 154.5px,#ff8d00 156.5px,#ffb600 158.5px,#ffda00 163.5px,#feff01 172.5px,#cbff34 196.5px,#adff52 230.5px,#acff53 234.5px)"></div><div class="hr" style="top:60px;height:1px;background:linear-gradient(90deg,#6eff91 0.5px,#43ffbc 65.5px,#29ffd6 72.5px,#13ffec 73.5px,#01fffe 76.5px,#00d7ff 91.5px,#00aaff 99.5px,#0000f7 100.5px,#0000d3 102.5px,#0000ca 104.5px,#0000cc 112.5px,#0000e8 115.5px,#0005ff 117.5px,#00d0ff 131.5px,#01fefe 136.5px,#09fff6 137.5px,#41ffbe 138.5px,#b0ff4f 144.5px,#f7fe08 147.5px,#ffcd00 149.5px,#ff7300 152.5px,#ff6500 153.5px,#ff6800 154.5px,#ff8f00 156.5px,#ffb700 158.5px,#ffe000 164.5px,#fdff02 172.5px,#c9ff36 197.5px,#acff53 231.5px,#abff54 234.5px)"></div><div class="hr" style="top:61px;height:1px;background:linear-gradient(90deg,#6eff91 0.5px,#43ffbc 64.5px,#2cffd3 71.5px,#23ffdc 72.5px,#0cfff3 73.5px,#00fbff 77.5px,#00d7ff 91.5px,#00aaff 99.5px,#0000f6 100.5px,#0000d2 102.5px,#0000ca 104.5px,#0000cb 112.5px,#0000e8 115.5px,#0006ff 117.5px,#00d0ff 131.5px,#01fefe 136.5px,#09fff6 137.5px,#47ffb8 138.5px,#9cff63 143.5px,#f8fe07 147.5px,#ffcd00 149.5px,#ff7300 152.5px,#ff6500 153.5px,#ff6900 154.5px,#ff9100 156.5px,#ffb800 158.5px,#ffe100 164.5px,#fcff03 172.5px,#c8ff37 197.5px,#abff54 231.5px,#abff54 234.5px)"></div><div class="hr" style="top:62px;height:1px;background:linear-gradient(90deg,#6dff92 0.5px,#41ffbe 64.5px,#2bffd4 71.5px,#0bfff4 73.5px,#00f8ff 78.5px,#00d6ff 91.5px,#00aaff 99.5px,#0000f6 100.5px,#0000d1 102.5px,#0000c9 104.5px,#0000cb 112.5px,#0000e8 115.5px,#0006ff 117.5px,#00d0ff 131.5px,#01fefe 136.5px,#0afff5 137.5px,#47ffb8 138.5px,#9dff62 143.5px,#f8fe07 147.5px,#ffcc00 149.5px,#ff7300 152.5px,#ff6500 153.5px,#ff6a00 154.5px,#ffb900 158.5px,#ffe200 164.5px,#fcff03 172.5px,#c8ff37 197.5px,#abff54 231.5px,#aaff55 234.5px)"></div><div class="hr" style="top:63px;height:1px;background:linear-gradient(90deg,#6dff92 0.5px,#41ffbe 63.5px,#29ffd6 71.5px,#0cfff3 72.5px,#00fbff 77.5px,#00d5ff 91.5px,#00abff 99.5px,#0000f5 100.5px,#0000d0 102.5px,#0000c9 104.5px,#0000cb 112.5px,#0000e8 115.5px,#0006ff 117.5px,#00d0ff 131.5px,#01fefe 136.5px,#0afff5 137.5px,#48ffb7 138.5px,#9dff62 143.5px,#f8fe07 147.5px,#ffcc00 149.5px,#ff7200 152.5px,#ff6600 153.5px,#ff6b00 154.5px,#ffaa00 157.5px,#ffc300 159.5px,#fff100 167.5px,#fbff04 172.5px,#c5ff3a 198.5px,#aaff55 232.5px,#aaff55 234.5px)"></div><div class="hr" style="top:64px;height:1px;background:linear-gradient(90deg,#6cff93 0.5px,#3fffc0 63.5px,#2bffd4 70.5px,#0bfff4 72.5px,#00f8ff 78.5px,#00d0ff 92.5px,#00abff 99.5px,#0000f4 100.5px,#0000cf 102.5px,#0000c8 104.5px,#0000ca 112.5px,#0000e8 115.5px,#0006ff 117.5px,#00d0ff 131.5px,#01fefe 136.5px,#0afff5 137.5px,#48ffb7 138.5px,#9eff61 143.5px,#f9fd06 147.5px,#ffcb00 149.5px,#ff7200 152.5px,#ff6600 153.5px,#ff6c00 154.5px,#ffac00 157.5px,#ffc400 159.5px,#fff100 167.5px,#faff05 172.5px,#c5ff3a 198.5px,#a9ff56 232.5px,#a9ff56 234.5px)"></div><div class="hr" style="top:65px;height:1px;background:linear-gradient(90deg,#6bff94 0.5px,#3fffc0 62.5px,#29ffd6 70.5px,#12ffed 71.5px,#04fffb 74.5px,#00d4ff 91.5px,#00abff 99.5px,#0000f3 100.5px,#0000cf 102.5px,#0000c8 104.5px,#0000ca 112.5px,#0000e8 115.5px,#0006ff 117.5px,#00d1ff 131.5px,#02fefd 136.5px,#0afff5 137.5px,#48ffb7 138.5px,#9eff61 143.5px,#f9fd06 147.5px,#ffcb00 149.5px,#ff7200 152.5px,#ff6700 153.5px,#ff6d00 154.5px,#ffad00 157.5px,#ffc500 159.5px,#fff200 167.5px,#fcff03 171.5px,#c9ff36 195.5px,#aaff55 229.5px,#a9ff56 234.5px)"></div><div class="hr" style="top:66px;height:1px;background:linear-gradient(90deg,#6bff94 0.5px,#3fffc0 61.5px,#2bffd4 69.5px,#22ffdd 70.5px,#0bfff4 71.5px,#00faff 77.5px,#00cfff 92.5px,#00abff 99.5px,#0000f2 100.5px,#0000ce 102.5px,#0000c7 104.5px,#0000ca 112.5px,#0000e9 115.5px,#0006ff 117.5px,#00d1ff 131.5px,#02fefd 136.5px,#0afff5 137.5px,#48ffb7 138.5px,#9eff61 143.5px,#fafd05 147.5px,#ffac00 150.5px,#ff7200 152.5px,#ff6700 153.5px,#ff6e00 154.5px,#ffaf00 157.5px,#ffce00 160.5px,#fffb00 169.5px,#c5ff3a 197.5px,#a8ff57 231.5px,#a8ff57 234.5px)"></div><div class="hr" style="top:67px;height:1px;background:linear-gradient(90deg,#6aff95 0.5px,#3effc1 60.5px,#29ffd6 69.5px,#0afff5 71.5px,#00faff 77.5px,#00ceff 92.5px,#00abff 99.5px,#0000f2 100.5px,#0000cd 102.5px,#0000c7 105.5px,#0000ca 112.5px,#0000e9 115.5px,#0006ff 117.5px,#00d1ff 131.5px,#02fefd 136.5px,#0afff5 137.5px,#48ffb7 138.5px,#9fff60 143.5px,#fafd05 147.5px,#ffab00 150.5px,#ff7200 152.5px,#ff6800 153.5px,#ff7000 154.5px,#ffb000 157.5px,#ffcf00 160.5px,#fffc00 169.5px,#c7ff38 195.5px,#a8ff57 229.5px,#a7ff58 234.5px)"></div><div class="hr" style="top:68px;height:1px;background:linear-gradient(90deg,#6aff95 0.5px,#3effc1 59.5px,#24ffdb 69.5px,#0bfff4 70.5px,#00f9ff 77.5px,#00ceff 92.5px,#00aaff 99.5px,#0000f1 100.5px,#0000cc 102.5px,#0000c7 105.5px,#0000c9 112.5px,#0000e9 115.5px,#0006ff 117.5px,#00d1ff 131.5px,#02fefd 136.5px,#0afff5 137.5px,#48ffb7 138.5px,#9fff60 143.5px,#fbfc04 147.5px,#ffab00 150.5px,#ff7100 152.5px,#ff6800 153.5px,#ff7100 154.5px,#ffb100 157.5px,#ffd000 160.5px,#fffd00 169.5px,#caff35 193.5px,#a9ff56 227.5px,#a7ff58 234.5px)"></div><div class="hr" style="top:69px;height:1px;background:linear-gradient(90deg,#69ff96 0.5px,#40ffbf 57.5px,#29ffd6 68.5px,#0afff5 70.5px,#00f9ff 77.5px,#00cdff 92.5px,#00b0ff 98.5px,#0072ff 99.5px,#0000f0 100.5px,#0000cb 102.5px,#0000c6 106.5px,#0000c9 112.5px,#0000e9 115.5px,#0006ff 117.5px,#00d1ff 131.5px,#02fefd 136.5px,#0afff5 137.5px,#49ffb6 138.5px,#a0ff5f 143.5px,#fbfc04 147.5px,#ffaa00 150.5px,#ff7100 152.5px,#ff6900 153.5px,#ff7200 154.5px,#ffb300 157.5px,#ffd700 161.5px,#fffe00 169.5px,#cfff30 190.5px,#aeff51 218.5px,#a6ff59 234.5px)"></div><div class="hr" style="top:70px;height:1px;background:linear-gradient(90deg,#69ff96 0.5px,#41ffbe 55.5px,#27ffd8 68.5px,#0efff1 69.5px,#00fbff 76.5px,#00d1ff 91.5px,#00b0ff 98.5px,#0072ff 99.5px,#0000ef 100.5px,#0000cb 102.5px,#0000c6 108.5px,#0000c9 112.5px,#0000e9 115.5px,#0006ff 117.5px,#00d1ff 131.5px,#02fefd 136.5px,#0afff5 137.5px,#49ffb6 138.5px,#a0ff5f 143.5px,#fcfc03 147.5px,#ffaa00 150.5px,#ff7100 152.5px,#ff6900 153.5px,#ff7300 154.5px,#ffb400 157.5px,#ffd800 161.5px,#ffff00 169.5px,#d2ff2d 188.5px,#b3ff4c 211.5px,#a6ff59 234.5px)"></div><div class="hr" style="top:71px;height:1px;background:linear-gradient(90deg,#68ff97 0.5px,#42ffbd 53.5px,#29ffd6 67.5px,#0bfff4 69.5px,#00f8ff 77.5px,#00ccff 92.5px,#00afff 98.5px,#0072fe 99.5px,#0000ee 100.5px,#0000ca 102.5px,#0000c5 111.5px,#0000d0 113.5px,#0000f7 116.5px,#0006ff 117.5px,#00c5ff 130.5px,#00f8ff 135.5px,#0bfff4 137.5px,#49ffb6 138.5px,#8dff72 142.5px,#fcfc03 147.5px,#ffa900 150.5px,#ff8900 151.5px,#ff7100 152.5px,#ff6a00 153.5px,#ff7500 154.5px,#ffb500 157.5px,#ffd900 161.5px,#feff01 169.5px,#d3ff2c 187.5px,#b4ff4b 209.5px,#a5ff5a 234.5px)"></div><div class="hr" style="top:72px;height:1px;background:linear-gradient(90deg,#67ff98 0.5px,#43ffbc 51.5px,#27ffd8 67.5px,#0ffff0 68.5px,#00faff 76.5px,#00d0ff 91.5px,#00afff 98.5px,#0072fe 99.5px,#0000ed 100.5px,#0000c9 102.5px,#0000c5 111.5px,#0000d0 113.5px,#0000f7 116.5px,#0006ff 117.5px,#00c5ff 130.5px,#00f8ff 135.5px,#0bfff4 137.5px,#49ffb6 138.5px,#8dff72 142.5px,#fcfb03 147.5px,#ffa800 150.5px,#ff8800 151.5px,#ff7100 152.5px,#ff6b00 153.5px,#ff7600 154.5px,#ffb700 157.5px,#ffda00 161.5px,#fdff02 169.5px,#d2ff2d 187.5px,#b4ff4b 209.5px,#a5ff5a 234.5px)"></div><div class="hr" style="top:73px;height:1px;background:linear-gradient(90deg,#67ff98 0.5px,#44ffbb 49.5px,#29ffd6 66.5px,#0bfff4 68.5px,#00f8ff 77.5px,#00d0ff 91.5px,#00afff 98.5px,#0071fe 99.5px,#0000ed 100.5px,#0000c8 102.5px,#0000c8 112.5px,#0000e9 115.5px,#0006ff 117.5px,#00c6ff 130.5px,#00f8ff 135.5px,#0bfff4 137.5px,#49ffb6 138.5px,#8dff72 142.5px,#fcfb03 147.5px,#ffa800 150.5px,#ff8800 151.5px,#ff7100 152.5px,#ff6b00 153.5px,#ff7700 154.5px,#ffb800 157.5px,#ffe100 162.5px,#fcff03 169.5px,#d2ff2d 187.5px,#b3ff4c 209.5px,#a4ff5b 234.5px)"></div><div class="hr" style="top:74px;height:1px;background:linear-gradient(90deg,#66ff99 0.5px,#45ffba 47.5px,#28ffd7 66.5px,#0ffff0 67.5px,#00fcff 75.5px,#00d3ff 90.5px,#00aeff 98.5px,#0071fe 99.5px,#0000ec 100.5px,#0000c7 102.5px,#0000c8 112.5px,#0000e9 115.5px,#0006ff 117.5px,#00c6ff 130.5px,#00f8ff 135.5px,#0bfff4 137.5px,#4affb5 138.5px,#8eff71 142.5px,#fdfb02 147.5px,#ffa700 150.5px,#ff8700 151.5px,#ff7100 152.5px,#ff6c00 153.5px,#ff7900 154.5px,#ffb900 157.5px,#ffe200 162.5px,#fcff03 169.5px,#cfff30 188.5px,#b0ff4f 211.5px,#a4ff5b 234.5px)"></div><div class="hr" style="top:75px;height:1px;background:linear-gradient(90deg,#65ff9a 0.5px,#46ffb9 46.5px,#29ffd6 65.5px,#1effe1 66.5px,#0bfff4 67.5px,#00faff 76.5px,#00cfff 91.5px,#00aeff 98.5px,#0071fd 99.5px,#0000eb 100.5px,#0000c7 102.5px,#0000c4 111.5px,#0000db 114.5px,#0000f7 116.5px,#0014ff 118.5px,#00b9ff 129.5px,#00f0ff 134.5px,#02fffd 136.5px,#0bfff4 137.5px,#4affb5 138.5px,#8eff71 142.5px,#fdfa02 147.5px,#ffa600 150.5px,#ff8700 151.5px,#ff7100 152.5px,#ff6d00 153.5px,#ff7a00 154.5px,#ffba00 157.5px,#ffe300 162.5px,#feff01 168.5px,#d6ff29 184.5px,#b6ff49 205.5px,#a3ff5c 234.5px)"></div><div class="hr" style="top:76px;height:1px;background:linear-gradient(90deg,#65ff9a 0.5px,#46ffb9 45.5px,#28ffd7 65.5px,#11ffee 66.5px,#06fff9 69.5px,#00f5ff 78.5px,#00cbff 92.5px,#00aeff 98.5px,#0071fd 99.5px,#0000ea 100.5px,#0000c6 102.5px,#0000c3 111.5px,#0000db 114.5px,#0000f7 116.5px,#0014ff 118.5px,#00b9ff 129.5px,#00f0ff 134.5px,#02fffd 136.5px,#0bfff4 137.5px,#4affb5 138.5px,#8eff71 142.5px,#e7ff18 146.5px,#fdfa02 147.5px,#ffa600 150.5px,#ff8600 151.5px,#ff7100 152.5px,#ff6e00 153.5px,#ff7b00 154.5px,#ffbc00 157.5px,#ffe400 162.5px,#feff01 168.5px,#d5ff2a 184.5px,#b5ff4a 205.5px,#a3ff5c 234.5px)"></div><div class="hr" style="top:77px;height:1px;background:linear-gradient(90deg,#64ff9b 0.5px,#47ffb8 43.5px,#29ffd6 64.5px,#21ffde 65.5px,#0bfff4 66.5px,#00f9ff 76.5px,#00d2ff 90.5px,#00adff 98.5px,#0070fd 99.5px,#0000e9 100.5px,#0000d3 101.5px,#0000c5 102.5px,#0000c3 111.5px,#0000db 114.5px,#0000f7 116.5px,#0014ff 118.5px,#00b9ff 129.5px,#00f0ff 134.5px,#02fffd 136.5px,#0bfff4 137.5px,#4affb5 138.5px,#8fff70 142.5px,#e8ff17 146.5px,#fdf902 147.5px,#ffa500 150.5px,#ff8600 151.5px,#ff7100 152.5px,#ff6f00 153.5px,#ff7d00 154.5px,#ffbd00 157.5px,#ffe500 162.5px,#fdff02 168.5px,#d5ff2a 184.5px,#b4ff4b 205.5px,#a2ff5d 234.5px)"></div><div class="hr" style="top:78px;height:1px;background:linear-gradient(90deg,#63ff9c 0.5px,#47ffb8 43.5px,#28ffd7 64.5px,#12ffed 65.5px,#08fff7 67.5px,#00f7ff 77.5px,#00ceff 91.5px,#00adff 98.5px,#0070fd 99.5px,#0000e8 100.5px,#0000d2 101.5px,#0000c4 102.5px,#0000c3 111.5px,#0000db 114.5px,#0000f7 116.5px,#0014ff 118.5px,#00baff 129.5px,#00f0ff 134.5px,#02fffd 136.5px,#0bfff4 137.5px,#4affb5 138.5px,#8fff70 142.5px,#e9ff16 146.5px,#fdf902 147.5px,#ffa400 150.5px,#ff8500 151.5px,#ff7100 152.5px,#ff7000 153.5px,#ff7e00 154.5px,#ffbe00 157.5px,#ffe600 162.5px,#fcff03 168.5px,#d4ff2b 184.5px,#b4ff4b 205.5px,#a2ff5d 234.5px)"></div><div class="hr" style="top:79px;height:1px;background:linear-gradient(90deg,#63ff9c 0.5px,#47ffb8 42.5px,#29ffd6 63.5px,#21ffde 64.5px,#0bfff4 65.5px,#00f9ff 76.5px,#00d2ff 90.5px,#00acff 98.5px,#005dfc 99.5px,#0000e7 100.5px,#0000d1 101.5px,#0000c4 102.5px,#0000c2 111.5px,#0000db 114.5px,#0000f7 116.5px,#0014ff 118.5px,#00baff 129.5px,#00f0ff 134.5px,#02fffd 136.5px,#0bfff4 137.5px,#4affb5 138.5px,#8fff70 142.5px,#e9ff16 146.5px,#fef901 147.5px,#ffa400 150.5px,#ff8500 151.5px,#ff7100 152.5px,#ff7000 153.5px,#ff9600 155.5px,#ffbf00 157.5px,#ffe700 162.5px,#fbff04 168.5px,#d3ff2c 184.5px,#b4ff4b 204.5px,#a1ff5e 234.5px)"></div><div class="hr" style="top:80px;height:1px;background:linear-gradient(90deg,#62ff9d 0.5px,#48ffb7 41.5px,#29ffd6 63.5px,#12ffed 64.5px,#09fff6 66.5px,#00f9ff 76.5px,#00d1ff 90.5px,#00acff 98.5px,#0038fc 99.5px,#0000e6 100.5px,#0000d0 101.5px,#0000c3 102.5px,#0000c2 111.5px,#0000db 114.5px,#0000f7 116.5px,#0014ff 118.5px,#00acff 128.5px,#00e8ff 133.5px,#03fffc 136.5px,#0cfff3 137.5px,#4bffb4 138.5px,#90ff6f 142.5px,#eaff15 146.5px,#fef801 147.5px,#ffa300 150.5px,#ff8400 151.5px,#ff7100 152.5px,#ff7100 153.5px,#ff9800 155.5px,#ffc000 157.5px,#ffe800 162.5px,#feff01 167.5px,#d6ff29 182.5px,#b5ff4a 203.5px,#a0ff5f 234.5px)"></div><div class="hr" style="top:81px;height:1px;background:linear-gradient(90deg,#61ff9e 0.5px,#47ffb8 41.5px,#2affd5 62.5px,#22ffdd 63.5px,#0bfff4 64.5px,#00f9ff 76.5px,#00d1ff 90.5px,#00abff 98.5px,#0038fb 99.5px,#0000e5 100.5px,#0000cf 101.5px,#0000c2 102.5px,#0000c2 111.5px,#0000db 114.5px,#0000f7 116.5px,#0014ff 118.5px,#00adff 128.5px,#00e8ff 133.5px,#03fffc 136.5px,#0cfff3 137.5px,#4bffb4 138.5px,#90ff6f 142.5px,#ebff14 146.5px,#fef801 147.5px,#ffa200 150.5px,#ff8400 151.5px,#ff7100 152.5px,#ff7200 153.5px,#ff9a00 155.5px,#ffc100 157.5px,#ffe900 162.5px,#fdff02 167.5px,#d6ff29 182.5px,#b4ff4b 203.5px,#a0ff5f 234.5px)"></div><div class="hr" style="top:82px;height:1px;background:linear-gradient(90deg,#61ff9e 0.5px,#48ffb7 40.5px,#29ffd6 62.5px,#12ffed 63.5px,#09fff6 65.5px,#00f9ff 76.5px,#00d4ff 89.5px,#00aaff 98.5px,#0038fb 99.5px,#0000e4 100.5px,#0000ce 101.5px,#0000c2 102.5px,#0000c1 111.5px,#0000db 114.5px,#0000f7 116.5px,#0014ff 118.5px,#00adff 128.5px,#00e8ff 133.5px,#03fffc 136.5px,#0cfff3 137.5px,#4bffb4 138.5px,#91ff6e 142.5px,#ebff14 146.5px,#fef701 147.5px,#ffa200 150.5px,#ff8300 151.5px,#ff7100 152.5px,#ff7300 153.5px,#ff9b00 155.5px,#ffc200 157.5px,#ffea00 162.5px,#fcff03 167.5px,#d5ff2a 182.5px,#b3ff4c 203.5px,#9fff60 234.5px)"></div><div class="hr" style="top:83px;height:1px;background:linear-gradient(90deg,#60ff9f 0.5px,#47ffb8 40.5px,#2affd5 61.5px,#22ffdd 62.5px,#0bfff4 63.5px,#00f9ff 76.5px,#00d4ff 89.5px,#00aaff 98.5px,#0037fa 99.5px,#0000e2 100.5px,#0000cc 101.5px,#0000c1 102.5px,#0000c1 111.5px,#0000db 114.5px,#0000f8 116.5px,#0015ff 118.5px,#00adff 128.5px,#00e8ff 133.5px,#03fffc 136.5px,#0cfff3 137.5px,#4bffb4 138.5px,#91ff6e 142.5px,#ecff13 146.5px,#fff700 147.5px,#ffa100 150.5px,#ff8300 151.5px,#ff7200 152.5px,#ff7400 153.5px,#ff9d00 155.5px,#ffc300 157.5px,#ffeb00 162.5px,#fbff04 167.5px,#d4ff2b 182.5px,#b3ff4c 203.5px,#9fff60 234.5px)"></div><div class="hr" style="top:84px;height:1px;background:linear-gradient(90deg,#5fffa0 0.5px,#48ffb7 39.5px,#29ffd6 61.5px,#15ffea 62.5px,#0afff5 63.5px,#00f8ff 76.5px,#00d3ff 89.5px,#00a9ff 98.5px,#0037f7 99.5px,#0000df 100.5px,#0000ca 101.5px,#0000c0 102.5px,#0000c1 111.5px,#0000dc 114.5px,#0000f9 116.5px,#0015ff 118.5px,#00aeff 128.5px,#00e8ff 133.5px,#03fffc 136.5px,#0cfff3 137.5px,#4bffb4 138.5px,#91ff6e 142.5px,#edff12 146.5px,#fff700 147.5px,#ffa100 150.5px,#ff8300 151.5px,#ff7200 152.5px,#ff7500 153.5px,#ffb500 156.5px,#ffd700 159.5px,#feff01 166.5px,#d8ff27 180.5px,#b3ff4c 202.5px,#9eff61 234.5px)"></div><div class="hr" style="top:85px;height:1px;background:linear-gradient(90deg,#5effa1 0.5px,#48ffb7 39.5px,#25ffda 61.5px,#0bfff4 62.5px,#00faff 75.5px,#00d6ff 88.5px,#00a8ff 98.5px,#0000f5 99.5px,#0000c7 101.5px,#0000bf 103.5px,#0000c1 111.5px,#0000dd 114.5px,#0000f9 116.5px,#0025ff 119.5px,#00a1ff 127.5px,#00e8ff 133.5px,#03fffc 136.5px,#17ffe8 137.5px,#4bffb4 138.5px,#92ff6d 142.5px,#edff12 146.5px,#fff600 147.5px,#ff8200 151.5px,#ff7200 152.5px,#ff7600 153.5px,#ffb700 156.5px,#ffd800 159.5px,#fffc00 165.5px,#d5ff2a 181.5px,#b2ff4d 202.5px,#9eff61 234.5px)"></div><div class="hr" style="top:86px;height:1px;background:linear-gradient(90deg,#5effa1 0.5px,#47ffb8 39.5px,#28ffd7 60.5px,#11ffee 61.5px,#09fff6 63.5px,#00f8ff 76.5px,#00d2ff 89.5px,#00a7ff 98.5px,#0000f1 99.5px,#0000c5 101.5px,#0000be 103.5px,#0000c1 111.5px,#0000de 114.5px,#0000fa 116.5px,#0026ff 119.5px,#00a1ff 127.5px,#00e9ff 133.5px,#03fffc 136.5px,#1dffe2 137.5px,#4cffb3 138.5px,#92ff6d 142.5px,#eeff11 146.5px,#fff600 147.5px,#ff8200 151.5px,#ff7200 152.5px,#ff7800 153.5px,#ffb800 156.5px,#ffe100 160.5px,#fdff02 166.5px,#d6ff29 180.5px,#b2ff4d 202.5px,#9dff62 234.5px)"></div><div class="hr" style="top:87px;height:1px;background:linear-gradient(90deg,#5dffa2 0.5px,#47ffb8 39.5px,#28ffd7 59.5px,#0afff5 61.5px,#00f9ff 75.5px,#00d9ff 87.5px,#00abff 97.5px,#0093ff 98.5px,#0000ee 99.5px,#0000c3 101.5px,#0000be 105.5px,#0000c1 111.5px,#0000de 114.5px,#0000fb 116.5px,#0037ff 120.5px,#00a2ff 127.5px,#00e9ff 133.5px,#03fffc 136.5px,#1dffe2 137.5px,#4cffb3 138.5px,#93ff6c 142.5px,#efff10 146.5px,#fff500 147.5px,#ff8100 151.5px,#ff7300 152.5px,#ff7900 153.5px,#ffba00 156.5px,#ffe200 160.5px,#fcff03 166.5px,#d5ff2a 180.5px,#b1ff4e 202.5px,#9dff62 234.5px)"></div><div class="hr" style="top:88px;height:1px;background:linear-gradient(90deg,#5cffa3 0.5px,#47ffb8 38.5px,#24ffdb 59.5px,#0bfff4 60.5px,#00faff 74.5px,#00dfff 85.5px,#00aaff 97.5px,#006efe 98.5px,#0000eb 99.5px,#0000d2 100.5px,#0000c1 101.5px,#0000c1 111.5px,#0000df 114.5px,#0001fb 116.5px,#0038ff 120.5px,#00a3ff 127.5px,#00e9ff 133.5px,#03fffc 136.5px,#1effe1 137.5px,#4cffb3 138.5px,#93ff6c 142.5px,#efff10 146.5px,#fff400 147.5px,#ff8100 151.5px,#ff7300 152.5px,#ff7a00 153.5px,#ffbb00 156.5px,#ffe300 160.5px,#fffe00 165.5px,#d9ff26 178.5px,#b1ff4e 201.5px,#9cff63 233.5px,#9cff63 234.5px)"></div><div class="hr" style="top:89px;height:1px;background:linear-gradient(90deg,#5bffa4 0.5px,#47ffb8 38.5px,#27ffd8 58.5px,#11ffee 59.5px,#08fff7 61.5px,#00f8ff 75.5px,#00d7ff 87.5px,#00a8ff 97.5px,#006dfd 98.5px,#0000e7 99.5px,#0000cf 100.5px,#0000c0 101.5px,#0000c1 111.5px,#0000e0 114.5px,#0001fc 116.5px,#0039ff 120.5px,#00a4ff 127.5px,#00eaff 133.5px,#04fffb 136.5px,#1effe1 137.5px,#4dffb2 138.5px,#94ff6b 142.5px,#f1ff0e 146.5px,#fff300 147.5px,#ff8000 151.5px,#ff7400 152.5px,#ff7c00 153.5px,#ffbd00 156.5px,#ffe400 160.5px,#feff01 165.5px,#d8ff27 178.5px,#b1ff4e 201.5px,#9cff63 233.5px,#9cff63 234.5px)"></div><div class="hr" style="top:90px;height:1px;background:linear-gradient(90deg,#5bffa4 0.5px,#46ffb9 38.5px,#28ffd7 57.5px,#0afff5 59.5px,#00faff 73.5px,#00e1ff 84.5px,#00a6ff 97.5px,#0048fc 98.5px,#0000e4 99.5px,#0000cc 100.5px,#0000be 101.5px,#0000c1 111.5px,#0000e1 114.5px,#0001fd 116.5px,#003aff 120.5px,#00a4ff 127.5px,#00eaff 133.5px,#04fffb 136.5px,#1effe1 137.5px,#4dffb2 138.5px,#95ff6a 142.5px,#f2ff0d 146.5px,#fff200 147.5px,#ff7f00 151.5px,#ff7400 152.5px,#ff7d00 153.5px,#ffbf00 156.5px,#ffe500 160.5px,#fdff02 165.5px,#d7ff28 178.5px,#b0ff4f 201.5px,#9bff64 233.5px,#9bff64 234.5px)"></div><div class="hr" style="top:91px;height:1px;background:linear-gradient(90deg,#5affa5 0.5px,#46ffb9 38.5px,#28ffd7 56.5px,#21ffde 57.5px,#0bfff4 58.5px,#00faff 72.5px,#00e3ff 83.5px,#00a4ff 97.5px,#0035f9 98.5px,#0000e0 99.5px,#0000c9 100.5px,#0000bd 101.5px,#0000bd 110.5px,#0000d5 113.5px,#0001fd 116.5px,#004cff 121.5px,#00b3ff 128.5px,#00eaff 133.5px,#04fffb 136.5px,#1fffe0 137.5px,#4effb1 138.5px,#96ff69 142.5px,#f3ff0c 146.5px,#fff100 147.5px,#ff7e00 151.5px,#ff7500 152.5px,#ff7f00 153.5px,#ffc000 156.5px,#ffed00 161.5px,#fcff03 165.5px,#d6ff29 178.5px,#b0ff4f 200.5px,#9bff64 233.5px,#9aff65 234.5px)"></div><div class="hr" style="top:92px;height:1px;background:linear-gradient(90deg,#59ffa6 0.5px,#45ffba 38.5px,#28ffd7 56.5px,#0efff1 57.5px,#00fcff 69.5px,#00e9ff 81.5px,#00b2ff 94.5px,#00a2ff 97.5px,#0035f7 98.5px,#0000dd 99.5px,#0000c7 100.5px,#0000bc 101.5px,#0000bd 110.5px,#0000d5 113.5px,#0002fe 116.5px,#004dff 121.5px,#00b3ff 128.5px,#00ebff 133.5px,#05fffa 136.5px,#1fffe0 137.5px,#4effb1 138.5px,#97ff68 142.5px,#f4ff0b 146.5px,#ffef00 147.5px,#ff7e00 151.5px,#ff7500 152.5px,#ff8100 153.5px,#ffc200 156.5px,#ffee00 161.5px,#fbff04 165.5px,#d6ff29 178.5px,#b0ff4f 200.5px,#9aff65 233.5px,#9aff65 234.5px)"></div><div class="hr" style="top:93px;height:1px;background:linear-gradient(90deg,#58ffa7 0.5px,#45ffba 38.5px,#2affd5 55.5px,#0afff5 57.5px,#00faff 70.5px,#00e5ff 82.5px,#00abff 95.5px,#00a0ff 97.5px,#0000f4 98.5px,#0000c4 100.5px,#0000bc 101.5px,#0000bd 110.5px,#0000d6 113.5px,#0003fe 116.5px,#004eff 121.5px,#00b4ff 128.5px,#00ebff 133.5px,#05fffa 136.5px,#20ffdf 137.5px,#4fffb0 138.5px,#98ff67 142.5px,#f6ff09 146.5px,#ffee00 147.5px,#ff7d00 151.5px,#ff7600 152.5px,#ff8200 153.5px,#ffc300 156.5px,#fff000 161.5px,#faff05 165.5px,#d5ff2a 178.5px,#afff50 200.5px,#99ff66 233.5px,#99ff66 234.5px)"></div><div class="hr" style="top:94px;height:1px;background:linear-gradient(90deg,#58ffa7 0.5px,#44ffbb 38.5px,#2dffd2 54.5px,#27ffd8 55.5px,#0bfff4 56.5px,#00faff 70.5px,#00e4ff 82.5px,#00a9ff 95.5px,#009eff 97.5px,#0000f1 98.5px,#0000c2 100.5px,#0000bb 102.5px,#0000bc 110.5px,#0000d7 113.5px,#0003fe 116.5px,#004fff 121.5px,#00b5ff 128.5px,#00ebff 133.5px,#05fffa 136.5px,#20ffdf 137.5px,#4fffb0 138.5px,#99ff66 142.5px,#f7ff08 146.5px,#ffed00 147.5px,#ff7d00 151.5px,#ff7700 152.5px,#ff8400 153.5px,#ffc500 156.5px,#fff100 161.5px,#f9ff06 165.5px,#d4ff2b 178.5px,#aeff51 200.5px,#99ff66 233.5px,#99ff66 234.5px)"></div><div class="hr" style="top:95px;height:1px;background:linear-gradient(90deg,#57ffa8 0.5px,#45ffba 37.5px,#2effd1 54.5px,#0afff5 56.5px,#00faff 69.5px,#00e6ff 81.5px,#00b2ff 93.5px,#00a1ff 96.5px,#008aff 97.5px,#0000ed 98.5px,#0000c0 100.5px,#0000ba 103.5px,#0000bc 110.5px,#0000d8 113.5px,#0004ff 116.5px,#009bff 126.5px,#00e3ff 132.5px,#00fcff 135.5px,#06fff9 136.5px,#20ffdf 137.5px,#50ffaf 138.5px,#99ff66 142.5px,#f7fe08 146.5px,#ffd200 148.5px,#ff9400 150.5px,#ff7c00 151.5px,#ff7800 152.5px,#ff8600 153.5px,#ffb500 155.5px,#ffd100 157.5px,#fff800 162.5px,#f4ff0b 166.5px,#ceff31 181.5px,#aeff51 200.5px,#98ff67 233.5px,#98ff67 234.5px)"></div><div class="hr" style="top:96px;height:1px;background:linear-gradient(90deg,#56ffa9 0.5px,#44ffbb 37.5px,#31ffce 53.5px,#2bffd4 54.5px,#0bfff4 55.5px,#00f9ff 69.5px,#00e6ff 81.5px,#00b0ff 93.5px,#009fff 96.5px,#0067fe 97.5px,#0000ea 98.5px,#0000d0 99.5px,#0000be 100.5px,#0000bc 110.5px,#0000d9 113.5px,#0004ff 116.5px,#009cff 126.5px,#00e3ff 132.5px,#00fcff 135.5px,#06fff9 136.5px,#50ffaf 138.5px,#85ff7a 141.5px,#f8fe07 146.5px,#ffd100 148.5px,#ff9300 150.5px,#ff7c00 151.5px,#ff7900 152.5px,#ff8800 153.5px,#ffb700 155.5px,#ffd300 157.5px,#fff900 162.5px,#efff10 167.5px,#bcff43 189.5px,#9eff61 218.5px,#98ff67 234.5px)"></div><div class="hr" style="top:97px;height:1px;background:linear-gradient(90deg,#55ffaa 0.5px,#43ffbc 37.5px,#32ffcd 53.5px,#0afff5 55.5px,#00faff 68.5px,#00e8ff 80.5px,#00b9ff 91.5px,#009cff 96.5px,#0065fd 97.5px,#0000e6 98.5px,#0000cc 99.5px,#0000bc 100.5px,#0000bd 110.5px,#0000da 113.5px,#0005ff 116.5px,#009dff 126.5px,#00e4ff 132.5px,#00fcff 135.5px,#06fff9 136.5px,#32ffcd 137.5px,#51ffae 138.5px,#86ff79 141.5px,#f9fe06 146.5px,#ffd000 148.5px,#ff9200 150.5px,#ff7b00 151.5px,#ff7a00 152.5px,#ff8a00 153.5px,#ffb900 155.5px,#ffde00 158.5px,#fefe01 163.5px,#d8ff27 175.5px,#adff52 199.5px,#97ff68 232.5px,#97ff68 234.5px)"></div><div class="hr" style="top:98px;height:1px;background:linear-gradient(90deg,#55ffaa 0.5px,#44ffbb 36.5px,#34ffcb 52.5px,#2effd1 53.5px,#0bfff4 54.5px,#00f9ff 68.5px,#00e8ff 80.5px,#00b7ff 91.5px,#009aff 96.5px,#0042fc 97.5px,#0000e3 98.5px,#0000c9 99.5px,#0000bb 100.5px,#0000bd 110.5px,#0000da 113.5px,#0006ff 116.5px,#009eff 126.5px,#00e4ff 132.5px,#00fdff 135.5px,#07fff8 136.5px,#33ffcc 137.5px,#51ffae 138.5px,#87ff78 141.5px,#fafd05 146.5px,#ffce00 148.5px,#ff9100 150.5px,#ff7b00 151.5px,#ff7b00 152.5px,#ffa400 154.5px,#ffca00 156.5px,#fff500 161.5px,#f9ff06 164.5px,#d5ff2a 176.5px,#adff52 199.5px,#97ff68 232.5px,#97ff68 234.5px)"></div><div class="hr" style="top:99px;height:1px;background:linear-gradient(90deg,#54ffab 0.5px,#43ffbc 36.5px,#33ffcc 51.5px,#33ffcc 52.5px,#18ffe7 53.5px,#0afff5 54.5px,#00f9ff 69.5px,#00e7ff 80.5px,#00b5ff 91.5px,#0097ff 96.5px,#0031f9 97.5px,#0000df 98.5px,#0000c6 99.5px,#0000ba 100.5px,#0000bd 110.5px,#0000db 113.5px,#0000f8 115.5px,#0014ff 117.5px,#0091ff 125.5px,#00e5ff 132.5px,#00fdff 135.5px,#07fff8 136.5px,#33ffcc 137.5px,#52ffad 138.5px,#87ff78 141.5px,#fbfd04 146.5px,#ffcd00 148.5px,#ff8f00 150.5px,#ff7b00 151.5px,#ff7d00 152.5px,#ffa600 154.5px,#ffbd00 155.5px,#ffe900 159.5px,#fdff02 163.5px,#d9ff26 174.5px,#adff52 198.5px,#96ff69 232.5px,#96ff69 234.5px)"></div><div class="hr" style="top:100px;height:1px;background:linear-gradient(90deg,#53ffac 0.5px,#43ffbc 35.5px,#31ffce 51.5px,#29ffd6 52.5px,#0bfff4 53.5px,#00f9ff 69.5px,#00e7ff 80.5px,#00b3ff 91.5px,#0095ff 96.5px,#0030f7 97.5px,#0000db 98.5px,#0000c4 99.5px,#0000b9 100.5px,#0000bd 110.5px,#0000dc 113.5px,#0000f9 115.5px,#0015ff 117.5px,#0092ff 125.5px,#00e5ff 132.5px,#00fdff 135.5px,#07fff8 136.5px,#33ffcc 137.5px,#52ffad 138.5px,#88ff77 141.5px,#fbfd04 146.5px,#ffcc00 148.5px,#ff8e00 150.5px,#ff7b00 151.5px,#ff7e00 152.5px,#ffbf00 155.5px,#ffea00 159.5px,#fcff03 163.5px,#d8ff27 174.5px,#acff53 198.5px,#96ff69 232.5px,#96ff69 234.5px)"></div><div class="hr" style="top:101px;height:1px;background:linear-gradient(90deg,#52ffad 0.5px,#42ffbd 35.5px,#2effd1 51.5px,#13ffec 52.5px,#09fff6 54.5px,#00f8ff 70.5px,#00e3ff 81.5px,#00abff 92.5px,#0092ff 96.5px,#0000f4 97.5px,#0000c1 99.5px,#0000b8 100.5px,#0000b9 109.5px,#0000d0 112.5px,#0000f9 115.5px,#0025ff 118.5px,#0093ff 125.5px,#00e6ff 132.5px,#00fdff 135.5px,#08fff7 136.5px,#34ffcb 137.5px,#53ffac 138.5px,#89ff76 141.5px,#fcfc03 146.5px,#ffcb00 148.5px,#ff8d00 150.5px,#ff7b00 151.5px,#ff7f00 152.5px,#ffc100 155.5px,#ffeb00 159.5px,#fbff04 163.5px,#d5ff2a 175.5px,#acff53 198.5px,#95ff6a 232.5px,#95ff6a 234.5px)"></div><div class="hr" style="top:102px;height:1px;background:linear-gradient(90deg,#52ffad 0.5px,#42ffbd 34.5px,#2bffd4 50.5px,#24ffdb 51.5px,#0afff5 52.5px,#00f9ff 69.5px,#00e6ff 80.5px,#00b5ff 90.5px,#0090ff 96.5px,#0000f0 97.5px,#0000bf 99.5px,#0000b7 101.5px,#0000b8 109.5px,#0000d1 112.5px,#0000fa 115.5px,#0026ff 118.5px,#0086ff 124.5px,#00dcff 131.5px,#01fdfe 135.5px,#08fff7 136.5px,#34ffcb 137.5px,#53ffac 138.5px,#8aff75 141.5px,#fdfb02 146.5px,#ffca00 148.5px,#ff8c00 150.5px,#ff7b00 151.5px,#ff8100 152.5px,#ffc200 155.5px,#ffec00 159.5px,#feff01 162.5px,#d9ff26 173.5px,#abff54 198.5px,#95ff6a 232.5px,#94ff6b 234.5px)"></div><div class="hr" style="top:103px;height:1px;background:linear-gradient(90deg,#51ffae 0.5px,#40ffbf 34.5px,#25ffda 50.5px,#0efff1 51.5px,#00fbff 67.5px,#00eaff 79.5px,#00c0ff 88.5px,#0093ff 95.5px,#007eff 96.5px,#0000ed 97.5px,#0000d1 98.5px,#0000bc 99.5px,#0000b7 102.5px,#0000b8 109.5px,#0000d2 112.5px,#0000fb 115.5px,#0027ff 118.5px,#0087ff 124.5px,#00ddff 131.5px,#01fefe 135.5px,#08fff7 136.5px,#35ffca 137.5px,#54ffab 138.5px,#8bff74 141.5px,#fdfb02 146.5px,#ffc900 148.5px,#ff8b00 150.5px,#ff7c00 151.5px,#ff8200 152.5px,#ffc400 155.5px,#ffee00 159.5px,#fdff02 162.5px,#d8ff27 173.5px,#aaff55 198.5px,#94ff6b 232.5px,#94ff6b 234.5px)"></div><div class="hr" style="top:104px;height:1px;background:linear-gradient(90deg,#50ffaf 0.5px,#40ffbf 33.5px,#27ffd8 49.5px,#14ffeb 50.5px,#0afff5 51.5px,#00f8ff 71.5px,#00e3ff 81.5px,#00abff 91.5px,#0091ff 95.5px,#005dfe 96.5px,#0000e9 97.5px,#0000cd 98.5px,#0000ba 99.5px,#0000b8 109.5px,#0000d2 112.5px,#0001fc 115.5px,#0038ff 119.5px,#0095ff 125.5px,#00e7ff 132.5px,#01fefe 135.5px,#09fff6 136.5px,#35ffca 137.5px,#54ffab 138.5px,#8cff73 141.5px,#e9ff16 145.5px,#fdfa02 146.5px,#ffc800 148.5px,#ff8a00 150.5px,#ff7c00 151.5px,#ff8400 152.5px,#ffc600 155.5px,#ffef00 159.5px,#fcff03 162.5px,#d7ff28 173.5px,#aaff55 198.5px,#94ff6b 232.5px,#93ff6c 234.5px)"></div><div class="hr" style="top:105px;height:1px;background:linear-gradient(90deg,#50ffaf 0.5px,#40ffbf 32.5px,#28ffd7 48.5px,#0afff5 50.5px,#00f9ff 71.5px,#00e3ff 81.5px,#00a9ff 91.5px,#008eff 95.5px,#005bfd 96.5px,#0000e5 97.5px,#0000ca 98.5px,#0000b9 99.5px,#0000b8 109.5px,#0000d3 112.5px,#0001fc 115.5px,#0039ff 119.5px,#0089ff 124.5px,#00deff 131.5px,#01fefe 135.5px,#09fff6 136.5px,#3bffc4 137.5px,#55ffaa 138.5px,#8dff72 141.5px,#ebff14 145.5px,#fef901 146.5px,#ffc700 148.5px,#ff8900 150.5px,#ff7c00 151.5px,#ff8500 152.5px,#ffc700 155.5px,#fff700 160.5px,#f2ff0d 164.5px,#ceff31 177.5px,#a9ff56 198.5px,#93ff6c 232.5px,#93ff6c 234.5px)"></div><div class="hr" style="top:106px;height:1px;background:linear-gradient(90deg,#4fffb0 0.5px,#3fffc0 32.5px,#28ffd7 47.5px,#1effe1 48.5px,#0afff5 49.5px,#00f9ff 71.5px,#00e3ff 81.5px,#00aeff 90.5px,#008bff 95.5px,#004bfc 96.5px,#0000e1 97.5px,#0000c7 98.5px,#0000b7 99.5px,#0000b8 109.5px,#0000d4 112.5px,#0001fd 115.5px,#003aff 119.5px,#008aff 124.5px,#00deff 131.5px,#01fefe 135.5px,#09fff6 136.5px,#47ffb8 137.5px,#78ff87 140.5px,#ecff13 145.5px,#fef801 146.5px,#ffc500 148.5px,#ff8800 150.5px,#ff7d00 151.5px,#ff8700 152.5px,#ffc900 155.5px,#fff800 160.5px,#f1ff0e 164.5px,#cdff32 177.5px,#a8ff57 198.5px,#92ff6d 232.5px,#92ff6d 234.5px)"></div><div class="hr" style="top:107px;height:1px;background:linear-gradient(90deg,#4effb1 0.5px,#3fffc0 31.5px,#24ffdb 47.5px,#0bfff4 48.5px,#00f9ff 71.5px,#00e3ff 81.5px,#00acff 90.5px,#0089ff 95.5px,#002cf9 96.5px,#0000dd 97.5px,#0000c4 98.5px,#0000b6 99.5px,#0000b8 109.5px,#0000d5 112.5px,#0002fd 115.5px,#003bff 119.5px,#008bff 124.5px,#00dfff 131.5px,#01fefe 135.5px,#0afff5 136.5px,#48ffb7 137.5px,#79ff86 140.5px,#edff12 145.5px,#fff700 146.5px,#ffc400 148.5px,#ff8800 150.5px,#ff7e00 151.5px,#ff8900 152.5px,#ffca00 155.5px,#fffa00 160.5px,#e8ff17 166.5px,#b0ff4f 191.5px,#93ff6c 226.5px,#92ff6d 234.5px)"></div><div class="hr" style="top:108px;height:1px;background:linear-gradient(90deg,#4effb1 0.5px,#3effc1 31.5px,#25ffda 46.5px,#0efff1 47.5px,#00faff 71.5px,#00e3ff 81.5px,#00b2ff 89.5px,#0086ff 95.5px,#002bf7 96.5px,#0000da 97.5px,#0000c1 98.5px,#0000b5 99.5px,#0000b8 109.5px,#0000d6 112.5px,#0002fe 115.5px,#003dff 119.5px,#008cff 124.5px,#00dfff 131.5px,#01fefe 135.5px,#0afff5 136.5px,#48ffb7 137.5px,#7aff85 140.5px,#eeff11 145.5px,#fff700 146.5px,#ffc300 148.5px,#ff8700 150.5px,#ff7e00 151.5px,#ff8b00 152.5px,#ffba00 154.5px,#ffd800 156.5px,#fffb00 160.5px,#d4ff2b 173.5px,#a8ff57 197.5px,#91ff6e 231.5px,#91ff6e 234.5px)"></div><div class="hr" style="top:109px;height:1px;background:linear-gradient(90deg,#4dffb2 0.5px,#3dffc2 31.5px,#25ffda 45.5px,#0efff1 46.5px,#00faff 71.5px,#00e3ff 81.5px,#00b1ff 89.5px,#0084ff 95.5px,#000ef4 96.5px,#0000d6 97.5px,#0000be 98.5px,#0000b4 99.5px,#0000b9 109.5px,#0000d6 112.5px,#0003fe 115.5px,#003eff 119.5px,#008cff 124.5px,#00e0ff 131.5px,#02fefd 135.5px,#0afff5 136.5px,#49ffb6 137.5px,#7bff84 140.5px,#efff10 145.5px,#fff600 146.5px,#ffc200 148.5px,#ff8600 150.5px,#ff7f00 151.5px,#ff8d00 152.5px,#ffbc00 154.5px,#ffe400 157.5px,#fcff03 161.5px,#d8ff27 171.5px,#a8ff57 196.5px,#91ff6e 231.5px,#91ff6e 234.5px)"></div><div class="hr" style="top:110px;height:1px;background:linear-gradient(90deg,#4cffb3 0.5px,#3dffc2 30.5px,#25ffda 44.5px,#0efff1 45.5px,#00faff 71.5px,#00e3ff 81.5px,#00afff 89.5px,#0081ff 95.5px,#0000f0 96.5px,#0000bb 98.5px,#0000b4 100.5px,#0000b4 108.5px,#0000cb 111.5px,#0003fe 115.5px,#0050ff 120.5px,#00a8ff 126.5px,#00e9ff 132.5px,#02fffd 135.5px,#0bfff4 136.5px,#49ffb6 137.5px,#7bff84 140.5px,#f1ff0e 145.5px,#fff500 146.5px,#ffc000 148.5px,#ff8600 150.5px,#ff8000 151.5px,#ff8e00 152.5px,#ffbe00 154.5px,#ffe500 157.5px,#fffd00 160.5px,#d7ff28 171.5px,#a7ff58 196.5px,#90ff6f 231.5px,#90ff6f 234.5px)"></div><div class="hr" style="top:111px;height:1px;background:linear-gradient(90deg,#4bffb4 0.5px,#3cffc3 30.5px,#25ffda 43.5px,#0efff1 44.5px,#00faff 71.5px,#00e3ff 81.5px,#00aeff 89.5px,#007fff 95.5px,#0000ec 96.5px,#0000ce 97.5px,#0000b9 98.5px,#0000b3 101.5px,#0000b4 108.5px,#0000cc 111.5px,#0004ff 115.5px,#0051ff 120.5px,#009cff 125.5px,#00eaff 132.5px,#02fffd 135.5px,#0bfff4 136.5px,#49ffb6 137.5px,#7cff83 140.5px,#f2ff0d 145.5px,#fff300 146.5px,#ffbf00 148.5px,#ff8500 150.5px,#ff8100 151.5px,#ff9000 152.5px,#ffc000 154.5px,#fff000 158.5px,#faff05 161.5px,#d6ff29 171.5px,#a7ff58 196.5px,#90ff6f 231.5px,#90ff6f 234.5px)"></div><div class="hr" style="top:112px;height:1px;background:linear-gradient(90deg,#4bffb4 0.5px,#3cffc3 29.5px,#25ffda 42.5px,#0efff1 43.5px,#00faff 70.5px,#00e6ff 80.5px,#00c4ff 86.5px,#0084ff 94.5px,#0054fe 95.5px,#0000e8 96.5px,#0000cb 97.5px,#0000b7 98.5px,#0000b4 108.5px,#0000cc 111.5px,#0004ff 115.5px,#0052ff 120.5px,#009cff 125.5px,#00eaff 132.5px,#02fffd 135.5px,#0bfff4 136.5px,#4affb5 137.5px,#7dff82 140.5px,#f3ff0c 145.5px,#fff200 146.5px,#ffbe00 148.5px,#ff8500 150.5px,#ff8200 151.5px,#ff9200 152.5px,#ffc200 154.5px,#fff100 158.5px,#feff01 160.5px,#d8ff27 170.5px,#a6ff59 196.5px,#8fff70 231.5px,#8fff70 234.5px)"></div><div class="hr" style="top:113px;height:1px;background:linear-gradient(90deg,#4affb5 0.5px,#3bffc4 29.5px,#25ffda 41.5px,#0efff1 42.5px,#00faff 70.5px,#00e6ff 80.5px,#00c3ff 86.5px,#0083ff 94.5px,#0053fd 95.5px,#0000e5 96.5px,#0000c8 97.5px,#0000b5 98.5px,#0000b4 108.5px,#0000cd 111.5px,#0005ff 115.5px,#0090ff 124.5px,#00e1ff 131.5px,#03fffc 135.5px,#0cfff3 136.5px,#4bffb4 137.5px,#7eff81 140.5px,#f4ff0b 145.5px,#fff100 146.5px,#ffbd00 148.5px,#ff9c00 149.5px,#ff8400 150.5px,#ff8300 151.5px,#ffad00 153.5px,#ffc400 154.5px,#fff200 158.5px,#fdff02 160.5px,#d7ff28 170.5px,#a5ff5a 196.5px,#8fff70 231.5px,#8fff70 234.5px)"></div><div class="hr" style="top:114px;height:1px;background:linear-gradient(90deg,#49ffb6 0.5px,#3bffc4 28.5px,#25ffda 40.5px,#0efff1 41.5px,#00fbff 69.5px,#00e4ff 80.5px,#00baff 87.5px,#0082ff 94.5px,#0052fc 95.5px,#0000e2 96.5px,#0000c5 97.5px,#0000b4 98.5px,#0000b4 108.5px,#0000cd 111.5px,#0005ff 115.5px,#0090ff 124.5px,#00e1ff 131.5px,#03fffc 135.5px,#18ffe7 136.5px,#4bffb4 137.5px,#7fff80 140.5px,#f5ff0a 145.5px,#fff000 146.5px,#ff9b00 149.5px,#ff8400 150.5px,#ff8500 151.5px,#ffc600 154.5px,#fff400 158.5px,#f7ff08 161.5px,#d1ff2e 172.5px,#a5ff5a 196.5px,#8eff71 231.5px,#8eff71 234.5px)"></div><div class="hr" style="top:115px;height:1px;background:linear-gradient(90deg,#48ffb7 0.5px,#39ffc6 28.5px,#25ffda 39.5px,#0efff1 40.5px,#00fbff 68.5px,#00e6ff 79.5px,#00c0ff 86.5px,#0081ff 94.5px,#0045fb 95.5px,#0000df 96.5px,#0000c3 97.5px,#0000b3 98.5px,#0000b4 108.5px,#0000cd 111.5px,#0000f7 114.5px,#0006ff 115.5px,#0090ff 124.5px,#00e1ff 131.5px,#03fffc 135.5px,#1effe1 136.5px,#4cffb3 137.5px,#81ff7e 140.5px,#f7ff08 145.5px,#ffee00 146.5px,#ff9a00 149.5px,#ff8400 150.5px,#ff8600 151.5px,#ffc800 154.5px,#fff500 158.5px,#fbff04 160.5px,#d6ff29 170.5px,#a4ff5b 196.5px,#8eff71 231.5px,#8dff72 234.5px)"></div><div class="hr" style="top:116px;height:1px;background:linear-gradient(90deg,#47ffb8 0.5px,#39ffc6 27.5px,#25ffda 38.5px,#0efff1 39.5px,#00fcff 67.5px,#00e5ff 79.5px,#00bfff 86.5px,#0081ff 94.5px,#0029fa 95.5px,#0000dd 96.5px,#0000c1 97.5px,#0000b2 98.5px,#0000b3 108.5px,#0000ce 111.5px,#0000f7 114.5px,#0014ff 116.5px,#0090ff 124.5px,#00e1ff 131.5px,#04fffb 135.5px,#1effe1 136.5px,#4dffb2 137.5px,#82ff7d 140.5px,#f8ff07 145.5px,#ffd400 147.5px,#ff9900 149.5px,#ff8500 150.5px,#ff8800 151.5px,#ffca00 154.5px,#fff600 158.5px,#fbff04 160.5px,#d5ff2a 170.5px,#a4ff5b 196.5px,#8dff72 231.5px,#8dff72 234.5px)"></div><div class="hr" style="top:117px;height:1px;background:linear-gradient(90deg,#46ffb9 0.5px,#38ffc7 27.5px,#25ffda 37.5px,#0efff1 38.5px,#00fdff 65.5px,#00e7ff 78.5px,#00c4ff 85.5px,#0080ff 94.5px,#0029f8 95.5px,#0000da 96.5px,#0000bf 97.5px,#0000b2 98.5px,#0000b3 108.5px,#0000ce 111.5px,#0000f8 114.5px,#0014ff 116.5px,#0090ff 124.5px,#00e1ff 131.5px,#04fffb 135.5px,#1fffe0 136.5px,#4effb1 137.5px,#83ff7c 140.5px,#f8fe07 145.5px,#ffd200 147.5px,#ff9800 149.5px,#ff8500 150.5px,#ff8900 151.5px,#ffcb00 154.5px,#fff700 158.5px,#faff05 160.5px,#d4ff2b 170.5px,#a3ff5c 196.5px,#8cff73 231.5px,#8cff73 234.5px)"></div><div class="hr" style="top:118px;height:1px;background:linear-gradient(90deg,#45ffba 0.5px,#37ffc8 26.5px,#25ffda 36.5px,#0efff1 37.5px,#00fdff 64.5px,#00e8ff 77.5px,#00c2ff 85.5px,#0080ff 94.5px,#0029f6 95.5px,#0000d7 96.5px,#0000bd 97.5px,#0000b1 98.5px,#0000b3 108.5px,#0000ce 111.5px,#0000f8 114.5px,#0015ff 116.5px,#0090ff 124.5px,#00e1ff 131.5px,#05fffa 135.5px,#1fffe0 136.5px,#4fffb0 137.5px,#85ff7a 140.5px,#f9fe06 145.5px,#ffd100 147.5px,#ff9700 149.5px,#ff8500 150.5px,#ff8b00 151.5px,#ffcd00 154.5px,#fff800 158.5px,#f9ff06 160.5px,#d3ff2c 170.5px,#a3ff5c 196.5px,#8cff73 231.5px,#8cff73 234.5px)"></div><div class="hr" style="top:119px;height:1px;background:linear-gradient(90deg,#45ffba 0.5px,#37ffc8 25.5px,#25ffda 35.5px,#0efff1 36.5px,#00feff 62.5px,#00e9ff 76.5px,#00c6ff 84.5px,#007fff 94.5px,#0029f5 95.5px,#0000d5 96.5px,#0000bb 97.5px,#0000b0 98.5px,#0000b3 108.5px,#0000cf 111.5px,#0000f9 114.5px,#0015ff 116.5px,#0090ff 124.5px,#00eaff 132.5px,#05fffa 135.5px,#20ffdf 136.5px,#50ffaf 137.5px,#86ff79 140.5px,#fafd05 145.5px,#ffd000 147.5px,#ff9600 149.5px,#ff8600 150.5px,#ff8d00 151.5px,#ffcf00 154.5px,#fff900 158.5px,#f3ff0c 161.5px,#ceff31 172.5px,#a2ff5d 196.5px,#8bff74 231.5px,#8bff74 234.5px)"></div><div class="hr" style="top:120px;height:1px;background:linear-gradient(90deg,#44ffbb 0.5px,#36ffc9 25.5px,#25ffda 34.5px,#0efff1 35.5px,#00feff 61.5px,#00eaff 75.5px,#00c4ff 84.5px,#007fff 94.5px,#000ef2 95.5px,#0000d2 96.5px,#0000b9 97.5px,#0000b0 98.5px,#0000b3 108.5px,#0000cf 111.5px,#0000f9 114.5px,#0024ff 117.5px,#0083ff 123.5px,#00e1ff 131.5px,#00fcff 134.5px,#06fff9 135.5px,#20ffdf 136.5px,#50ffaf 137.5px,#87ff78 140.5px,#fbfd04 145.5px,#ffb200 148.5px,#ff9500 149.5px,#ff8600 150.5px,#ff8e00 151.5px,#ffd000 154.5px,#fffa00 158.5px,#e5ff1a 164.5px,#beff41 180.5px,#a1ff5e 197.5px,#8bff74 231.5px,#8bff74 234.5px)"></div><div class="hr" style="top:121px;height:1px;background:linear-gradient(90deg,#43ffbc 0.5px,#36ffc9 24.5px,#25ffda 33.5px,#0efff1 34.5px,#00feff 59.5px,#00ebff 74.5px,#00c8ff 83.5px,#007fff 94.5px,#0000ef 95.5px,#0000b7 97.5px,#0000af 98.5px,#0000b3 108.5px,#0000cf 111.5px,#0000fa 114.5px,#0025ff 117.5px,#0083ff 123.5px,#00e1ff 131.5px,#00fcff 134.5px,#06fff9 135.5px,#21ffde 136.5px,#51ffae 137.5px,#88ff77 140.5px,#fcfc03 145.5px,#ffb100 148.5px,#ff9400 149.5px,#ff8700 150.5px,#ff9000 151.5px,#ffd200 154.5px,#fffb00 158.5px,#d4ff2b 169.5px,#a2ff5d 195.5px,#8aff75 230.5px,#8aff75 234.5px)"></div><div class="hr" style="top:122px;height:1px;background:linear-gradient(90deg,#42ffbd 0.5px,#36ffc9 23.5px,#25ffda 32.5px,#0efff1 33.5px,#00feff 58.5px,#00ecff 73.5px,#00ccff 82.5px,#007eff 94.5px,#0000ed 95.5px,#0000cd 96.5px,#0000b6 97.5px,#0000af 99.5px,#0000b2 108.5px,#0000d0 111.5px,#0000fa 114.5px,#0025ff 117.5px,#0083ff 123.5px,#00e1ff 131.5px,#00fdff 134.5px,#07fff8 135.5px,#33ffcc 136.5px,#52ffad 137.5px,#8aff75 140.5px,#fdfc02 145.5px,#ffaf00 148.5px,#ff9400 149.5px,#ff8800 150.5px,#ff9200 151.5px,#ffc200 153.5px,#ffe000 155.5px,#fffc00 158.5px,#d6ff29 168.5px,#a2ff5d 195.5px,#8aff75 230.5px,#89ff76 234.5px)"></div><div class="hr" style="top:123px;height:1px;background:linear-gradient(90deg,#41ffbe 0.5px,#34ffcb 23.5px,#25ffda 31.5px,#0efff1 32.5px,#00feff 57.5px,#00ebff 73.5px,#00c5ff 83.5px,#007eff 94.5px,#0000ea 95.5px,#0000ca 96.5px,#0000b4 97.5px,#0000ae 100.5px,#0000b2 108.5px,#0000d0 111.5px,#0000fb 114.5px,#0026ff 117.5px,#0083ff 123.5px,#00ebff 132.5px,#00fdff 134.5px,#07fff8 135.5px,#34ffcb 136.5px,#53ffac 137.5px,#a1ff5e 141.5px,#fdfb02 145.5px,#ff9300 149.5px,#ff8900 150.5px,#ff9400 151.5px,#ffc400 153.5px,#ffec00 156.5px,#fffd00 158.5px,#d5ff2a 168.5px,#a1ff5e 195.5px,#89ff76 230.5px,#89ff76 234.5px)"></div><div class="hr" style="top:124px;height:1px;background:linear-gradient(90deg,#40ffbf 0.5px,#34ffcb 22.5px,#29ffd6 29.5px,#1effe1 30.5px,#0afff5 31.5px,#00f9ff 63.5px,#00e1ff 76.5px,#00b2ff 86.5px,#0084ff 93.5px,#0070ff 94.5px,#0000e7 95.5px,#0000c8 96.5px,#0000b3 97.5px,#0000ae 103.5px,#0000b2 108.5px,#0000d0 111.5px,#0000fb 114.5px,#0036ff 118.5px,#0090ff 124.5px,#00f5ff 133.5px,#08fff7 135.5px,#34ffcb 136.5px,#54ffab 137.5px,#a3ff5c 141.5px,#fdfa02 145.5px,#ff9200 149.5px,#ff8a00 150.5px,#ff9600 151.5px,#ffc600 153.5px,#ffed00 156.5px,#fefe01 158.5px,#d8ff27 167.5px,#a1ff5e 194.5px,#89ff76 230.5px,#88ff77 234.5px)"></div><div class="hr" style="top:125px;height:1px;background:linear-gradient(90deg,#3fffc0 0.5px,#33ffcc 22.5px,#29ffd6 28.5px,#1effe1 29.5px,#0afff5 30.5px,#00f9ff 62.5px,#00e2ff 75.5px,#00b6ff 85.5px,#0083ff 93.5px,#0054fd 94.5px,#0000e4 95.5px,#0000c5 96.5px,#0000b1 97.5px,#0000ae 107.5px,#0000c4 110.5px,#0000fb 114.5px,#0037ff 118.5px,#0090ff 124.5px,#00f5ff 133.5px,#08fff7 135.5px,#35ffca 136.5px,#55ffaa 137.5px,#a4ff5b 141.5px,#ebff14 144.5px,#fef901 145.5px,#ff9200 149.5px,#ff8a00 150.5px,#ff9800 151.5px,#ffc800 153.5px,#fff800 157.5px,#f8ff07 159.5px,#d1ff2e 169.5px,#a0ff5f 195.5px,#88ff77 230.5px,#88ff77 234.5px)"></div><div class="hr" style="top:126px;height:1px;background:linear-gradient(90deg,#3effc1 0.5px,#33ffcc 21.5px,#29ffd6 27.5px,#15ffea 28.5px,#0afff5 29.5px,#00f9ff 62.5px,#00e1ff 75.5px,#00afff 86.5px,#0083ff 93.5px,#0054fc 94.5px,#0000e2 95.5px,#0000c3 96.5px,#0000b0 97.5px,#0000ae 107.5px,#0000c4 110.5px,#0001fc 114.5px,#0037ff 118.5px,#0090ff 124.5px,#00f6ff 133.5px,#09fff6 135.5px,#36ffc9 136.5px,#56ffa9 137.5px,#a5ff5a 141.5px,#ecff13 144.5px,#fef801 145.5px,#ff9200 149.5px,#ff8c00 150.5px,#ff9a00 151.5px,#ffca00 153.5px,#fff900 157.5px,#f1ff0e 160.5px,#ccff33 171.5px,#9eff61 196.5px,#87ff78 231.5px,#87ff78 234.5px)"></div><div class="hr" style="top:127px;height:1px;background:linear-gradient(90deg,#3dffc2 0.5px,#31ffce 21.5px,#29ffd6 26.5px,#14ffeb 27.5px,#0afff5 28.5px,#00f9ff 61.5px,#00dfff 75.5px,#00adff 86.5px,#0082ff 93.5px,#0053fc 94.5px,#0000df 95.5px,#0000c1 96.5px,#0000af 97.5px,#0000ad 107.5px,#0000c5 110.5px,#0001fc 114.5px,#0038ff 118.5px,#0090ff 124.5px,#00f6ff 133.5px,#09fff6 135.5px,#36ffc9 136.5px,#57ffa8 137.5px,#a7ff58 141.5px,#edff12 144.5px,#fff700 145.5px,#ff9100 149.5px,#ff8d00 150.5px,#ff9c00 151.5px,#ffcc00 153.5px,#fffa00 157.5px,#ecff13 161.5px,#c6ff39 173.5px,#9eff61 196.5px,#87ff78 231.5px,#87ff78 234.5px)"></div><div class="hr" style="top:128px;height:1px;background:linear-gradient(90deg,#3dffc2 0.5px,#31ffce 20.5px,#25ffda 25.5px,#0efff1 26.5px,#00feff 51.5px,#00edff 69.5px,#00cbff 80.5px,#0082ff 93.5px,#0053fb 94.5px,#0000dc 95.5px,#0000be 96.5px,#0000ae 97.5px,#0000ad 107.5px,#0000c5 110.5px,#0001fc 114.5px,#0038ff 118.5px,#0090ff 124.5px,#00f6ff 133.5px,#0afff5 135.5px,#37ffc8 136.5px,#58ffa7 137.5px,#a8ff57 141.5px,#efff10 144.5px,#fff600 145.5px,#ff9100 149.5px,#ff8e00 150.5px,#ff9e00 151.5px,#ffce00 153.5px,#fffb00 157.5px,#d5ff2a 167.5px,#9fff60 194.5px,#86ff79 230.5px,#86ff79 234.5px)"></div><div class="hr" style="top:129px;height:1px;background:linear-gradient(90deg,#3cffc3 0.5px,#2fffd0 20.5px,#29ffd6 23.5px,#0efff1 25.5px,#00fdff 50.5px,#00ecff 69.5px,#00c5ff 81.5px,#0081ff 93.5px,#0037f9 94.5px,#0000d9 95.5px,#0000bc 96.5px,#0000ad 97.5px,#0000ad 107.5px,#0000c5 110.5px,#0001fd 114.5px,#0049ff 119.5px,#009dff 125.5px,#00f7ff 133.5px,#0afff5 135.5px,#43ffbc 136.5px,#c0ff3f 142.5px,#f0ff0f 144.5px,#fff400 145.5px,#ff9100 149.5px,#ff8f00 150.5px,#ffa000 151.5px,#ffd000 153.5px,#fffc00 157.5px,#d7ff28 166.5px,#9fff60 194.5px,#86ff79 230.5px,#85ff7a 234.5px)"></div><div class="hr" style="top:130px;height:1px;background:linear-gradient(90deg,#3bffc4 0.5px,#2dffd2 20.5px,#29ffd6 22.5px,#0afff5 24.5px,#00faff 57.5px,#00e3ff 72.5px,#00b4ff 84.5px,#0081ff 93.5px,#002af6 94.5px,#0000d6 95.5px,#0000ba 96.5px,#0000ac 97.5px,#0000ad 107.5px,#0000c5 110.5px,#0001fd 114.5px,#0049ff 119.5px,#009dff 125.5px,#00f7ff 133.5px,#0afff5 135.5px,#4affb5 136.5px,#94ff6b 140.5px,#f1ff0e 144.5px,#fff300 145.5px,#ff9100 149.5px,#ff9100 150.5px,#ffd100 153.5px,#fffd00 157.5px,#d6ff29 166.5px,#9eff61 194.5px,#85ff7a 230.5px,#85ff7a 234.5px)"></div><div class="hr" style="top:131px;height:1px;background:linear-gradient(90deg,#3affc5 0.5px,#2bffd4 20.5px,#25ffda 21.5px,#0afff5 23.5px,#00faff 55.5px,#00e5ff 71.5px,#00b8ff 83.5px,#0080ff 93.5px,#0029f5 94.5px,#0000d4 95.5px,#0000b8 96.5px,#0000ab 97.5px,#0000ac 107.5px,#0000c6 110.5px,#0001fd 114.5px,#0091ff 124.5px,#00f8ff 133.5px,#0bfff4 135.5px,#4bffb4 136.5px,#96ff69 140.5px,#f3ff0c 144.5px,#fff200 145.5px,#ffa500 148.5px,#ff9100 149.5px,#ff9200 150.5px,#ffd300 153.5px,#fefe01 157.5px,#d9ff26 165.5px,#a1ff5e 191.5px,#85ff7a 228.5px,#84ff7b 234.5px)"></div><div class="hr" style="top:132px;height:1px;background:linear-gradient(90deg,#39ffc6 0.5px,#2affd5 19.5px,#22ffdd 20.5px,#0efff1 21.5px,#00feff 44.5px,#00eeff 66.5px,#00cdff 78.5px,#007fff 93.5px,#0029f3 94.5px,#0000d1 95.5px,#0000b6 96.5px,#0000ab 97.5px,#0000ac 107.5px,#0000c6 110.5px,#0002fd 114.5px,#0091ff 124.5px,#00f8ff 133.5px,#0bfff4 135.5px,#4cffb3 136.5px,#97ff68 140.5px,#f4ff0b 144.5px,#fff000 145.5px,#ffa400 148.5px,#ff9100 149.5px,#ff9300 150.5px,#ffd500 153.5px,#fefe01 157.5px,#d8ff27 165.5px,#a0ff5f 191.5px,#85ff7a 228.5px,#84ff7b 234.5px)"></div><div class="hr" style="top:133px;height:1px;background:linear-gradient(90deg,#39ffc6 0.5px,#2affd5 18.5px,#0afff5 20.5px,#00fbff 51.5px,#00e9ff 68.5px,#00c3ff 80.5px,#007fff 93.5px,#001bf0 94.5px,#0000ce 95.5px,#0000b4 96.5px,#0000aa 97.5px,#0000ac 107.5px,#0000c6 110.5px,#0002fe 114.5px,#0091ff 124.5px,#00f9ff 133.5px,#0cfff3 135.5px,#4cffb3 136.5px,#98ff67 140.5px,#f5ff0a 144.5px,#ffef00 145.5px,#ffa300 148.5px,#ff9200 149.5px,#ff9500 150.5px,#ffd600 153.5px,#fdff02 157.5px,#d7ff28 165.5px,#a0ff5f 191.5px,#84ff7b 228.5px,#83ff7c 234.5px)"></div><div class="hr" style="top:134px;height:1px;background:linear-gradient(90deg,#38ffc7 0.5px,#25ffda 17.5px,#0afff5 19.5px,#00fbff 50.5px,#00e8ff 68.5px,#00beff 81.5px,#007eff 93.5px,#0000ed 94.5px,#0000b2 96.5px,#0000aa 97.5px,#0000ac 107.5px,#0000c6 110.5px,#0002fe 114.5px,#0090ff 124.5px,#00f9ff 133.5px,#0cfff3 135.5px,#4dffb2 136.5px,#99ff66 140.5px,#f6ff09 144.5px,#ffee00 145.5px,#ffa300 148.5px,#ff9200 149.5px,#ff9600 150.5px,#ffd800 153.5px,#fdff02 157.5px,#d7ff28 165.5px,#9fff60 191.5px,#83ff7c 228.5px,#83ff7c 234.5px)"></div><div class="hr" style="top:135px;height:1px;background:linear-gradient(90deg,#37ffc8 0.5px,#29ffd6 15.5px,#22ffdd 16.5px,#0efff1 17.5px,#00feff 39.5px,#00eeff 64.5px,#00cdff 77.5px,#0083ff 92.5px,#007eff 93.5px,#0000ea 94.5px,#0000c9 95.5px,#0000b0 96.5px,#0000a9 98.5px,#0000ab 107.5px,#0000c7 110.5px,#0003fe 114.5px,#0090ff 124.5px,#00faff 133.5px,#0cfff3 135.5px,#4effb1 136.5px,#9aff65 140.5px,#f7ff08 144.5px,#ffed00 145.5px,#ffa200 148.5px,#ff9300 149.5px,#ff9800 150.5px,#ffd900 153.5px,#fffa00 156.5px,#eaff15 160.5px,#c3ff3c 172.5px,#99ff66 196.5px,#82ff7d 231.5px,#82ff7d 234.5px)"></div><div class="hr" style="top:136px;height:1px;background:linear-gradient(90deg,#36ffc9 0.5px,#29ffd6 14.5px,#0afff5 16.5px,#00fcff 45.5px,#00eaff 66.5px,#00c4ff 79.5px,#007dff 93.5px,#0000e7 94.5px,#0000c6 95.5px,#0000af 96.5px,#0000a9 99.5px,#0000ab 107.5px,#0000c7 110.5px,#0003fe 114.5px,#0090ff 124.5px,#00faff 133.5px,#0cfff3 135.5px,#4effb1 136.5px,#9bff64 140.5px,#f7fe08 144.5px,#ffd300 146.5px,#ffa200 148.5px,#ff9300 149.5px,#ff9900 150.5px,#ffda00 153.5px,#fffb00 156.5px,#d5ff2a 165.5px,#9eff61 191.5px,#82ff7d 228.5px,#81ff7e 234.5px)"></div><div class="hr" style="top:137px;height:1px;background:linear-gradient(90deg,#35ffca 0.5px,#25ffda 13.5px,#0efff1 14.5px,#00feff 34.5px,#00eeff 63.5px,#00ceff 76.5px,#0088ff 91.5px,#007dff 93.5px,#0000e4 94.5px,#0000c3 95.5px,#0000ad 96.5px,#0000a8 102.5px,#0000ab 107.5px,#0000c7 110.5px,#0003fe 114.5px,#0090ff 124.5px,#00faff 133.5px,#0dfff2 135.5px,#4fffb0 136.5px,#b2ff4d 141.5px,#f8fe07 144.5px,#ffd200 146.5px,#ffa100 148.5px,#ff9400 149.5px,#ff9b00 150.5px,#ffca00 152.5px,#ffe800 154.5px,#fffc00 156.5px,#d8ff27 164.5px,#a4ff5b 187.5px,#84ff7b 222.5px,#81ff7e 234.5px)"></div><div class="hr" style="top:138px;height:1px;background:linear-gradient(90deg,#34ffcb 0.5px,#29ffd6 11.5px,#0afff5 13.5px,#00fcff 40.5px,#00ecff 64.5px,#00c9ff 77.5px,#0082ff 92.5px,#0061fd 93.5px,#0000e1 94.5px,#0000c1 95.5px,#0000ac 96.5px,#0000ab 107.5px,#0000c7 110.5px,#0003fe 114.5px,#0090ff 124.5px,#00fbff 133.5px,#05fffa 134.5px,#19ffe6 135.5px,#50ffaf 136.5px,#b3ff4c 141.5px,#f9fe06 144.5px,#ffd100 146.5px,#ffa100 148.5px,#ff9400 149.5px,#ff9c00 150.5px,#ffcc00 152.5px,#fff400 155.5px,#f9ff06 157.5px,#d4ff2b 165.5px,#9dff62 191.5px,#81ff7e 228.5px,#80ff7f 234.5px)"></div><div class="hr" style="top:139px;height:1px;background:linear-gradient(90deg,#33ffcc 0.5px,#29ffd6 9.5px,#22ffdd 10.5px,#0efff1 11.5px,#00feff 30.5px,#00efff 61.5px,#00d0ff 75.5px,#008cff 90.5px,#0081ff 92.5px,#0053fc 93.5px,#0000de 94.5px,#0000be 95.5px,#0000aa 96.5px,#0000ab 107.5px,#0000c8 110.5px,#0004fe 114.5px,#0090ff 124.5px,#00fbff 133.5px,#05fffa 134.5px,#1fffe0 135.5px,#51ffae 136.5px,#b4ff4b 141.5px,#f9fd06 144.5px,#ffb800 147.5px,#ffa100 148.5px,#ff9500 149.5px,#ff9e00 150.5px,#ffce00 152.5px,#fff500 155.5px,#f8ff07 157.5px,#d3ff2c 165.5px,#9dff62 191.5px,#81ff7e 228.5px,#80ff7f 234.5px)"></div><div class="hr" style="top:140px;height:1px;background:linear-gradient(90deg,#32ffcd 0.5px,#25ffda 8.5px,#0afff5 10.5px,#00fcff 35.5px,#00edff 62.5px,#00cbff 76.5px,#0081ff 92.5px,#0053fb 93.5px,#0000dc 94.5px,#0000bc 95.5px,#0000a9 96.5px,#0000aa 107.5px,#0000c8 110.5px,#0004ff 114.5px,#0090ff 124.5px,#00fcff 133.5px,#06fff9 134.5px,#20ffdf 135.5px,#51ffae 136.5px,#b5ff4a 141.5px,#fafd05 144.5px,#ffa000 148.5px,#ff9600 149.5px,#ff9f00 150.5px,#ffcf00 152.5px,#fff600 155.5px,#f7ff08 157.5px,#d2ff2d 165.5px,#9cff63 191.5px,#80ff7f 228.5px,#7fff80 234.5px)"></div><div class="hr" style="top:141px;height:1px;background:linear-gradient(90deg,#30ffcf 0.5px,#29ffd6 6.5px,#0efff1 8.5px,#00feff 26.5px,#00efff 60.5px,#00d1ff 74.5px,#0090ff 89.5px,#0080ff 92.5px,#0052fa 93.5px,#0000d9 94.5px,#0000b9 95.5px,#0000a8 96.5px,#0000aa 107.5px,#0000c8 110.5px,#0004ff 114.5px,#0090ff 124.5px,#00fcff 133.5px,#06fff9 134.5px,#20ffdf 135.5px,#52ffad 136.5px,#b6ff49 141.5px,#fbfd04 144.5px,#ffa000 148.5px,#ff9600 149.5px,#ffa100 150.5px,#ffd100 152.5px,#fff700 155.5px,#f6ff09 157.5px,#d2ff2d 165.5px,#9cff63 191.5px,#7fff80 228.5px,#7fff80 234.5px)"></div><div class="hr" style="top:142px;height:1px;background:linear-gradient(90deg,#2effd1 0.5px,#25ffda 5.5px,#11ffee 6.5px,#09fff6 8.5px,#00fcff 31.5px,#00edff 61.5px,#00cdff 75.5px,#0085ff 91.5px,#0080ff 92.5px,#0044f8 93.5px,#0000d6 94.5px,#0000b7 95.5px,#0000a7 96.5px,#0000aa 107.5px,#0000c8 110.5px,#0004ff 114.5px,#0090ff 124.5px,#00fcff 133.5px,#06fff9 134.5px,#20ffdf 135.5px,#53ffac 136.5px,#b7ff48 141.5px,#fcfc03 144.5px,#ffa000 148.5px,#ff9700 149.5px,#ffa300 150.5px,#ffd300 152.5px,#fff800 155.5px,#f5ff0a 157.5px,#d1ff2e 165.5px,#9bff64 191.5px,#7fff80 228.5px,#7eff81 234.5px)"></div><div class="hr" style="top:143px;height:1px;background:linear-gradient(90deg,#2dffd2 0.5px,#29ffd6 3.5px,#0afff5 5.5px,#00fcff 26.5px,#00edff 60.5px,#00cfff 74.5px,#008fff 89.5px,#007fff 92.5px,#0029f5 93.5px,#0000d3 94.5px,#0000b5 95.5px,#0000a7 96.5px,#0000aa 107.5px,#0000c9 110.5px,#0005ff 114.5px,#0090ff 124.5px,#00fcff 133.5px,#07fff8 134.5px,#21ffde 135.5px,#54ffab 136.5px,#b8ff47 141.5px,#fcfc03 144.5px,#ffa000 148.5px,#ff9800 149.5px,#ffa400 150.5px,#ffd400 152.5px,#fff900 155.5px,#eeff11 158.5px,#c8ff37 168.5px,#97ff68 194.5px,#7eff81 230.5px,#7eff81 234.5px)"></div><div class="hr" style="top:144px;height:1px;background:linear-gradient(90deg,#2bffd4 0.5px,#22ffdd 2.5px,#0efff1 3.5px,#00feff 18.5px,#00eeff 59.5px,#00d1ff 73.5px,#0093ff 88.5px,#007fff 92.5px,#0029f3 93.5px,#0000d0 94.5px,#0000b3 95.5px,#0000a6 96.5px,#0000aa 107.5px,#0000c9 110.5px,#0000f6 113.5px,#0005ff 114.5px,#008fff 124.5px,#00fdff 133.5px,#07fff8 134.5px,#21ffde 135.5px,#54ffab 136.5px,#cfff30 142.5px,#fcfb03 144.5px,#ffa000 148.5px,#ff9900 149.5px,#ffa600 150.5px,#ffd600 152.5px,#fffa00 155.5px,#e2ff1d 160.5px,#bbff44 173.5px,#95ff6a 196.5px,#7dff82 231.5px,#7dff82 234.5px)"></div><div class="hr" style="top:145px;height:1px;background:linear-gradient(90deg,#25ffda 0.5px,#0afff5 2.5px,#00fcff 21.5px,#00edff 59.5px,#00d1ff 73.5px,#0092ff 88.5px,#007eff 92.5px,#0029f1 93.5px,#0000cd 94.5px,#0000b0 95.5px,#0000a5 96.5px,#0000aa 107.5px,#0000c9 110.5px,#0000f6 113.5px,#0005ff 114.5px,#008fff 124.5px,#01fdfe 133.5px,#07fff8 134.5px,#21ffde 135.5px,#55ffaa 136.5px,#d0ff2f 142.5px,#fdfa02 144.5px,#ffa000 148.5px,#ff9a00 149.5px,#ffa800 150.5px,#ffd800 152.5px,#fffb00 155.5px,#d5ff2a 163.5px,#a9ff56 182.5px,#8dff72 203.5px,#7cff83 234.5px)"></div><div class="hr" style="top:146px;height:1px;background:linear-gradient(90deg,#0afff5 0.5px,#00fcff 17.5px,#00edff 58.5px,#00d0ff 73.5px,#0092ff 88.5px,#007eff 92.5px,#0029ef 93.5px,#0000ca 94.5px,#0000ae 95.5px,#0000a5 96.5px,#0000a9 107.5px,#0000ca 110.5px,#0000f7 113.5px,#0006ff 114.5px,#008fff 124.5px,#01fdfe 133.5px,#08fff7 134.5px,#22ffdd 135.5px,#56ffa9 136.5px,#d1ff2e 142.5px,#fdfa02 144.5px,#ffa000 148.5px,#ff9b00 149.5px,#ffaa00 150.5px,#ffd900 152.5px,#fffc00 155.5px,#d8ff27 162.5px,#b0ff4f 178.5px,#92ff6d 198.5px,#7cff83 232.5px,#7cff83 234.5px)"></div><div class="hr" style="top:147px;height:1px;background:linear-gradient(90deg,#08fff7 0.5px,#00fbff 16.5px,#00ecff 58.5px,#00cfff 73.5px,#0091ff 88.5px,#007dff 92.5px,#000eeb 93.5px,#0000c7 94.5px,#0000ad 95.5px,#0000a4 96.5px,#0000a5 106.5px,#0000bd 109.5px,#0000f7 113.5px,#0013ff 115.5px,#008fff 124.5px,#01fefe 133.5px,#08fff7 134.5px,#22ffdd 135.5px,#57ffa8 136.5px,#d2ff2d 142.5px,#fef901 144.5px,#ffb300 147.5px,#ffa000 148.5px,#ff9c00 149.5px,#ffab00 150.5px,#ffdb00 152.5px,#fefd01 155.5px,#d8ff27 162.5px,#b0ff4f 178.5px,#91ff6e 198.5px,#7bff84 232.5px,#7bff84 234.5px)"></div><div class="hr" style="top:148px;height:1px;background:linear-gradient(90deg,#06fff9 0.5px,#00f9ff 18.5px,#00ecff 57.5px,#00d1ff 72.5px,#0096ff 87.5px,#007dff 92.5px,#0000e7 93.5px,#0000c5 94.5px,#0000ab 95.5px,#0000a4 97.5px,#0000a5 106.5px,#0000bd 109.5px,#0000f7 113.5px,#0014ff 115.5px,#008fff 124.5px,#01fefe 133.5px,#08fff7 134.5px,#23ffdc 135.5px,#57ffa8 136.5px,#d2ff2d 142.5px,#fef801 144.5px,#ffb200 147.5px,#ffa000 148.5px,#ff9d00 149.5px,#ffad00 150.5px,#ffdc00 152.5px,#fefe01 155.5px,#dbff24 161.5px,#b3ff4c 176.5px,#91ff6e 197.5px,#7bff84 231.5px,#7bff84 234.5px)"></div><div class="hr" style="top:149px;height:1px;background:linear-gradient(90deg,#04fffb 0.5px,#00f0ff 52.5px,#00d8ff 69.5px,#00a3ff 84.5px,#007dff 92.5px,#0000e4 93.5px,#0000c2 94.5px,#0000a9 95.5px,#0000a3 98.5px,#0000a4 106.5px,#0000bd 109.5px,#0000f8 113.5px,#0014ff 115.5px,#009bff 125.5px,#01fefe 133.5px,#09fff6 134.5px,#35ffca 135.5px,#58ffa7 136.5px,#d3ff2c 142.5px,#fef701 144.5px,#ffb100 147.5px,#ffa000 148.5px,#ff9e00 149.5px,#ffaf00 150.5px,#ffde00 152.5px,#fefe01 155.5px,#daff25 161.5px,#b2ff4d 176.5px,#91ff6e 197.5px,#7aff85 231.5px,#7aff85 234.5px)"></div><div class="hr" style="top:150px;height:1px;background:linear-gradient(90deg,#03fffc 0.5px,#00eaff 58.5px,#00ccff 73.5px,#008bff 89.5px,#007cff 92.5px,#0000e1 93.5px,#0000bf 94.5px,#0000a8 95.5px,#0000a3 102.5px,#0000a9 107.5px,#0000cb 110.5px,#0000f8 113.5px,#0014ff 115.5px,#009bff 125.5px,#01fefe 133.5px,#09fff6 134.5px,#36ffc9 135.5px,#59ffa6 136.5px,#d4ff2b 142.5px,#ecff13 143.5px,#fff700 144.5px,#ffb100 147.5px,#ffa100 148.5px,#ff9f00 149.5px,#ffdf00 152.5px,#fdff02 155.5px,#d9ff26 161.5px,#b2ff4d 176.5px,#8fff70 198.5px,#7aff85 232.5px,#7aff85 234.5px)"></div><div class="hr" style="top:151px;height:1px;background:linear-gradient(90deg,#01fffe 0.5px,#00e9ff 58.5px,#00ccff 73.5px,#008bff 89.5px,#007cff 92.5px,#0000de 93.5px,#0000bc 94.5px,#0000a6 95.5px,#0000a4 106.5px,#0000bd 109.5px,#0000f9 113.5px,#0015ff 115.5px,#009bff 125.5px,#02fefd 133.5px,#09fff6 134.5px,#36ffc9 135.5px,#5affa5 136.5px,#d5ff2a 142.5px,#edff12 143.5px,#fff600 144.5px,#ffb000 147.5px,#ffa100 148.5px,#ffa100 149.5px,#ffe000 152.5px,#fcff03 155.5px,#d9ff26 161.5px,#b1ff4e 176.5px,#8fff70 198.5px,#79ff86 232.5px,#79ff86 234.5px)"></div><div class="hr" style="top:152px;height:1px;background:linear-gradient(90deg,#00ffff 0.5px,#00f3ff 32.5px,#00e6ff 60.5px,#00c5ff 75.5px,#0081ff 91.5px,#0053fb 92.5px,#0000db 93.5px,#0000ba 94.5px,#0000a5 95.5px,#0000a4 106.5px,#0000be 109.5px,#0000f9 113.5px,#0023ff 116.5px,#009bff 125.5px,#02fefd 133.5px,#0afff5 134.5px,#37ffc8 135.5px,#5bffa4 136.5px,#d6ff29 142.5px,#eeff11 143.5px,#fff500 144.5px,#ffb000 147.5px,#ffa100 148.5px,#ffa200 149.5px,#ffe200 152.5px,#fbff04 155.5px,#d8ff27 161.5px,#b0ff4f 176.5px,#8eff71 198.5px,#79ff86 232.5px,#78ff87 234.5px)"></div><div class="hr" style="top:153px;height:1px;background:linear-gradient(90deg,#00feff 0.5px,#00f3ff 29.5px,#00e7ff 58.5px,#00caff 73.5px,#008aff 89.5px,#0080ff 91.5px,#0053fa 92.5px,#0000d8 93.5px,#0000b7 94.5px,#0000a4 95.5px,#0000a3 106.5px,#0000be 109.5px,#0000fa 113.5px,#0023ff 116.5px,#009bff 125.5px,#02fffd 133.5px,#0afff5 134.5px,#37ffc8 135.5px,#5bffa4 136.5px,#d7ff28 142.5px,#efff10 143.5px,#fff400 144.5px,#ffb000 147.5px,#ffa100 148.5px,#ffa300 149.5px,#ffe300 152.5px,#fffa00 154.5px,#e0ff1f 159.5px,#b7ff48 172.5px,#90ff6f 196.5px,#78ff87 231.5px,#78ff87 234.5px)"></div><div class="hr" style="top:154px;height:1px;background:linear-gradient(90deg,#00feff 0.5px,#00f2ff 28.5px,#00e6ff 58.5px,#00c9ff 73.5px,#008aff 89.5px,#0080ff 91.5px,#0053f9 92.5px,#0000d5 93.5px,#0000b5 94.5px,#0000a3 95.5px,#0000a3 106.5px,#0000be 109.5px,#0000fa 113.5px,#0031ff 117.5px,#00f7ff 132.5px,#0afff5 134.5px,#38ffc7 135.5px,#5cffa3 136.5px,#d8ff27 142.5px,#f0ff0f 143.5px,#fff300 144.5px,#ffaf00 147.5px,#ffa200 148.5px,#ffa400 149.5px,#ffe400 152.5px,#fffb00 154.5px,#d6ff29 161.5px,#adff52 177.5px,#8dff72 198.5px,#77ff88 232.5px,#77ff88 234.5px)"></div><div class="hr" style="top:155px;height:1px;background:linear-gradient(90deg,#00fdff 0.5px,#00f1ff 28.5px,#00e5ff 58.5px,#00c5ff 74.5px,#0085ff 90.5px,#0080ff 91.5px,#0052f8 92.5px,#0000d2 93.5px,#0000b2 94.5px,#0000a2 95.5px,#0000a3 106.5px,#0000be 109.5px,#0000fa 113.5px,#0040ff 118.5px,#00f7ff 132.5px,#0afff5 134.5px,#38ffc7 135.5px,#5dffa2 136.5px,#d9ff26 142.5px,#f1ff0e 143.5px,#fff200 144.5px,#ffc200 146.5px,#ffa200 148.5px,#ffa600 149.5px,#ffe600 152.5px,#fffc00 154.5px,#daff25 160.5px,#b2ff4d 174.5px,#8eff71 197.5px,#77ff88 231.5px,#77ff88 234.5px)"></div><div class="hr" style="top:156px;height:1px;background:linear-gradient(90deg,#00fcff 0.5px,#00f0ff 28.5px,#00e4ff 58.5px,#00c4ff 74.5px,#0084ff 90.5px,#0080ff 91.5px,#0037f5 92.5px,#0000d0 93.5px,#0000b0 94.5px,#0000a1 95.5px,#0000a2 106.5px,#0000bf 109.5px,#0000fb 113.5px,#0075ff 122.5px,#00eaff 131.5px,#03fffc 133.5px,#0bfff4 134.5px,#39ffc6 135.5px,#5effa1 136.5px,#d9ff26 142.5px,#f2ff0d 143.5px,#fff000 144.5px,#ffc100 146.5px,#ffa300 148.5px,#ffa700 149.5px,#ffd600 151.5px,#fefd01 154.5px,#d9ff26 160.5px,#b0ff4f 175.5px,#8cff73 198.5px,#76ff89 232.5px,#76ff89 234.5px)"></div><div class="hr" style="top:157px;height:1px;background:linear-gradient(90deg,#00fcff 0.5px,#00efff 28.5px,#00e3ff 58.5px,#00c4ff 74.5px,#0089ff 89.5px,#007fff 91.5px,#0029f2 92.5px,#0000cd 93.5px,#0000ae 94.5px,#0000a1 95.5px,#0000a2 106.5px,#0000bf 109.5px,#0000fb 113.5px,#00dbff 130.5px,#00f8ff 132.5px,#0bfff4 134.5px,#3affc5 135.5px,#5fffa0 136.5px,#daff25 142.5px,#f3ff0c 143.5px,#ffef00 144.5px,#ffc000 146.5px,#ffa300 148.5px,#ffa900 149.5px,#ffd800 151.5px,#fefe01 154.5px,#d8ff27 160.5px,#afff50 175.5px,#8cff73 198.5px,#76ff89 232.5px,#76ff89 234.5px)"></div><div class="hr" style="top:158px;height:1px;background:linear-gradient(90deg,#00fbff 0.5px,#00eeff 28.5px,#00e2ff 58.5px,#00c3ff 74.5px,#0089ff 89.5px,#007fff 91.5px,#0029f0 92.5px,#0000ca 93.5px,#0000ab 94.5px,#0000a0 95.5px,#0000a2 106.5px,#0000bf 109.5px,#0000fb 113.5px,#00dbff 130.5px,#00f8ff 132.5px,#0bfff4 134.5px,#3affc5 135.5px,#60ff9f 136.5px,#dbff24 142.5px,#f4ff0b 143.5px,#ffee00 144.5px,#ffc000 146.5px,#ffa400 148.5px,#ffaa00 149.5px,#ffda00 151.5px,#fdfe02 154.5px,#dcff23 159.5px,#b4ff4b 172.5px,#8dff72 196.5px,#75ff8a 231.5px,#75ff8a 234.5px)"></div><div class="hr" style="top:159px;height:1px;background:linear-gradient(90deg,#00fbff 0.5px,#00edff 29.5px,#00e0ff 59.5px,#00bfff 75.5px,#0083ff 90.5px,#007eff 91.5px,#0029ee 92.5px,#0000c7 93.5px,#0000a9 94.5px,#00009f 95.5px,#0000a2 106.5px,#0000bf 109.5px,#0001fb 113.5px,#00dcff 130.5px,#00f9ff 132.5px,#0bfff4 134.5px,#41ffbe 135.5px,#61ff9e 136.5px,#dcff23 142.5px,#f5ff0a 143.5px,#ffed00 144.5px,#ffbf00 146.5px,#ffa400 148.5px,#ffac00 149.5px,#ffdc00 151.5px,#fdff02 154.5px,#dbff24 159.5px,#b4ff4b 172.5px,#8dff72 196.5px,#75ff8a 231.5px,#74ff8b 234.5px)"></div><div class="hr" style="top:160px;height:1px;background:linear-gradient(90deg,#00fbff 0.5px,#00edff 29.5px,#00dfff 59.5px,#00beff 75.5px,#0083ff 90.5px,#007eff 91.5px,#0029ec 92.5px,#0000c4 93.5px,#0000a8 94.5px,#00009f 95.5px,#0000a2 106.5px,#0000c0 109.5px,#0001fc 113.5px,#00dcff 130.5px,#00f9ff 132.5px,#0cfff3 134.5px,#4effb1 135.5px,#ddff22 142.5px,#f6ff09 143.5px,#ffec00 144.5px,#ffbf00 146.5px,#ffa500 148.5px,#ffad00 149.5px,#ffdd00 151.5px,#fcff03 154.5px,#daff25 159.5px,#b3ff4c 172.5px,#8cff73 196.5px,#74ff8b 231.5px,#74ff8b 234.5px)"></div><div class="hr" style="top:161px;height:1px;background:linear-gradient(90deg,#00faff 0.5px,#00ecff 30.5px,#00deff 59.5px,#00bdff 75.5px,#007dff 91.5px,#0000e5 92.5px,#0000c1 93.5px,#0000a6 94.5px,#00009f 96.5px,#0000a1 106.5px,#0000c0 109.5px,#0001fc 113.5px,#00ddff 130.5px,#00faff 132.5px,#0cfff3 134.5px,#4fffb0 135.5px,#deff21 142.5px,#f7fe08 143.5px,#ffeb00 144.5px,#ffbe00 146.5px,#ffa600 148.5px,#ffaf00 149.5px,#ffdf00 151.5px,#fff900 153.5px,#f2ff0d 155.5px,#cdff32 162.5px,#a3ff5c 180.5px,#85ff7a 203.5px,#73ff8c 234.5px)"></div><div class="hr" style="top:162px;height:1px;background:linear-gradient(90deg,#00faff 0.5px,#00ebff 30.5px,#00ddff 59.5px,#00bcff 75.5px,#007dff 91.5px,#0000e2 92.5px,#0000be 93.5px,#0000a4 94.5px,#00009e 97.5px,#0000a1 106.5px,#0000c0 109.5px,#0001fc 113.5px,#00ddff 130.5px,#00faff 132.5px,#0cfff3 134.5px,#50ffaf 135.5px,#dfff20 142.5px,#f7fe08 143.5px,#ffd000 145.5px,#ffae00 147.5px,#ffa700 148.5px,#ffb100 149.5px,#ffe000 151.5px,#fffa00 153.5px,#e3ff1c 157.5px,#beff41 167.5px,#8eff71 193.5px,#73ff8c 229.5px,#73ff8c 234.5px)"></div><div class="hr" style="top:163px;height:1px;background:linear-gradient(90deg,#00faff 0.5px,#00eaff 31.5px,#00dcff 59.5px,#00bbff 75.5px,#007cff 91.5px,#0000e0 92.5px,#0000bb 93.5px,#0000a3 94.5px,#00009e 99.5px,#0000a1 106.5px,#0000c0 109.5px,#0001fc 113.5px,#00ceff 129.5px,#00fbff 132.5px,#0cfff3 134.5px,#50ffaf 135.5px,#e0ff1f 142.5px,#f8fe07 143.5px,#ffcf00 145.5px,#ffae00 147.5px,#ffa700 148.5px,#ffb200 149.5px,#ffe200 151.5px,#fffb00 153.5px,#d8ff27 159.5px,#afff50 173.5px,#89ff76 197.5px,#72ff8d 231.5px,#72ff8d 234.5px)"></div><div class="hr" style="top:164px;height:1px;background:linear-gradient(90deg,#00faff 0.5px,#00e9ff 31.5px,#00daff 60.5px,#00b8ff 76.5px,#007bff 91.5px,#0000dd 92.5px,#0000b9 93.5px,#0000a1 94.5px,#0000a1 106.5px,#0000c1 109.5px,#0001fd 113.5px,#00ceff 129.5px,#00fbff 132.5px,#0dfff2 134.5px,#51ffae 135.5px,#e0ff1f 142.5px,#f9fd06 143.5px,#ffce00 145.5px,#ffae00 147.5px,#ffa800 148.5px,#ffb400 149.5px,#ffe400 151.5px,#fffc00 153.5px,#d7ff28 159.5px,#aeff51 173.5px,#89ff76 197.5px,#72ff8d 231.5px,#72ff8d 234.5px)"></div><div class="hr" style="top:165px;height:1px;background:linear-gradient(90deg,#00faff 0.5px,#00e8ff 32.5px,#00d9ff 60.5px,#00b7ff 76.5px,#0080ff 90.5px,#006dfd 91.5px,#0000da 92.5px,#0000b6 93.5px,#0000a0 94.5px,#0000a1 106.5px,#0000c1 109.5px,#0001fd 113.5px,#00ceff 129.5px,#00fcff 132.5px,#0dfff2 134.5px,#52ffad 135.5px,#e1ff1e 142.5px,#fafd05 143.5px,#ffcd00 145.5px,#ffae00 147.5px,#ffa900 148.5px,#ffb600 149.5px,#ffe500 151.5px,#fefd01 153.5px,#d6ff29 159.5px,#aeff51 173.5px,#88ff77 197.5px,#71ff8e 231.5px,#71ff8e 234.5px)"></div><div class="hr" style="top:166px;height:1px;background:linear-gradient(90deg,#00f9ff 0.5px,#00e7ff 33.5px,#00d8ff 60.5px,#00b6ff 76.5px,#007fff 90.5px,#0052fa 91.5px,#0000d7 92.5px,#0000b3 93.5px,#00009f 94.5px,#0000a1 106.5px,#0000c1 109.5px,#0001fd 113.5px,#00ceff 129.5px,#00fcff 132.5px,#0dfff2 134.5px,#53ffac 135.5px,#e2ff1d 142.5px,#fafd05 143.5px,#ffcc00 145.5px,#ffae00 147.5px,#ffaa00 148.5px,#ffb800 149.5px,#ffe600 151.5px,#fefe01 153.5px,#daff25 158.5px,#b3ff4c 170.5px,#8aff75 195.5px,#71ff8e 230.5px,#70ff8f 234.5px)"></div><div class="hr" style="top:167px;height:1px;background:linear-gradient(90deg,#00f9ff 0.5px,#00e6ff 33.5px,#00d7ff 60.5px,#00b2ff 77.5px,#007eff 90.5px,#0052f9 91.5px,#0000d3 92.5px,#0000b1 93.5px,#00009e 94.5px,#0000a0 106.5px,#0000c2 109.5px,#0001fd 113.5px,#00cfff 129.5px,#00fcff 132.5px,#0dfff2 134.5px,#53ffac 135.5px,#e3ff1c 142.5px,#fbfc04 143.5px,#ffcb00 145.5px,#ffae00 147.5px,#ffab00 148.5px,#ffb900 149.5px,#ffe800 151.5px,#fdfe02 153.5px,#d9ff26 158.5px,#b3ff4c 170.5px,#89ff76 195.5px,#70ff8f 230.5px,#70ff8f 234.5px)"></div><div class="hr" style="top:168px;height:1px;background:linear-gradient(90deg,#00f9ff 0.5px,#00e5ff 34.5px,#00d5ff 61.5px,#00b1ff 77.5px,#007eff 90.5px,#0051f8 91.5px,#0000d0 92.5px,#0000ae 93.5px,#00009d 94.5px,#00009c 105.5px,#0000b4 108.5px,#0002fe 113.5px,#00cfff 129.5px,#00fdff 132.5px,#0dfff2 134.5px,#54ffab 135.5px,#e4ff1b 142.5px,#fcfc03 143.5px,#ffca00 145.5px,#ffaf00 147.5px,#ffac00 148.5px,#ffbb00 149.5px,#ffe900 151.5px,#fdfe02 153.5px,#d9ff26 158.5px,#b0ff4f 171.5px,#88ff77 196.5px,#70ff8f 231.5px,#6fff90 234.5px)"></div><div class="hr" style="top:169px;height:1px;background:linear-gradient(90deg,#00f9ff 0.5px,#00e4ff 34.5px,#00d4ff 61.5px,#00b0ff 77.5px,#007dff 90.5px,#0051f7 91.5px,#0000cd 92.5px,#0000ac 93.5px,#00009c 94.5px,#00009c 105.5px,#0000b4 108.5px,#0002fe 113.5px,#00cfff 129.5px,#01fdfe 132.5px,#0efff1 134.5px,#55ffaa 135.5px,#e5ff1a 142.5px,#fcfb03 143.5px,#ffc900 145.5px,#ffaf00 147.5px,#ffad00 148.5px,#ffbd00 149.5px,#ffeb00 151.5px,#fcff03 153.5px,#d8ff27 158.5px,#afff50 171.5px,#87ff78 196.5px,#6fff90 231.5px,#6fff90 234.5px)"></div><div class="hr" style="top:170px;height:1px;background:linear-gradient(90deg,#00f9ff 0.5px,#00e3ff 35.5px,#00d3ff 61.5px,#00b0ff 77.5px,#007cff 90.5px,#0036f3 91.5px,#0000ca 92.5px,#0000a9 93.5px,#00009b 94.5px,#00009b 105.5px,#0000b4 108.5px,#0002fe 113.5px,#00d0ff 129.5px,#01fdfe 132.5px,#08fff7 133.5px,#1affe5 134.5px,#56ffa9 135.5px,#e6ff19 142.5px,#fdfa02 143.5px,#ffc900 145.5px,#ffaf00 147.5px,#ffae00 148.5px,#ffbf00 149.5px,#ffec00 151.5px,#fbff04 153.5px,#d7ff28 158.5px,#afff50 171.5px,#87ff78 196.5px,#6eff91 231.5px,#6eff91 234.5px)"></div><div class="hr" style="top:171px;height:1px;background:linear-gradient(90deg,#00f9ff 0.5px,#00e2ff 35.5px,#00d2ff 61.5px,#00acff 78.5px,#007bff 90.5px,#0028ef 91.5px,#0000c7 92.5px,#0000a7 93.5px,#00009b 94.5px,#00009b 105.5px,#0000b5 108.5px,#0002fe 113.5px,#00d0ff 129.5px,#01fdfe 132.5px,#08fff7 133.5px,#21ffde 134.5px,#57ffa8 135.5px,#e7ff18 142.5px,#fdf902 143.5px,#ffc800 145.5px,#ffb000 147.5px,#ffaf00 148.5px,#ffc100 149.5px,#ffed00 151.5px,#faff05 153.5px,#d6ff29 158.5px,#aeff51 171.5px,#86ff79 196.5px,#6eff91 231.5px,#6eff91 234.5px)"></div><div class="hr" style="top:172px;height:1px;background:linear-gradient(90deg,#00f9ff 0.5px,#00e1ff 35.5px,#00d1ff 61.5px,#00abff 78.5px,#007bff 90.5px,#0028ed 91.5px,#0000c4 92.5px,#0000a5 93.5px,#00009a 94.5px,#00009b 105.5px,#0000b5 108.5px,#0003fe 113.5px,#00c1ff 128.5px,#01fefe 132.5px,#08fff7 133.5px,#21ffde 134.5px,#58ffa7 135.5px,#e8ff17 142.5px,#fdf902 143.5px,#ffc700 145.5px,#ffb000 147.5px,#ffb000 148.5px,#ffef00 151.5px,#f9ff06 153.5px,#d5ff2a 158.5px,#adff52 171.5px,#86ff79 196.5px,#6dff92 231.5px,#6dff92 234.5px)"></div><div class="hr" style="top:173px;height:1px;background:linear-gradient(90deg,#00f9ff 0.5px,#00e0ff 36.5px,#00d0ff 61.5px,#00aaff 78.5px,#007aff 90.5px,#0028eb 91.5px,#0000c1 92.5px,#0000a3 93.5px,#00009a 94.5px,#00009b 105.5px,#0000b5 108.5px,#0003fe 113.5px,#00c1ff 128.5px,#00f3ff 131.5px,#01fefe 132.5px,#08fff7 133.5px,#22ffdd 134.5px,#59ffa6 135.5px,#e9ff16 142.5px,#fef801 143.5px,#ffc600 145.5px,#ffb000 147.5px,#ffb100 148.5px,#fff000 151.5px,#fffc00 152.5px,#d5ff2a 158.5px,#adff52 171.5px,#85ff7a 196.5px,#6dff92 231.5px,#6dff92 234.5px)"></div><div class="hr" style="top:174px;height:1px;background:linear-gradient(90deg,#00f8ff 0.5px,#00dfff 36.5px,#00ceff 62.5px,#00aaff 78.5px,#0079ff 90.5px,#0027e9 91.5px,#0000be 92.5px,#0000a1 93.5px,#000099 95.5px,#00009a 105.5px,#0000b5 108.5px,#0003fe 113.5px,#00c1ff 128.5px,#00f4ff 131.5px,#01fefe 132.5px,#09fff6 133.5px,#22ffdd 134.5px,#59ffa6 135.5px,#eaff15 142.5px,#fef701 143.5px,#ffc600 145.5px,#ffb100 147.5px,#ffb300 148.5px,#ffe100 150.5px,#fefc01 152.5px,#d4ff2b 158.5px,#acff53 171.5px,#85ff7a 196.5px,#6cff93 231.5px,#6cff93 234.5px)"></div><div class="hr" style="top:175px;height:1px;background:linear-gradient(90deg,#00f8ff 0.5px,#00deff 36.5px,#00cdff 62.5px,#00a9ff 78.5px,#0078ff 90.5px,#0000e1 91.5px,#0000bb 92.5px,#00009f 93.5px,#000099 95.5px,#00009a 105.5px,#0000b5 108.5px,#0003fe 113.5px,#00c1ff 128.5px,#00f4ff 131.5px,#02fefd 132.5px,#09fff6 133.5px,#23ffdc 134.5px,#5affa5 135.5px,#ebff14 142.5px,#fef601 143.5px,#ffc500 145.5px,#ffb100 147.5px,#ffb400 148.5px,#ffe200 150.5px,#fefd01 152.5px,#d8ff27 157.5px,#b0ff4f 169.5px,#86ff79 194.5px,#6cff93 230.5px,#6bff94 234.5px)"></div><div class="hr" style="top:176px;height:1px;background:linear-gradient(90deg,#00f8ff 0.5px,#00ddff 36.5px,#00ccff 62.5px,#00a8ff 78.5px,#0078ff 90.5px,#0000de 91.5px,#0000b8 92.5px,#00009e 93.5px,#000098 97.5px,#00009a 105.5px,#0000b6 108.5px,#0000f4 112.5px,#0003ff 113.5px,#00c1ff 128.5px,#00f5ff 131.5px,#02fefd 132.5px,#09fff6 133.5px,#23ffdc 134.5px,#5bffa4 135.5px,#ecff13 142.5px,#fff500 143.5px,#ffd800 144.5px,#ffc400 145.5px,#ffb200 147.5px,#ffb500 148.5px,#ffe400 150.5px,#fefe01 152.5px,#d7ff28 157.5px,#afff50 169.5px,#86ff79 194.5px,#6bff94 230.5px,#6bff94 234.5px)"></div><div class="hr" style="top:177px;height:1px;background:linear-gradient(90deg,#00f8ff 0.5px,#00dcff 37.5px,#00ccff 62.5px,#00a8ff 78.5px,#0077ff 90.5px,#0000db 91.5px,#0000b5 92.5px,#00009c 93.5px,#000099 105.5px,#0000b6 108.5px,#0000f4 112.5px,#0004ff 113.5px,#00c2ff 128.5px,#00f5ff 131.5px,#02fffd 132.5px,#0afff5 133.5px,#23ffdc 134.5px,#5cffa3 135.5px,#edff12 142.5px,#fff400 143.5px,#ffd700 144.5px,#ffc300 145.5px,#ffb200 147.5px,#ffb700 148.5px,#ffe600 150.5px,#fdfe02 152.5px,#d6ff29 157.5px,#afff50 169.5px,#85ff7a 194.5px,#6bff94 230.5px,#6aff95 234.5px)"></div><div class="hr" style="top:178px;height:1px;background:linear-gradient(90deg,#00f7ff 0.5px,#00dbff 37.5px,#00cbff 62.5px,#00a7ff 78.5px,#0076ff 90.5px,#0000d8 91.5px,#0000b2 92.5px,#00009b 93.5px,#000099 105.5px,#0000b6 108.5px,#0000f5 112.5px,#0004ff 113.5px,#00c2ff 128.5px,#00f6ff 131.5px,#02fffd 132.5px,#0afff5 133.5px,#24ffdb 134.5px,#5dffa2 135.5px,#eeff11 142.5px,#fff300 143.5px,#ffd600 144.5px,#ffc300 145.5px,#ffb300 147.5px,#ffb800 148.5px,#ffe800 150.5px,#fcff03 152.5px,#d5ff2a 157.5px,#aeff51 169.5px,#85ff7a 194.5px,#6aff95 230.5px,#6aff95 234.5px)"></div><div class="hr" style="top:179px;height:1px;background:linear-gradient(90deg,#00f7ff 0.5px,#00daff 37.5px,#00caff 62.5px,#00a6ff 78.5px,#0075ff 90.5px,#0000d5 91.5px,#0000af 92.5px,#00009a 93.5px,#000099 105.5px,#0000b6 108.5px,#0000f5 112.5px,#0004ff 113.5px,#00c2ff 128.5px,#00f6ff 131.5px,#03fffc 132.5px,#0afff5 133.5px,#24ffdb 134.5px,#5effa1 135.5px,#efff10 142.5px,#fff200 143.5px,#ffd500 144.5px,#ffc200 145.5px,#ffb400 147.5px,#ffba00 148.5px,#ffe900 150.5px,#fbff04 152.5px,#d4ff2b 157.5px,#adff52 169.5px,#84ff7b 194.5px,#6aff95 230.5px,#69ff96 234.5px)"></div><div class="hr" style="top:180px;height:1px;background:linear-gradient(90deg,#00f6ff 0.5px,#00daff 37.5px,#00c9ff 62.5px,#00a6ff 78.5px,#0079ff 89.5px,#004ef9 90.5px,#0000d2 91.5px,#0000ad 92.5px,#000098 93.5px,#000099 105.5px,#0000b7 108.5px,#0000f5 112.5px,#0004ff 113.5px,#00c2ff 128.5px,#00f7ff 131.5px,#0afff5 133.5px,#24ffdb 134.5px,#5fffa0 135.5px,#efff10 142.5px,#fff000 143.5px,#ffd400 144.5px,#ffc200 145.5px,#ffb400 147.5px,#ffbb00 148.5px,#ffeb00 150.5px,#faff05 152.5px,#d4ff2b 157.5px,#adff52 169.5px,#84ff7b 194.5px,#69ff96 230.5px,#69ff96 234.5px)"></div><div class="hr" style="top:181px;height:1px;background:linear-gradient(90deg,#00f6ff 0.5px,#00d9ff 37.5px,#00c9ff 62.5px,#00a5ff 78.5px,#0079ff 89.5px,#004ef8 90.5px,#0000cf 91.5px,#0000aa 92.5px,#000098 93.5px,#000098 105.5px,#0000b7 108.5px,#0000f6 112.5px,#0004ff 113.5px,#00b3ff 127.5px,#00f7ff 131.5px,#0afff5 133.5px,#2bffd4 134.5px,#5fffa0 135.5px,#f0ff0f 142.5px,#ffef00 143.5px,#ffd300 144.5px,#ffc100 145.5px,#ffb500 147.5px,#ffbd00 148.5px,#ffec00 150.5px,#fffa00 151.5px,#dfff20 155.5px,#b9ff46 164.5px,#8aff75 188.5px,#69ff96 228.5px,#68ff97 234.5px)"></div><div class="hr" style="top:182px;height:1px;background:linear-gradient(90deg,#00f5ff 0.5px,#00d8ff 37.5px,#00c7ff 63.5px,#00a1ff 79.5px,#0078ff 89.5px,#004df7 90.5px,#0000cb 91.5px,#0000a7 92.5px,#000097 93.5px,#000098 105.5px,#0000b7 108.5px,#0000f6 112.5px,#0005ff 113.5px,#00b4ff 127.5px,#00f8ff 131.5px,#0bfff4 133.5px,#60ff9f 135.5px,#f1ff0e 142.5px,#ffee00 143.5px,#ffd200 144.5px,#ffc100 145.5px,#ffb600 147.5px,#ffbe00 148.5px,#ffee00 150.5px,#fffb00 151.5px,#d2ff2d 157.5px,#abff54 169.5px,#82ff7d 194.5px,#68ff97 231.5px,#67ff98 234.5px)"></div><div class="hr" style="top:183px;height:1px;background:linear-gradient(90deg,#00f4ff 0.5px,#00d7ff 38.5px,#00c6ff 63.5px,#00a1ff 79.5px,#0077ff 89.5px,#004df6 90.5px,#0000c8 91.5px,#0000a5 92.5px,#000096 93.5px,#000098 105.5px,#0000b7 108.5px,#0000f7 112.5px,#0005ff 113.5px,#00b4ff 127.5px,#00f8ff 131.5px,#0bfff4 133.5px,#61ff9e 135.5px,#daff25 141.5px,#f2ff0d 142.5px,#ffed00 143.5px,#ffd100 144.5px,#ffc100 145.5px,#ffb600 147.5px,#ffc000 148.5px,#ffef00 150.5px,#fffc00 151.5px,#d1ff2e 157.5px,#abff54 169.5px,#82ff7d 194.5px,#67ff98 231.5px,#67ff98 234.5px)"></div><div class="hr" style="top:184px;height:1px;background:linear-gradient(90deg,#00f4ff 0.5px,#00d7ff 38.5px,#00c5ff 63.5px,#00a1ff 79.5px,#0076ff 89.5px,#0040f2 90.5px,#0000c5 91.5px,#0000a3 92.5px,#000095 93.5px,#000098 105.5px,#0000b8 108.5px,#0000f7 112.5px,#0005ff 113.5px,#00b4ff 127.5px,#00f9ff 131.5px,#0bfff4 133.5px,#62ff9d 135.5px,#daff25 141.5px,#f3ff0c 142.5px,#ffec00 143.5px,#ffd000 144.5px,#ffc000 145.5px,#ffb700 147.5px,#ffc100 148.5px,#fff000 150.5px,#fefd01 151.5px,#d6ff29 156.5px,#afff50 167.5px,#83ff7c 192.5px,#67ff98 230.5px,#66ff99 234.5px)"></div><div class="hr" style="top:185px;height:1px;background:linear-gradient(90deg,#00f3ff 0.5px,#00d6ff 38.5px,#00c5ff 63.5px,#00a0ff 79.5px,#0076ff 89.5px,#0026ec 90.5px,#0000c2 91.5px,#0000a0 92.5px,#000095 93.5px,#000098 105.5px,#0000b8 108.5px,#0000f7 112.5px,#0012ff 114.5px,#00b4ff 127.5px,#00f9ff 131.5px,#0bfff4 133.5px,#63ff9c 135.5px,#dbff24 141.5px,#f4ff0b 142.5px,#ffea00 143.5px,#ffce00 144.5px,#ffc000 145.5px,#ffb800 147.5px,#ffc300 148.5px,#fff200 150.5px,#fefd01 151.5px,#d5ff2a 156.5px,#aeff51 167.5px,#83ff7c 192.5px,#66ff99 230.5px,#66ff99 234.5px)"></div><div class="hr" style="top:186px;height:1px;background:linear-gradient(90deg,#00f2ff 0.5px,#00d5ff 38.5px,#00c4ff 63.5px,#00a0ff 79.5px,#0075ff 89.5px,#0026ea 90.5px,#0000be 91.5px,#00009e 92.5px,#000094 93.5px,#000097 105.5px,#0000b8 108.5px,#0000f8 112.5px,#0012ff 114.5px,#00b4ff 127.5px,#00faff 131.5px,#0cfff3 133.5px,#64ff9b 135.5px,#dcff23 141.5px,#f5ff0a 142.5px,#ffe900 143.5px,#ffcd00 144.5px,#ffc000 145.5px,#ffb900 147.5px,#ffc500 148.5px,#fff300 150.5px,#fdfe02 151.5px,#d4ff2b 156.5px,#aeff51 167.5px,#82ff7d 192.5px,#66ff99 230.5px,#65ff9a 234.5px)"></div><div class="hr" style="top:187px;height:1px;background:linear-gradient(90deg,#00f1ff 0.5px,#00d5ff 38.5px,#00c3ff 63.5px,#009fff 79.5px,#0074ff 89.5px,#0025e8 90.5px,#0000bb 91.5px,#00009c 92.5px,#000094 93.5px,#000097 105.5px,#0000b8 108.5px,#0000f8 112.5px,#0012ff 114.5px,#00b4ff 127.5px,#00faff 131.5px,#0cfff3 133.5px,#65ff9a 135.5px,#ddff22 141.5px,#f6fe09 142.5px,#ffe800 143.5px,#ffcc00 144.5px,#ffbf00 145.5px,#ffba00 147.5px,#ffc600 148.5px,#fff400 150.5px,#fdfe02 151.5px,#d3ff2c 156.5px,#adff52 167.5px,#82ff7d 192.5px,#65ff9a 230.5px,#65ff9a 234.5px)"></div><div class="hr" style="top:188px;height:1px;background:linear-gradient(90deg,#00f1ff 0.5px,#00d4ff 38.5px,#00c3ff 63.5px,#009fff 79.5px,#0073ff 89.5px,#0025e6 90.5px,#0000b8 91.5px,#00009a 92.5px,#000093 94.5px,#000097 105.5px,#0000b9 108.5px,#0000f8 112.5px,#0012ff 114.5px,#00a6ff 126.5px,#00fbff 131.5px,#0cfff3 133.5px,#65ff9a 135.5px,#ddff22 141.5px,#f7fe08 142.5px,#ffe600 143.5px,#ffcb00 144.5px,#ffbf00 145.5px,#ffbb00 147.5px,#ffc800 148.5px,#fff600 150.5px,#fcff03 151.5px,#d2ff2d 156.5px,#acff53 167.5px,#81ff7e 192.5px,#65ff9a 231.5px,#64ff9b 234.5px)"></div><div class="hr" style="top:189px;height:1px;background:linear-gradient(90deg,#00f0ff 0.5px,#00d3ff 38.5px,#00c2ff 63.5px,#009eff 79.5px,#0072ff 89.5px,#000cdf 90.5px,#0000b5 91.5px,#000099 92.5px,#000093 95.5px,#000097 105.5px,#0000b9 108.5px,#0000f9 112.5px,#0013ff 114.5px,#00a6ff 126.5px,#00fbff 131.5px,#0cfff3 133.5px,#66ff99 135.5px,#deff21 141.5px,#f7fe08 142.5px,#ffca00 144.5px,#ffbc00 146.5px,#ffbb00 147.5px,#ffca00 148.5px,#fff700 150.5px,#fbff04 151.5px,#d1ff2e 156.5px,#acff53 167.5px,#82ff7d 191.5px,#64ff9b 230.5px,#63ff9c 234.5px)"></div><div class="hr" style="top:190px;height:1px;background:linear-gradient(90deg,#00efff 0.5px,#00d3ff 38.5px,#00c2ff 63.5px,#009aff 80.5px,#0071ff 89.5px,#0000da 90.5px,#0000b2 91.5px,#000097 92.5px,#000093 102.5px,#000097 105.5px,#0000b9 108.5px,#0000f9 112.5px,#001eff 115.5px,#00a6ff 126.5px,#00fcff 131.5px,#0cfff3 133.5px,#67ff98 135.5px,#dfff20 141.5px,#f8fd07 142.5px,#ffc900 144.5px,#ffbc00 146.5px,#ffbc00 147.5px,#ffcc00 148.5px,#ffe600 149.5px,#fff800 150.5px,#efff10 152.5px,#ccff33 157.5px,#a4ff5b 170.5px,#7dff82 195.5px,#63ff9c 232.5px,#63ff9c 234.5px)"></div><div class="hr" style="top:191px;height:1px;background:linear-gradient(90deg,#00eeff 0.5px,#00d2ff 38.5px,#00c1ff 63.5px,#009aff 80.5px,#0070ff 89.5px,#0000d7 90.5px,#0000af 91.5px,#000096 92.5px,#000093 104.5px,#00009f 106.5px,#0000f9 112.5px,#001fff 115.5px,#00a6ff 126.5px,#00fcff 131.5px,#0dfff2 133.5px,#68ff97 135.5px,#e0ff1f 141.5px,#f9fd06 142.5px,#ffc800 144.5px,#ffbd00 146.5px,#ffbd00 147.5px,#ffce00 148.5px,#ffe800 149.5px,#fff900 150.5px,#e5ff1a 153.5px,#c2ff3d 159.5px,#97ff68 176.5px,#74ff8b 204.5px,#62ff9d 234.5px)"></div><div class="hr" style="top:192px;height:1px;background:linear-gradient(90deg,#00edff 0.5px,#00d1ff 38.5px,#00c0ff 63.5px,#0099ff 80.5px,#006fff 89.5px,#0000d4 90.5px,#0000ac 91.5px,#000094 92.5px,#000092 104.5px,#00009f 106.5px,#0000fa 112.5px,#002aff 116.5px,#00a6ff 126.5px,#00fcff 131.5px,#0dfff2 133.5px,#69ff96 135.5px,#e0ff1f 141.5px,#f9fc06 142.5px,#ffc700 144.5px,#ffbd00 146.5px,#ffbe00 147.5px,#ffcf00 148.5px,#ffea00 149.5px,#fffb00 150.5px,#cfff30 156.5px,#aaff55 167.5px,#80ff7f 191.5px,#62ff9d 231.5px,#62ff9d 234.5px)"></div><div class="hr" style="top:193px;height:1px;background:linear-gradient(90deg,#00edff 0.5px,#00d0ff 38.5px,#00c0ff 63.5px,#0099ff 80.5px,#006eff 89.5px,#0000d0 90.5px,#0000a9 91.5px,#000093 92.5px,#000092 104.5px,#00009f 106.5px,#0000fa 112.5px,#0035ff 117.5px,#00a6ff 126.5px,#00fdff 131.5px,#0dfff2 133.5px,#6aff95 135.5px,#e1ff1e 141.5px,#fafc05 142.5px,#ffc600 144.5px,#ffbe00 146.5px,#ffbf00 147.5px,#ffd100 148.5px,#ffec00 149.5px,#fffc00 150.5px,#ceff31 156.5px,#a9ff56 167.5px,#80ff7f 191.5px,#62ff9d 231.5px,#61ff9e 234.5px)"></div><div class="hr" style="top:194px;height:1px;background:linear-gradient(90deg,#00ecff 0.5px,#00cfff 39.5px,#00bdff 64.5px,#0095ff 81.5px,#0073ff 88.5px,#0049f7 89.5px,#0000cd 90.5px,#0000a6 91.5px,#000092 92.5px,#000092 104.5px,#00009f 106.5px,#0000fa 112.5px,#004dff 119.5px,#00b5ff 127.5px,#00efff 130.5px,#01fdfe 131.5px,#0dfff2 133.5px,#53ffac 134.5px,#a7ff58 138.5px,#e2ff1d 141.5px,#fbfb04 142.5px,#ffc500 144.5px,#ffbf00 146.5px,#ffc100 147.5px,#ffed00 149.5px,#fefc01 150.5px,#d3ff2c 155.5px,#adff52 165.5px,#82ff7d 188.5px,#62ff9d 230.5px,#61ff9e 234.5px)"></div><div class="hr" style="top:195px;height:1px;background:linear-gradient(90deg,#00ebff 0.5px,#00cfff 39.5px,#00bdff 64.5px,#0091ff 82.5px,#0072ff 88.5px,#0048f6 89.5px,#0000ca 90.5px,#0000a3 91.5px,#000091 92.5px,#000091 104.5px,#00009f 106.5px,#0000fb 112.5px,#007eff 123.5px,#00b6ff 127.5px,#00f0ff 130.5px,#01fdfe 131.5px,#0dfff2 133.5px,#54ffab 134.5px,#a8ff57 138.5px,#e3ff1c 141.5px,#fbfb04 142.5px,#ffc500 144.5px,#ffbf00 146.5px,#ffc200 147.5px,#ffef00 149.5px,#fefd01 150.5px,#d2ff2d 155.5px,#adff52 165.5px,#82ff7d 188.5px,#61ff9e 230.5px,#60ff9f 234.5px)"></div><div class="hr" style="top:196px;height:1px;background:linear-gradient(90deg,#00eaff 0.5px,#00ceff 39.5px,#00bcff 64.5px,#0090ff 82.5px,#0071ff 88.5px,#0047f5 89.5px,#0000c6 90.5px,#0000a1 91.5px,#000091 92.5px,#000091 104.5px,#00009f 106.5px,#0000fb 112.5px,#007eff 123.5px,#00b6ff 127.5px,#00f1ff 130.5px,#01fdfe 131.5px,#0dfff2 133.5px,#55ffaa 134.5px,#a9ff56 138.5px,#e4ff1b 141.5px,#fcfa03 142.5px,#ffc400 144.5px,#ffc000 146.5px,#ffc300 147.5px,#fff100 149.5px,#fdfe02 150.5px,#d1ff2e 155.5px,#acff53 165.5px,#81ff7e 188.5px,#60ff9f 230.5px,#60ff9f 234.5px)"></div><div class="hr" style="top:197px;height:1px;background:linear-gradient(90deg,#00e9ff 0.5px,#00cdff 39.5px,#00bbff 64.5px,#008bff 83.5px,#006fff 88.5px,#0046f4 89.5px,#0000c3 90.5px,#00009e 91.5px,#000090 92.5px,#000091 104.5px,#0000ac 107.5px,#0000fb 112.5px,#007eff 123.5px,#00b6ff 127.5px,#00f1ff 130.5px,#01fefe 131.5px,#0efff1 133.5px,#56ffa9 134.5px,#aaff55 138.5px,#e4ff1b 141.5px,#fcf903 142.5px,#ffc300 144.5px,#ffc000 146.5px,#ffc400 147.5px,#fff200 149.5px,#fdfe02 150.5px,#d0ff2f 155.5px,#abff54 165.5px,#81ff7e 188.5px,#60ff9f 230.5px,#5fffa0 234.5px)"></div><div class="hr" style="top:198px;height:1px;background:linear-gradient(90deg,#00e8ff 0.5px,#00ccff 39.5px,#00baff 64.5px,#008aff 83.5px,#006eff 88.5px,#003af1 89.5px,#0000bf 90.5px,#00009c 91.5px,#00008f 92.5px,#000090 104.5px,#0000ac 107.5px,#0000fb 112.5px,#0071ff 122.5px,#00b7ff 127.5px,#00f2ff 130.5px,#01fefe 131.5px,#0efff1 133.5px,#57ffa8 134.5px,#aaff55 138.5px,#e5ff1a 141.5px,#fdf902 142.5px,#ffda00 143.5px,#ffc300 144.5px,#ffc000 146.5px,#ffc600 147.5px,#fff400 149.5px,#fcff03 150.5px,#d0ff2f 155.5px,#abff54 165.5px,#80ff7f 188.5px,#5fffa0 230.5px,#5effa1 234.5px)"></div><div class="hr" style="top:199px;height:1px;background:linear-gradient(90deg,#00e7ff 0.5px,#00cbff 39.5px,#00baff 64.5px,#0089ff 83.5px,#006cff 88.5px,#0022ea 89.5px,#0000bc 90.5px,#00009a 91.5px,#00008f 92.5px,#000090 104.5px,#0000ad 107.5px,#0000fc 112.5px,#0071ff 122.5px,#00b7ff 127.5px,#00f3ff 130.5px,#01fefe 131.5px,#0efff1 133.5px,#57ffa8 134.5px,#99ff66 137.5px,#e6ff19 141.5px,#fdf802 142.5px,#ffd900 143.5px,#ffc200 144.5px,#ffc100 146.5px,#ffc700 147.5px,#fff500 149.5px,#fbff04 150.5px,#cfff30 155.5px,#aaff55 165.5px,#80ff7f 188.5px,#5fffa0 230.5px,#5effa1 234.5px)"></div><div class="hr" style="top:200px;height:1px;background:linear-gradient(90deg,#00e6ff 0.5px,#00caff 39.5px,#00b9ff 64.5px,#008bff 82.5px,#006aff 88.5px,#0022e8 89.5px,#0000b9 90.5px,#000098 91.5px,#00008e 92.5px,#000090 104.5px,#0000ad 107.5px,#0000fc 112.5px,#0071ff 122.5px,#00b7ff 127.5px,#00f3ff 130.5px,#01fefe 131.5px,#0efff1 133.5px,#58ffa7 134.5px,#9aff65 137.5px,#e7ff18 141.5px,#fdf702 142.5px,#ffd800 143.5px,#ffc200 144.5px,#ffc100 146.5px,#ffc900 147.5px,#fff700 149.5px,#faff05 150.5px,#ceff31 155.5px,#a9ff56 165.5px,#7fff80 188.5px,#5effa1 231.5px,#5dffa2 234.5px)"></div><div class="hr" style="top:201px;height:1px;background:linear-gradient(90deg,#00e6ff 0.5px,#00c9ff 40.5px,#00b8ff 64.5px,#0089ff 82.5px,#0068ff 88.5px,#0021e6 89.5px,#0000b7 90.5px,#000096 91.5px,#00008e 93.5px,#00008f 104.5px,#0000ad 107.5px,#0001fc 112.5px,#0070ff 122.5px,#00b8ff 127.5px,#00f4ff 130.5px,#02fefd 131.5px,#0efff1 133.5px,#59ffa6 134.5px,#9bff64 137.5px,#e8ff17 141.5px,#fef601 142.5px,#ffd600 143.5px,#ffc100 144.5px,#ffc200 146.5px,#ffcb00 147.5px,#fff800 149.5px,#edff12 151.5px,#c8ff37 156.5px,#a1ff5e 168.5px,#7cff83 191.5px,#5dffa2 232.5px,#5dffa2 234.5px)"></div><div class="hr" style="top:202px;height:1px;background:linear-gradient(90deg,#00e5ff 0.5px,#00c8ff 40.5px,#00b7ff 64.5px,#008bff 81.5px,#0067ff 88.5px,#0021e5 89.5px,#0000b4 90.5px,#000094 91.5px,#00008e 93.5px,#00008f 104.5px,#0000ad 107.5px,#0001fc 112.5px,#0070ff 122.5px,#00b8ff 127.5px,#00f5ff 130.5px,#02fffd 131.5px,#0efff1 133.5px,#5affa5 134.5px,#9cff63 137.5px,#e9ff16 141.5px,#fef501 142.5px,#ffd500 143.5px,#ffc100 144.5px,#ffc300 146.5px,#ffcd00 147.5px,#fffa00 149.5px,#daff25 153.5px,#b6ff49 160.5px,#89ff76 180.5px,#61ff9e 222.5px,#5cffa3 234.5px)"></div><div class="hr" style="top:203px;height:1px;background:linear-gradient(90deg,#00e4ff 0.5px,#00c7ff 40.5px,#00b6ff 64.5px,#0089ff 81.5px,#0065ff 88.5px,#0020e3 89.5px,#0000b2 90.5px,#000093 91.5px,#00008d 94.5px,#00008f 104.5px,#0000ad 107.5px,#0001fc 112.5px,#0070ff 122.5px,#00b8ff 127.5px,#00f5ff 130.5px,#02fffd 131.5px,#0efff1 133.5px,#5bffa4 134.5px,#9dff62 137.5px,#eaff15 141.5px,#fff400 142.5px,#ffd400 143.5px,#ffc000 144.5px,#ffc300 146.5px,#ffce00 147.5px,#fffb00 149.5px,#cbff34 155.5px,#a7ff58 165.5px,#7fff80 187.5px,#5cffa3 231.5px,#5cffa3 234.5px)"></div><div class="hr" style="top:204px;height:1px;background:linear-gradient(90deg,#00e3ff 0.5px,#00c6ff 41.5px,#00b5ff 64.5px,#008bff 80.5px,#0063ff 88.5px,#0015df 89.5px,#0000af 90.5px,#000092 91.5px,#00008d 96.5px,#00008e 104.5px,#0000ad 107.5px,#0001fc 112.5px,#0070ff 122.5px,#00b9ff 127.5px,#00f6ff 130.5px,#02fffd 131.5px,#0efff1 133.5px,#5cffa3 134.5px,#9eff61 137.5px,#ebff14 141.5px,#fff300 142.5px,#ffd300 143.5px,#ffc000 144.5px,#ffc400 146.5px,#ffd000 147.5px,#fefc01 149.5px,#d0ff2f 154.5px,#acff53 163.5px,#81ff7e 185.5px,#5dffa2 229.5px,#5bffa4 234.5px)"></div><div class="hr" style="top:205px;height:1px;background:linear-gradient(90deg,#00e2ff 0.5px,#00c5ff 41.5px,#00b4ff 64.5px,#0089ff 80.5px,#0062ff 88.5px,#0000d7 89.5px,#0000ad 90.5px,#000090 91.5px,#00008e 104.5px,#0000ad 107.5px,#0001fc 112.5px,#0070ff 122.5px,#00b9ff 127.5px,#00f6ff 130.5px,#03fffc 131.5px,#0afff5 132.5px,#23ffdc 133.5px,#5effa1 134.5px,#9fff60 137.5px,#ecff13 141.5px,#fff200 142.5px,#ffd200 143.5px,#ffc000 144.5px,#ffc500 146.5px,#ffd200 147.5px,#fefd01 149.5px,#d0ff2f 154.5px,#abff54 163.5px,#80ff7f 185.5px,#5cffa3 229.5px,#5affa5 234.5px)"></div><div class="hr" style="top:206px;height:1px;background:linear-gradient(90deg,#00e1ff 0.5px,#00c4ff 42.5px,#00b1ff 65.5px,#0087ff 80.5px,#0060ff 88.5px,#0000d5 89.5px,#0000aa 90.5px,#00008f 91.5px,#00008e 104.5px,#0000ad 107.5px,#0001fd 112.5px,#0070ff 122.5px,#00baff 127.5px,#00f7ff 130.5px,#0afff5 132.5px,#23ffdc 133.5px,#5fffa0 134.5px,#a0ff5f 137.5px,#edff12 141.5px,#fff100 142.5px,#ffd100 143.5px,#ffbf00 144.5px,#ffc600 146.5px,#ffd400 147.5px,#ffed00 148.5px,#fdfe02 149.5px,#cfff30 154.5px,#aaff55 163.5px,#81ff7e 184.5px,#5bffa4 229.5px,#5affa5 234.5px)"></div><div class="hr" style="top:207px;height:1px;background:linear-gradient(90deg,#00e0ff 0.5px,#00c3ff 42.5px,#00b0ff 65.5px,#0085ff 80.5px,#005fff 88.5px,#0000d2 89.5px,#0000a8 90.5px,#00008e 91.5px,#00008e 104.5px,#0000ae 107.5px,#0001fd 112.5px,#0063ff 121.5px,#00a8ff 126.5px,#00f8ff 130.5px,#0afff5 132.5px,#24ffdb 133.5px,#60ff9f 134.5px,#a0ff5f 137.5px,#eeff11 141.5px,#fff000 142.5px,#ffd000 143.5px,#ffbf00 144.5px,#ffc700 146.5px,#ffd600 147.5px,#ffef00 148.5px,#fcfe03 149.5px,#ceff31 154.5px,#aaff55 163.5px,#80ff7f 184.5px,#5bffa4 229.5px,#59ffa6 234.5px)"></div><div class="hr" style="top:208px;height:1px;background:linear-gradient(90deg,#00dfff 0.5px,#00c2ff 42.5px,#00afff 65.5px,#0083ff 80.5px,#005dff 88.5px,#0000d0 89.5px,#0000a5 90.5px,#00008d 91.5px,#00008d 104.5px,#0000ae 107.5px,#0001fd 112.5px,#0063ff 121.5px,#00a9ff 126.5px,#00f8ff 130.5px,#0bfff4 132.5px,#24ffdb 133.5px,#61ff9e 134.5px,#a1ff5e 137.5px,#efff10 141.5px,#ffee00 142.5px,#ffcf00 143.5px,#ffbe00 144.5px,#ffc800 146.5px,#ffd900 147.5px,#fff100 148.5px,#fbff04 149.5px,#cdff32 154.5px,#a9ff56 163.5px,#80ff7f 184.5px,#5affa5 229.5px,#59ffa6 234.5px)"></div><div class="hr" style="top:209px;height:1px;background:linear-gradient(90deg,#00dfff 0.5px,#00c0ff 43.5px,#00aeff 65.5px,#0082ff 80.5px,#005bff 88.5px,#0000cd 89.5px,#0000a3 90.5px,#00008d 91.5px,#00008d 104.5px,#0000ae 107.5px,#0001fd 112.5px,#0063ff 121.5px,#00a9ff 126.5px,#00f9ff 130.5px,#0bfff4 132.5px,#25ffda 133.5px,#62ff9d 134.5px,#a2ff5d 137.5px,#d9ff26 140.5px,#f0ff0f 141.5px,#ffed00 142.5px,#ffce00 143.5px,#ffbe00 144.5px,#ffc900 146.5px,#fff300 148.5px,#fbff04 149.5px,#ccff33 154.5px,#a8ff57 163.5px,#7fff80 184.5px,#59ffa6 230.5px,#58ffa7 234.5px)"></div><div class="hr" style="top:210px;height:1px;background:linear-gradient(90deg,#00deff 0.5px,#00bfff 43.5px,#00acff 65.5px,#0084ff 79.5px,#005aff 88.5px,#0000cb 89.5px,#0000a1 90.5px,#00008c 91.5px,#00008d 104.5px,#0000ae 107.5px,#0001fd 112.5px,#0063ff 121.5px,#00a9ff 126.5px,#00f9ff 130.5px,#0bfff4 132.5px,#25ffda 133.5px,#63ff9c 134.5px,#a3ff5c 137.5px,#daff25 140.5px,#f1ff0e 141.5px,#ffec00 142.5px,#ffcd00 143.5px,#ffbe00 144.5px,#ffca00 146.5px,#fff500 148.5px,#f9ff06 149.5px,#cbff34 154.5px,#a5ff5a 164.5px,#7dff82 185.5px,#59ffa6 231.5px,#58ffa7 234.5px)"></div><div class="hr" style="top:211px;height:1px;background:linear-gradient(90deg,#00ddff 0.5px,#00beff 44.5px,#00abff 65.5px,#0082ff 79.5px,#005dff 87.5px,#0045f9 88.5px,#0000c8 89.5px,#00009e 90.5px,#00008c 91.5px,#00008d 104.5px,#0000ae 107.5px,#0001fd 112.5px,#0063ff 121.5px,#00a9ff 126.5px,#00faff 130.5px,#0bfff4 132.5px,#25ffda 133.5px,#64ff9b 134.5px,#a4ff5b 137.5px,#dbff24 140.5px,#f3ff0c 141.5px,#ffea00 142.5px,#ffcc00 143.5px,#ffbe00 144.5px,#ffcc00 146.5px,#fff700 148.5px,#f8ff07 149.5px,#caff35 154.5px,#a4ff5b 164.5px,#7dff82 185.5px,#58ffa7 231.5px,#57ffa8 234.5px)"></div></div><div class="cb" style="left:281.2px;top:1.9px;width:17.3px;height:212.6px;background:linear-gradient(180deg,#8b0000 0.00%,#8f0000 1.56%,#9f0000 3.12%,#af0000 4.69%,#bf0000 6.25%,#cf0000 7.81%,#df0000 9.38%,#ef0000 10.94%,#ff0000 12.50%,#ff1000 14.06%,#ff2000 15.62%,#ff3000 17.19%,#ff4000 18.75%,#ff5000 20.31%,#ff6000 21.88%,#ff7000 23.44%,#ff8000 25.00%,#ff8f00 26.56%,#ff9f00 28.12%,#ffaf00 29.69%,#ffbf00 31.25%,#ffcf00 32.81%,#ffdf00 34.38%,#ffef00 35.94%,#ffff00 37.50%,#efff10 39.06%,#dfff20 40.62%,#cfff30 42.19%,#bfff40 43.75%,#afff50 45.31%,#9fff60 46.88%,#8fff70 48.44%,#80ff80 50.00%,#70ff8f 51.56%,#60ff9f 53.12%,#50ffaf 54.69%,#40ffbf 56.25%,#30ffcf 57.81%,#20ffdf 59.38%,#10ffef 60.94%,#00ffff 62.50%,#00efff 64.06%,#00dfff 65.62%,#00cfff 67.19%,#00bfff 68.75%,#00afff 70.31%,#009fff 71.88%,#008fff 73.44%,#0080ff 75.00%,#0070ff 76.56%,#0060ff 78.12%,#0050ff 79.69%,#0040ff 81.25%,#0030ff 82.81%,#0020ff 84.38%,#0010ff 85.94%,#0000ff 87.50%,#0000ef 89.06%,#0000df 90.62%,#0000cf 92.19%,#0000bf 93.75%,#0000af 95.31%,#00009f 96.88%,#00008f 98.44%,#00008b 100.00%)"></div><div class="cb" style="left:637.3px;top:2.2px;width:17.3px;height:212.3px;background:linear-gradient(180deg,#8b0000 0.00%,#8f0000 1.56%,#9f0000 3.12%,#af0000 4.69%,#bf0000 6.25%,#cf0000 7.81%,#df0000 9.38%,#ef0000 10.94%,#ff0000 12.50%,#ff1000 14.06%,#ff2000 15.62%,#ff3000 17.19%,#ff4000 18.75%,#ff5000 20.31%,#ff6000 21.88%,#ff7000 23.44%,#ff8000 25.00%,#ff8f00 26.56%,#ff9f00 28.12%,#ffaf00 29.69%,#ffbf00 31.25%,#ffcf00 32.81%,#ffdf00 34.38%,#ffef00 35.94%,#ffff00 37.50%,#efff10 39.06%,#dfff20 40.62%,#cfff30 42.19%,#bfff40 43.75%,#afff50 45.31%,#9fff60 46.88%,#8fff70 48.44%,#80ff80 50.00%,#70ff8f 51.56%,#60ff9f 53.12%,#50ffaf 54.69%,#40ffbf 56.25%,#30ffcf 57.81%,#20ffdf 59.38%,#10ffef 60.94%,#00ffff 62.50%,#00efff 64.06%,#00dfff 65.62%,#00cfff 67.19%,#00bfff 68.75%,#00afff 70.31%,#009fff 71.88%,#008fff 73.44%,#0080ff 75.00%,#0070ff 76.56%,#0060ff 78.12%,#0050ff 79.69%,#0040ff 81.25%,#0030ff 82.81%,#0020ff 84.38%,#0010ff 85.94%,#0000ff 87.50%,#0000ef 89.06%,#0000df 90.62%,#0000cf 92.19%,#0000bf 93.75%,#0000af 95.31%,#00009f 96.88%,#00008f 98.44%,#00008b 100.00%)"></div><svg class="ov" width="685" height="240" viewBox="0 0 685 240"><polyline points="169.0,214.5 174.0,180.0 180.0,140.0 182.8,120.0 185.0,100.0 186.0,90.0 188.7,70.0 191.4,45.0 193.3,22.0 194.0,45.0 193.8,70.0 194.0,90.0 194.3,100.0 195.3,110.0 196.8,120.0 197.5,125.0 198.7,130.0 200.0,135.0 202.5,140.0 205.3,145.0 208.0,150.0 211.7,155.0 215.0,159.4 216.2,163.0 219.4,163.0 220.6,167.5 223.8,167.5 225.0,170.4 228.2,170.4 229.4,173.2 232.6,173.2 233.8,175.5 237.0,175.5 238.2,177.7 241.4,177.7 242.6,179.9 245.8,179.9 247.0,181.5 250.2,181.5 251.4,182.5 254.6,182.5 255.8,183.5 259.0,183.5 260.2,185.2 263.4,185.2 264.6,185.9 267.8,185.9 269.0,185.9 271.5,185.9" fill="none" stroke="#000" stroke-width="1.7" stroke-linejoin="round"/><polyline points="482.5,2.0 475.0,30.0 466.2,60.0 462.2,70.0 457.5,80.0 453.6,88.0 448.8,95.0 443.5,105.0 439.5,110.0 434.5,115.0 429.5,120.0 424.5,125.0 418.7,130.0 414.5,133.3 410.0,136.7 405.3,140.0 400.0,143.3 396.5,145.5 393.2,147.5 391.0,148.8" fill="none" stroke="#000" stroke-width="1.9" stroke-linejoin="round"/><polyline points="531.7,2.0 531.0,30.0 530.4,45.0 529.8,90.0 528.9,115.0 528.0,135.0 526.6,180.0 526.0,202.0 525.6,214.0" fill="none" stroke="#000" stroke-width="1.5" stroke-linejoin="round"/><path d="M183.3 108.5h6.4M186.4 105v7" stroke="#b8401a" stroke-opacity="0.8" stroke-width="0.8" fill="none"/><path d="M500.5 0v6.5" stroke="#e0304a" stroke-opacity="0.75" stroke-width="0.9" fill="none"/><rect x="35.5" y="1.9" width="235.5" height="212.6" fill="none" stroke="#000" stroke-opacity="0.3" stroke-width="0.8"/><path d="M35.5 214.5h2.4M271.0 214.5h-2.4M35.5 193.2h2.4M271.0 193.2h-2.4M35.5 172.0h2.4M271.0 172.0h-2.4M35.5 150.7h2.4M271.0 150.7h-2.4M35.5 129.5h2.4M271.0 129.5h-2.4M35.5 108.2h2.4M271.0 108.2h-2.4M35.5 86.9h2.4M271.0 86.9h-2.4M35.5 65.7h2.4M271.0 65.7h-2.4M35.5 44.4h2.4M271.0 44.4h-2.4M35.5 23.2h2.4M271.0 23.2h-2.4M35.5 1.9h2.4M271.0 1.9h-2.4M35.5 214.5v-2.4M35.5 1.9v2.4M153.2 214.5v-2.4M153.2 1.9v2.4M271.0 214.5v-2.4M271.0 1.9v2.4" stroke="#000" stroke-opacity="0.25" stroke-width="0.6" fill="none"/><rect x="391.9" y="2.2" width="235.1" height="212.3" fill="none" stroke="#000" stroke-opacity="0.3" stroke-width="0.8"/><path d="M391.9 214.5h2.4M627.0 214.5h-2.4M391.9 193.3h2.4M627.0 193.3h-2.4M391.9 172.0h2.4M627.0 172.0h-2.4M391.9 150.8h2.4M627.0 150.8h-2.4M391.9 129.6h2.4M627.0 129.6h-2.4M391.9 108.3h2.4M627.0 108.3h-2.4M391.9 87.1h2.4M627.0 87.1h-2.4M391.9 65.9h2.4M627.0 65.9h-2.4M391.9 44.7h2.4M627.0 44.7h-2.4M391.9 23.4h2.4M627.0 23.4h-2.4M391.9 2.2h2.4M627.0 2.2h-2.4M391.9 214.5v-2.4M391.9 2.2v2.4M509.4 214.5v-2.4M509.4 2.2v2.4M627.0 214.5v-2.4M627.0 2.2v2.4" stroke="#000" stroke-opacity="0.25" stroke-width="0.6" fill="none"/><rect x="281.2" y="1.9" width="17.3" height="212.6" fill="none" stroke="#000" stroke-opacity="0.35" stroke-width="0.7"/><rect x="637.3" y="2.2" width="17.3" height="212.3" fill="none" stroke="#000" stroke-opacity="0.35" stroke-width="0.7"/><path d="M298.3 214.6h-2.3M298.3 193.4h-2.3M298.3 172.3h-2.3M298.3 151.1h-2.3M298.3 130.0h-2.3M298.3 108.8h-2.3M298.3 87.6h-2.3M298.3 66.5h-2.3M298.3 45.3h-2.3M298.3 24.2h-2.3M298.3 3.0h-2.3" stroke="#000" stroke-opacity="0.6" stroke-width="0.8" fill="none"/><path d="M654.7 214.6h-2.3M654.7 193.4h-2.3M654.7 172.3h-2.3M654.7 151.1h-2.3M654.7 130.0h-2.3M654.7 108.8h-2.3M654.7 87.6h-2.3M654.7 66.5h-2.3M654.7 45.3h-2.3M654.7 24.2h-2.3M654.7 3.0h-2.3" stroke="#000" stroke-opacity="0.6" stroke-width="0.8" fill="none"/></svg><div class="tk r" style="left:31.3px;top:213.4px">0</div><div class="tk r" style="left:31.3px;top:192.5px">0.1</div><div class="tk r" style="left:31.3px;top:171.6px">0.2</div><div class="tk r" style="left:31.3px;top:150.7px">0.3</div><div class="tk r" style="left:31.3px;top:129.7px">0.4</div><div class="tk r" style="left:31.3px;top:108.8px">0.5</div><div class="tk r" style="left:31.3px;top:87.9px">0.6</div><div class="tk r" style="left:31.3px;top:66.9px">0.7</div><div class="tk r" style="left:31.3px;top:46.0px">0.8</div><div class="tk r" style="left:31.3px;top:25.1px">0.9</div><div class="tk r" style="left:31.3px;top:4.1px">1</div><div class="tk c" style="left:36.1px;top:223.3px">-5</div><div class="tk c" style="left:153.6px;top:223.3px">0</div><div class="tk c" style="left:271.1px;top:223.3px">5</div><div class="tk l" style="left:301.4px;top:215.2px">-0.8</div><div class="tk l" style="left:301.4px;top:194.0px">-0.6</div><div class="tk l" style="left:301.4px;top:172.8px">-0.4</div><div class="tk l" style="left:301.4px;top:151.7px">-0.2</div><div class="tk l" style="left:301.4px;top:130.5px">0</div><div class="tk l" style="left:301.4px;top:109.4px">0.2</div><div class="tk l" style="left:301.4px;top:88.2px">0.4</div><div class="tk l" style="left:301.4px;top:67.0px">0.6</div><div class="tk l" style="left:301.4px;top:45.9px">0.8</div><div class="tk l" style="left:301.4px;top:24.7px">1</div><div class="tk l" style="left:301.4px;top:3.6px">1.2</div><div class="xl c" style="left:154.4px;top:233.5px"><i>&omega;</i> &minus; <i>&omega;</i><sub>0</sub></div><div class="yl c" style="left:9.2px;top:107.5px"><i>C</i></div><div class="ll l" style="left:318.3px;top:107.2px"><i class="lam">&lambda;</i><sub><i>s</i></sub></div><div class="tk r" style="left:387.7px;top:213.4px">0</div><div class="tk r" style="left:387.7px;top:192.5px">0.1</div><div class="tk r" style="left:387.7px;top:171.6px">0.2</div><div class="tk r" style="left:387.7px;top:150.7px">0.3</div><div class="tk r" style="left:387.7px;top:129.7px">0.4</div><div class="tk r" style="left:387.7px;top:108.8px">0.5</div><div class="tk r" style="left:387.7px;top:87.9px">0.6</div><div class="tk r" style="left:387.7px;top:66.9px">0.7</div><div class="tk r" style="left:387.7px;top:46.0px">0.8</div><div class="tk r" style="left:387.7px;top:25.1px">0.9</div><div class="tk r" style="left:387.7px;top:4.1px">1</div><div class="tk c" style="left:392.5px;top:223.3px">-5</div><div class="tk c" style="left:510.0px;top:223.3px">0</div><div class="tk c" style="left:627.5px;top:223.3px">5</div><div class="tk l" style="left:657.8px;top:215.2px">-0.8</div><div class="tk l" style="left:657.8px;top:194.0px">-0.6</div><div class="tk l" style="left:657.8px;top:172.8px">-0.4</div><div class="tk l" style="left:657.8px;top:151.7px">-0.2</div><div class="tk l" style="left:657.8px;top:130.5px">0</div><div class="tk l" style="left:657.8px;top:109.4px">0.2</div><div class="tk l" style="left:657.8px;top:88.2px">0.4</div><div class="tk l" style="left:657.8px;top:67.0px">0.6</div><div class="tk l" style="left:657.8px;top:45.9px">0.8</div><div class="tk l" style="left:657.8px;top:24.7px">1</div><div class="tk l" style="left:657.8px;top:3.6px">1.2</div><div class="xl c" style="left:510.8px;top:233.5px"><i>&omega;</i> &minus; <i>&omega;</i><sub>0</sub></div><div class="yl c" style="left:365.6px;top:107.5px"><i>C</i></div><div class="ll l" style="left:674.0px;top:107.2px"><i class="lam">&lambda;</i><sub><i>s</i></sub></div><div class="pl l" style="left:-0.5px;top:10.5px"><i>a</i><span class="pp">)</span></div><div class="pl l" style="left:358.5px;top:10.5px"><i class="pb">b</i><span class="pp">)</span></div></body></html>
